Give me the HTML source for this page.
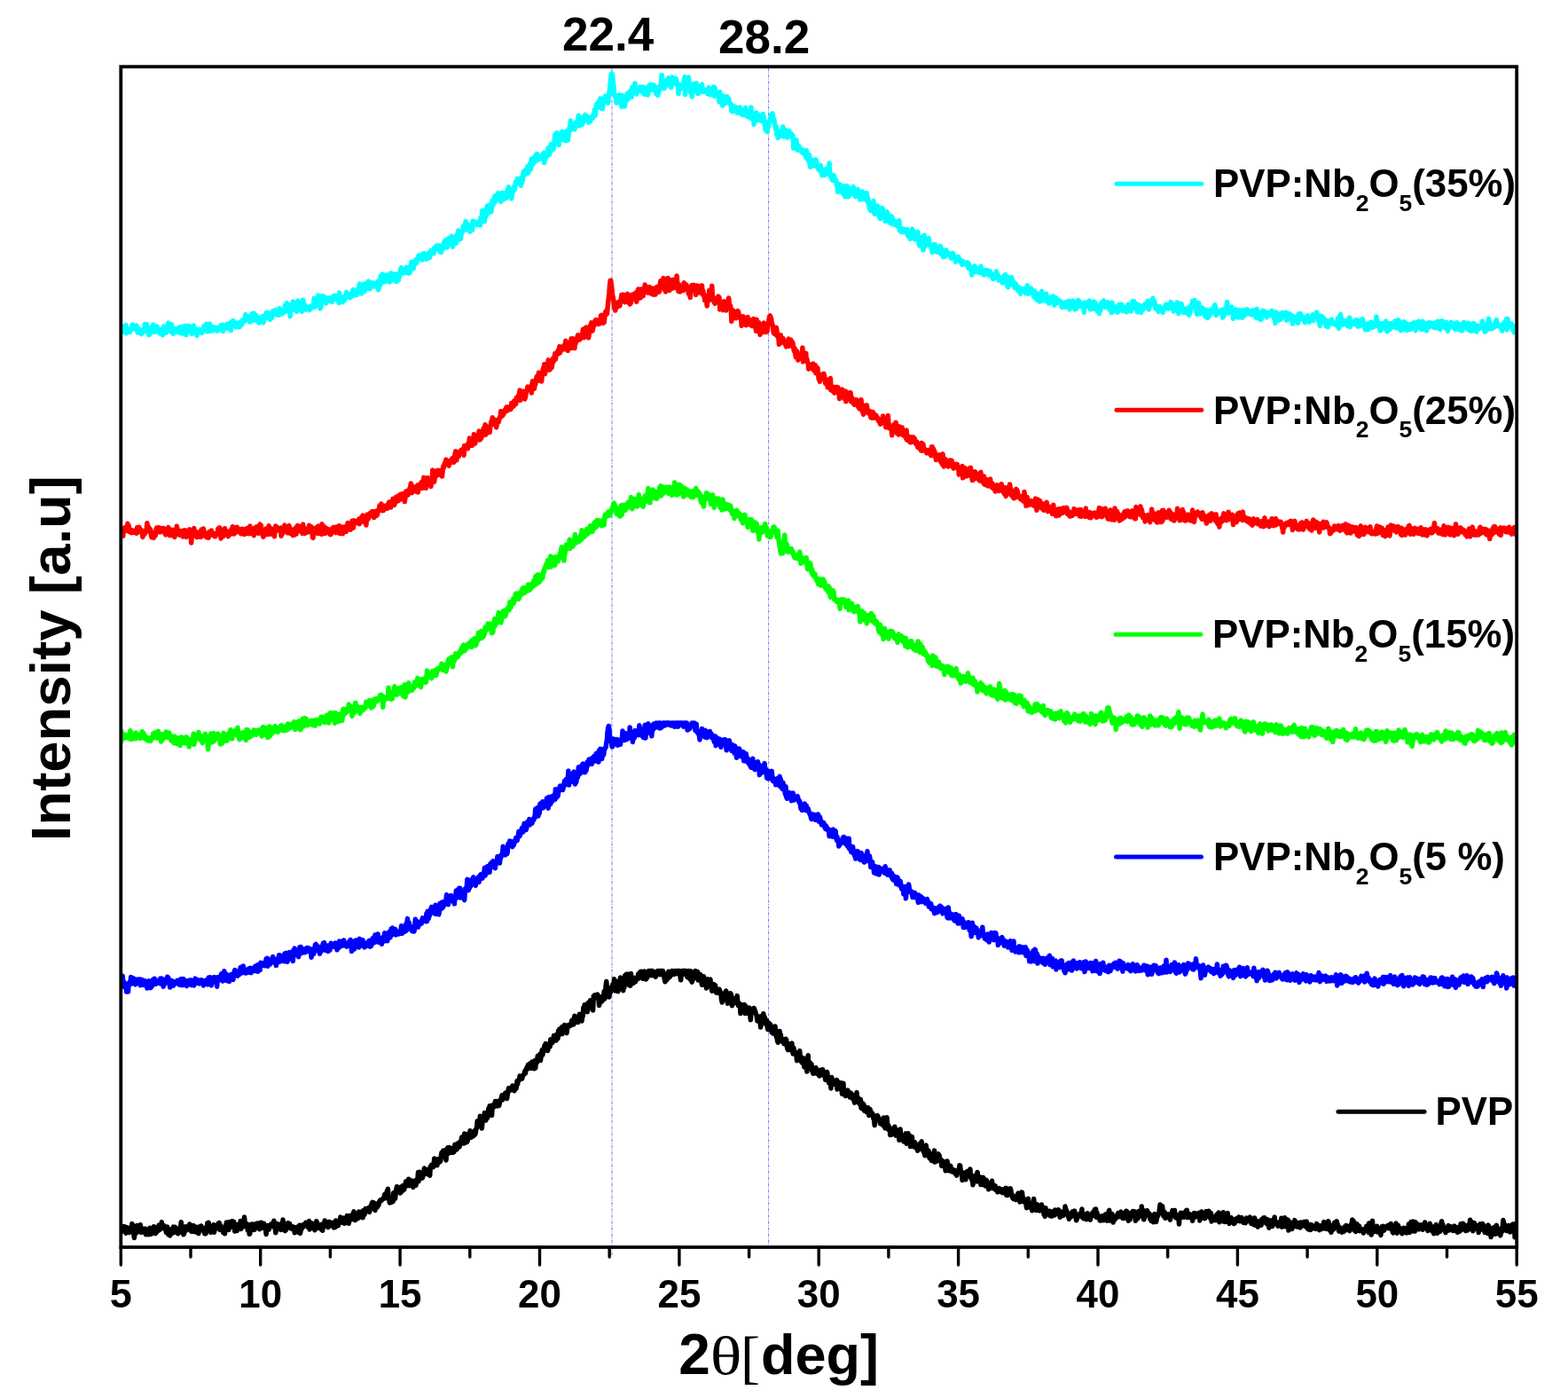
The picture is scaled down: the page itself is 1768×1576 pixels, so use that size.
<!DOCTYPE html>
<html><head><meta charset="utf-8"><style>
html,body{margin:0;padding:0;background:#fff;}
body{width:1768px;height:1576px;overflow:hidden;}
svg{display:block;}
text{font-family:"Liberation Sans",Arial,sans-serif;font-weight:bold;fill:#000;}
.tl{font-size:45px;text-anchor:middle;}
.lg{font-size:43.8px;}
.sub{font-size:26.5px;}
.pk{font-size:53px;}
.ax{font-size:64px;}
.serif{font-family:"Liberation Serif","Times New Roman",serif;font-weight:normal;}
</style></head><body>
<svg width="1768" height="1576" viewBox="0 0 1768 1576">
<rect width="1768" height="1576" fill="#fff"/>
<g stroke="#0000ff" stroke-width="1" stroke-dasharray="3.5 1.3 1 1.3" opacity="0.55">
<line x1="690" y1="77" x2="690" y2="1415"/>
<line x1="866.6" y1="77" x2="866.6" y2="1406"/>
</g>
<defs><clipPath id="pc"><rect x="136.3" y="0" width="1573.9" height="1576"/></clipPath></defs>
<g fill="none" stroke-width="5.5" stroke-linejoin="round" stroke-linecap="round" clip-path="url(#pc)">
<path d="M136.3 370.9L136.9 374.2 137.6 374.4 138.2 368.5 138.8 369.2 139.4 368.9 140.1 373.1 140.7 372.1 141.3 373.4 142.0 366.4 142.6 375.8 143.2 370.1 143.9 371.8 144.5 371.3 145.1 371.4 145.7 372.9 146.4 374.5 147.0 371.7 147.6 370.4 148.3 371.3 148.9 366.6 149.5 366.1 150.2 370.9 150.8 369.8 151.4 367.5 152.0 370.8 152.7 369.7 153.3 368.4 153.9 367.0 154.6 372.2 155.2 375.0 155.8 372.9 156.5 370.7 157.1 373.9 157.7 373.5 158.3 372.0 159.0 376.1 159.6 376.6 160.2 373.7 160.9 372.8 161.5 373.7 162.1 371.0 162.8 373.8 163.4 365.5 164.0 367.1 164.6 367.4 165.3 365.6 165.9 370.8 166.5 374.0 167.2 372.2 167.8 377.8 168.4 377.2 169.1 376.2 169.7 375.7 170.3 374.9 170.9 368.8 171.6 372.3 172.2 372.0 172.8 366.1 173.5 372.4 174.1 371.4 174.7 374.2 175.4 372.0 176.0 370.6 176.6 371.7 177.2 368.1 177.9 372.7 178.5 371.6 179.1 374.9 179.8 372.3 180.4 376.1 181.0 375.1 181.7 371.8 182.3 374.4 182.9 376.5 183.5 377.6 184.2 368.1 184.8 374.4 185.4 373.3 186.1 373.0 186.7 370.7 187.3 375.3 188.0 368.6 188.6 371.7 189.2 370.8 189.8 363.9 190.5 368.1 191.1 365.5 191.7 369.2 192.4 373.1 193.0 373.7 193.6 365.7 194.3 375.0 194.9 374.3 195.5 376.1 196.1 373.8 196.8 370.6 197.4 370.9 198.0 370.8 198.7 372.2 199.3 370.7 199.9 373.1 200.6 374.3 201.2 372.3 201.8 371.2 202.4 368.8 203.1 370.8 203.7 375.7 204.3 373.8 205.0 368.2 205.6 375.5 206.2 372.8 206.9 376.3 207.5 369.8 208.1 369.3 208.7 367.2 209.4 374.7 210.0 377.5 210.6 369.2 211.3 370.5 211.9 372.8 212.5 367.2 213.2 368.1 213.8 367.9 214.4 369.9 215.0 373.3 215.7 371.8 216.3 376.4 216.9 373.3 217.6 375.0 218.2 367.1 218.8 369.1 219.5 374.4 220.1 370.6 220.7 373.1 221.3 374.4 222.0 378.3 222.6 374.5 223.2 375.1 223.9 372.3 224.5 371.3 225.1 371.8 225.8 373.6 226.4 372.5 227.0 374.7 227.6 375.3 228.3 373.8 228.9 373.0 229.5 368.1 230.2 369.8 230.8 368.4 231.4 371.1 232.1 369.7 232.7 365.3 233.3 365.7 233.9 373.8 234.6 367.6 235.2 370.1 235.8 373.6 236.5 365.0 237.1 368.7 237.7 371.5 238.4 372.4 239.0 371.6 239.6 373.0 240.2 372.3 240.9 368.9 241.5 371.2 242.1 369.4 242.8 370.5 243.4 369.2 244.0 371.1 244.7 372.9 245.3 371.4 245.9 372.5 246.5 370.8 247.2 369.9 247.8 368.8 248.4 367.2 249.1 370.8 249.7 371.7 250.3 372.0 251.0 366.3 251.6 373.4 252.2 366.9 252.8 367.7 253.5 369.2 254.1 369.8 254.7 369.8 255.4 368.1 256.0 365.2 256.6 366.1 257.3 370.2 257.9 369.9 258.5 367.3 259.1 369.0 259.8 363.9 260.4 372.6 261.0 363.0 261.7 366.6 262.3 366.8 262.9 361.4 263.6 367.0 264.2 367.3 264.8 367.1 265.4 366.9 266.1 368.7 266.7 366.0 267.3 367.2 268.0 364.1 268.6 366.0 269.2 365.3 269.9 368.7 270.5 364.9 271.1 363.1 271.7 366.5 272.4 366.2 273.0 365.0 273.6 360.5 274.3 363.6 274.9 361.0 275.5 361.9 276.2 360.8 276.8 354.5 277.4 361.0 278.0 357.1 278.7 357.9 279.3 356.3 279.9 356.6 280.6 357.6 281.2 362.5 281.8 362.9 282.5 360.1 283.1 362.4 283.7 359.6 284.3 353.7 285.0 361.1 285.6 360.2 286.2 353.1 286.9 360.3 287.5 361.1 288.1 356.6 288.8 355.4 289.4 359.5 290.0 358.4 290.6 358.4 291.3 361.9 291.9 364.0 292.5 358.6 293.2 360.7 293.8 360.9 294.4 360.1 295.1 360.7 295.7 356.8 296.3 360.4 296.9 363.8 297.6 361.5 298.2 356.1 298.8 357.2 299.5 358.3 300.1 355.7 300.7 352.3 301.4 358.3 302.0 353.0 302.6 357.2 303.2 355.5 303.9 353.1 304.5 360.3 305.1 356.3 305.8 353.2 306.4 358.5 307.0 354.7 307.7 350.6 308.3 352.8 308.9 354.9 309.5 353.6 310.2 351.4 310.8 349.4 311.4 352.2 312.1 349.8 312.7 354.9 313.3 352.1 314.0 353.1 314.6 355.1 315.2 347.6 315.8 348.8 316.5 353.8 317.1 351.3 317.7 352.1 318.4 353.6 319.0 350.5 319.6 352.4 320.3 349.2 320.9 350.4 321.5 344.0 322.1 350.9 322.8 345.7 323.4 341.6 324.0 345.1 324.7 343.8 325.3 346.1 325.9 343.8 326.6 347.8 327.2 356.7 327.8 344.1 328.4 345.3 329.1 344.3 329.7 346.8 330.3 340.0 331.0 342.4 331.6 347.2 332.2 345.0 332.9 349.9 333.5 344.3 334.1 343.8 334.7 351.3 335.4 340.7 336.0 339.0 336.6 342.1 337.3 343.1 337.9 345.8 338.5 344.6 339.2 341.5 339.8 344.6 340.4 351.2 341.0 347.0 341.7 338.0 342.3 344.4 342.9 342.7 343.6 345.8 344.2 344.8 344.8 349.0 345.5 348.1 346.1 348.5 346.7 346.4 347.3 347.9 348.0 348.6 348.6 349.5 349.2 348.7 349.9 345.2 350.5 348.3 351.1 345.0 351.8 345.5 352.4 345.8 353.0 344.3 353.6 342.1 354.3 336.3 354.9 346.3 355.5 343.8 356.2 343.3 356.8 344.6 357.4 341.4 358.1 339.6 358.7 333.1 359.3 340.1 359.9 338.0 360.6 345.8 361.2 347.9 361.8 345.5 362.5 336.6 363.1 333.7 363.7 338.0 364.4 333.7 365.0 337.5 365.6 337.1 366.2 337.2 366.9 335.1 367.5 342.0 368.1 339.0 368.8 339.3 369.4 339.1 370.0 336.9 370.7 337.9 371.3 336.2 371.9 338.4 372.5 339.1 373.2 335.8 373.8 335.3 374.4 340.5 375.1 334.9 375.7 338.0 376.3 336.9 377.0 333.3 377.6 333.3 378.2 335.5 378.8 335.1 379.5 336.9 380.1 333.6 380.7 334.2 381.4 336.1 382.0 341.5 382.6 329.9 383.3 337.4 383.9 336.9 384.5 338.2 385.1 335.0 385.8 338.0 386.4 340.6 387.0 337.4 387.7 339.1 388.3 337.7 388.9 334.4 389.6 336.6 390.2 333.4 390.8 329.4 391.4 332.7 392.1 331.0 392.7 334.2 393.3 331.7 394.0 332.1 394.6 335.7 395.2 334.8 395.9 333.4 396.5 330.7 397.1 329.5 397.7 327.5 398.4 326.6 399.0 333.0 399.6 332.2 400.3 328.0 400.9 332.5 401.5 329.8 402.2 332.6 402.8 328.1 403.4 326.2 404.0 328.3 404.7 326.6 405.3 320.1 405.9 327.2 406.6 330.4 407.2 321.6 407.8 331.0 408.5 325.4 409.1 324.7 409.7 325.1 410.3 320.2 411.0 328.6 411.6 325.5 412.2 321.0 412.9 321.9 413.5 319.2 414.1 320.5 414.8 325.0 415.4 317.1 416.0 321.2 416.6 322.4 417.3 325.6 417.9 324.4 418.5 320.3 419.2 319.7 419.8 322.1 420.4 318.6 421.1 319.8 421.7 322.5 422.3 323.0 422.9 321.1 423.6 319.7 424.2 321.0 424.8 318.9 425.5 320.0 426.1 317.2 426.7 326.8 427.4 323.1 428.0 322.8 428.6 319.9 429.2 311.0 429.9 316.7 430.5 319.0 431.1 308.9 431.8 313.8 432.4 315.6 433.0 309.9 433.7 315.0 434.3 317.7 434.9 315.1 435.5 311.9 436.2 315.5 436.8 310.1 437.4 314.6 438.1 316.4 438.7 312.4 439.3 318.0 440.0 313.2 440.6 308.0 441.2 313.5 441.8 309.4 442.5 313.0 443.1 308.8 443.7 315.8 444.4 309.3 445.0 312.3 445.6 309.1 446.3 309.8 446.9 317.6 447.5 311.7 448.1 310.4 448.8 309.2 449.4 315.8 450.0 312.3 450.7 307.5 451.3 308.5 451.9 302.6 452.6 301.8 453.2 302.7 453.8 308.0 454.4 308.0 455.1 304.1 455.7 307.8 456.3 307.5 457.0 306.7 457.6 304.6 458.2 301.4 458.9 301.7 459.5 305.4 460.1 306.0 460.7 308.3 461.4 302.1 462.0 307.6 462.6 300.0 463.3 299.9 463.9 295.2 464.5 300.3 465.2 302.9 465.8 303.0 466.4 302.0 467.0 294.7 467.7 297.0 468.3 297.6 468.9 292.7 469.6 296.6 470.2 293.4 470.8 292.1 471.5 292.1 472.1 288.0 472.7 288.4 473.3 288.3 474.0 291.8 474.6 290.2 475.2 290.9 475.9 293.1 476.5 286.2 477.1 286.9 477.8 289.6 478.4 285.5 479.0 287.8 479.6 290.3 480.3 292.1 480.9 291.5 481.5 288.5 482.2 287.3 482.8 291.2 483.4 285.4 484.1 287.3 484.7 290.2 485.3 283.9 485.9 282.4 486.6 283.8 487.2 285.5 487.8 285.2 488.5 284.0 489.1 285.7 489.7 279.8 490.4 281.0 491.0 281.6 491.6 278.2 492.2 277.2 492.9 277.5 493.5 278.1 494.1 279.7 494.8 276.9 495.4 279.2 496.0 283.8 496.7 279.6 497.3 284.5 497.9 283.3 498.5 279.4 499.2 280.2 499.8 275.3 500.4 279.8 501.1 272.1 501.7 279.0 502.3 277.3 503.0 270.6 503.6 276.8 504.2 278.9 504.8 271.8 505.5 275.9 506.1 268.5 506.7 274.7 507.4 268.6 508.0 275.8 508.6 269.9 509.3 266.3 509.9 273.6 510.5 278.3 511.1 268.3 511.8 271.6 512.4 271.3 513.0 270.1 513.7 272.7 514.3 274.3 514.9 264.9 515.6 266.8 516.2 264.8 516.8 260.0 517.4 268.5 518.1 269.9 518.7 261.0 519.3 269.3 520.0 263.5 520.6 260.5 521.2 262.2 521.9 259.2 522.5 254.7 523.1 259.3 523.7 259.2 524.4 257.8 525.0 249.6 525.6 250.0 526.3 258.4 526.9 254.6 527.5 258.0 528.2 253.8 528.8 256.0 529.4 253.8 530.0 261.2 530.7 255.2 531.3 259.0 531.9 258.1 532.6 259.2 533.2 249.2 533.8 251.4 534.5 249.7 535.1 251.0 535.7 251.6 536.3 250.3 537.0 253.3 537.6 251.5 538.2 253.6 538.9 252.5 539.5 250.3 540.1 249.9 540.8 249.6 541.4 254.0 542.0 245.2 542.6 244.7 543.3 247.5 543.9 237.2 544.5 237.7 545.2 238.1 545.8 242.5 546.4 249.7 547.1 242.4 547.7 244.3 548.3 240.7 548.9 233.8 549.6 232.1 550.2 240.8 550.8 237.5 551.5 236.7 552.1 238.8 552.7 230.4 553.4 237.7 554.0 238.6 554.6 232.0 555.2 225.7 555.9 231.3 556.5 224.8 557.1 228.7 557.8 221.0 558.4 227.6 559.0 224.8 559.7 223.5 560.3 221.0 560.9 224.6 561.5 217.7 562.2 222.2 562.8 221.3 563.4 223.8 564.1 218.8 564.7 227.2 565.3 221.0 566.0 217.3 566.6 225.8 567.2 225.4 567.8 220.2 568.5 217.7 569.1 221.3 569.7 218.6 570.4 219.5 571.0 223.3 571.6 218.8 572.3 215.1 572.9 212.9 573.5 210.7 574.1 213.9 574.8 215.0 575.4 213.5 576.0 217.6 576.7 223.9 577.3 218.1 577.9 215.4 578.6 215.8 579.2 213.9 579.8 210.3 580.4 213.6 581.1 206.2 581.7 204.7 582.3 206.5 583.0 203.9 583.6 201.4 584.2 202.4 584.9 202.2 585.5 207.2 586.1 202.8 586.7 203.4 587.4 209.3 588.0 199.7 588.6 205.9 589.3 203.0 589.9 196.1 590.5 193.0 591.2 197.6 591.8 195.0 592.4 194.3 593.0 191.6 593.7 192.0 594.3 195.7 594.9 187.5 595.6 194.9 596.2 190.8 596.8 187.4 597.5 184.5 598.1 191.2 598.7 188.4 599.3 179.0 600.0 186.0 600.6 185.0 601.2 184.7 601.9 179.7 602.5 177.2 603.1 182.8 603.8 176.5 604.4 174.3 605.0 174.5 605.6 173.6 606.3 180.6 606.9 178.8 607.5 177.3 608.2 177.5 608.8 178.1 609.4 179.1 610.1 176.6 610.7 176.7 611.3 174.6 611.9 174.8 612.6 178.1 613.2 172.3 613.8 183.4 614.5 175.0 615.1 175.3 615.7 177.8 616.4 175.0 617.0 173.5 617.6 172.2 618.2 166.8 618.9 173.6 619.5 174.3 620.1 166.7 620.8 171.0 621.4 162.5 622.0 163.9 622.7 167.9 623.3 166.0 623.9 168.4 624.5 163.4 625.2 158.1 625.8 151.8 626.4 152.5 627.1 151.9 627.7 149.7 628.3 157.1 629.0 155.8 629.6 151.8 630.2 163.6 630.8 153.5 631.5 150.8 632.1 156.2 632.7 153.0 633.4 148.9 634.0 148.2 634.6 148.7 635.3 157.8 635.9 156.2 636.5 152.6 637.1 154.1 637.8 158.7 638.4 149.8 639.0 151.4 639.7 147.1 640.3 158.2 640.9 152.8 641.6 148.2 642.2 143.8 642.8 146.0 643.4 136.0 644.1 146.3 644.7 140.7 645.3 140.8 646.0 142.1 646.6 143.4 647.2 145.0 647.9 145.8 648.5 142.1 649.1 138.1 649.7 142.8 650.4 138.9 651.0 141.1 651.6 137.1 652.3 130.3 652.9 135.7 653.5 141.8 654.2 136.7 654.8 132.8 655.4 136.5 656.0 137.8 656.7 140.2 657.3 136.4 657.9 136.9 658.6 136.1 659.2 130.7 659.8 129.4 660.5 133.4 661.1 135.4 661.7 133.4 662.3 133.9 663.0 131.6 663.6 138.0 664.2 132.5 664.9 135.7 665.5 137.0 666.1 132.8 666.8 132.5 667.4 132.8 668.0 133.5 668.6 129.5 669.3 128.5 669.9 128.4 670.5 123.4 671.2 130.3 671.8 123.8 672.4 118.2 673.1 120.5 673.7 116.3 674.3 118.9 674.9 121.2 675.6 114.3 676.2 119.1 676.8 111.0 677.5 115.7 678.1 117.4 678.7 122.6 679.4 122.7 680.0 116.5 680.6 113.4 681.2 110.6 681.9 114.5 682.5 108.5 683.1 114.1 683.8 113.3 684.4 113.8 685.0 112.0 685.7 116.1 686.3 106.6 686.9 105.4 687.5 100.8 688.2 94.1 688.8 87.5 689.4 83.0 690.1 83.3 690.7 85.4 691.3 93.6 692.0 97.9 692.6 106.6 693.2 106.7 693.8 108.8 694.5 110.3 695.1 116.0 695.7 111.1 696.4 111.4 697.0 114.9 697.6 109.0 698.3 107.0 698.9 113.3 699.5 112.4 700.1 116.9 700.8 119.9 701.4 107.5 702.0 120.2 702.7 117.9 703.3 115.4 703.9 114.5 704.6 119.7 705.2 112.8 705.8 111.4 706.4 111.9 707.1 105.4 707.7 112.4 708.3 109.9 709.0 108.3 709.6 109.6 710.2 102.8 710.9 109.7 711.5 102.4 712.1 109.6 712.7 98.6 713.4 104.4 714.0 99.4 714.6 101.6 715.3 98.5 715.9 94.0 716.5 100.0 717.2 105.2 717.8 106.1 718.4 99.0 719.0 99.8 719.7 102.4 720.3 102.0 720.9 98.9 721.6 98.1 722.2 101.6 722.8 102.8 723.5 103.2 724.1 98.1 724.7 104.6 725.3 103.8 726.0 98.2 726.6 106.4 727.2 102.9 727.9 99.1 728.5 106.1 729.1 103.8 729.8 105.0 730.4 107.0 731.0 105.0 731.6 96.5 732.3 99.0 732.9 100.7 733.5 95.3 734.2 97.1 734.8 98.7 735.4 101.6 736.1 101.3 736.7 98.9 737.3 96.0 737.9 100.1 738.6 99.1 739.2 98.2 739.8 105.6 740.5 102.2 741.1 99.8 741.7 107.5 742.4 103.4 743.0 103.6 743.6 97.6 744.2 99.0 744.9 95.5 745.5 93.5 746.1 84.6 746.8 99.1 747.4 93.9 748.0 95.3 748.7 99.8 749.3 98.0 749.9 98.3 750.5 91.1 751.2 95.0 751.8 90.9 752.4 93.1 753.1 94.3 753.7 87.7 754.3 88.1 755.0 91.8 755.6 97.3 756.2 96.6 756.8 98.6 757.5 89.6 758.1 87.1 758.7 93.3 759.4 94.3 760.0 91.1 760.6 91.8 761.3 90.9 761.9 88.5 762.5 89.6 763.1 93.2 763.8 95.9 764.4 96.8 765.0 105.6 765.7 98.7 766.3 99.8 766.9 95.5 767.6 95.7 768.2 99.7 768.8 98.9 769.4 96.9 770.1 98.6 770.7 96.9 771.3 90.5 772.0 86.8 772.6 106.7 773.2 102.2 773.9 100.8 774.5 93.2 775.1 93.2 775.7 99.6 776.4 87.1 777.0 95.0 777.6 100.3 778.3 99.1 778.9 105.0 779.5 99.9 780.2 109.1 780.8 96.4 781.4 94.9 782.0 97.3 782.7 102.4 783.3 96.0 783.9 101.1 784.6 95.9 785.2 93.7 785.8 102.9 786.5 105.3 787.1 105.7 787.7 99.9 788.3 99.7 789.0 97.4 789.6 98.9 790.2 102.2 790.9 102.7 791.5 95.1 792.1 103.5 792.8 103.3 793.4 103.3 794.0 101.1 794.6 101.1 795.3 103.3 795.9 102.5 796.5 102.9 797.2 101.6 797.8 105.8 798.4 104.5 799.1 98.8 799.7 105.3 800.3 102.8 800.9 106.9 801.6 103.3 802.2 103.9 802.8 105.4 803.5 105.8 804.1 103.0 804.7 97.9 805.4 108.4 806.0 98.7 806.6 101.8 807.2 106.6 807.9 106.4 808.5 107.6 809.1 106.8 809.8 107.9 810.4 105.1 811.0 114.9 811.7 103.7 812.3 113.1 812.9 113.1 813.5 112.5 814.2 115.2 814.8 119.0 815.4 109.4 816.1 108.5 816.7 114.3 817.3 113.8 818.0 116.6 818.6 112.5 819.2 112.7 819.8 109.0 820.5 111.4 821.1 111.8 821.7 111.1 822.4 115.3 823.0 116.6 823.6 117.9 824.3 117.4 824.9 125.3 825.5 123.6 826.1 125.6 826.8 120.5 827.4 120.3 828.0 120.1 828.7 121.6 829.3 120.6 829.9 121.6 830.6 126.7 831.2 127.4 831.8 123.6 832.4 125.2 833.1 124.1 833.7 126.5 834.3 120.9 835.0 123.1 835.6 128.4 836.2 127.0 836.9 125.9 837.5 126.6 838.1 129.6 838.7 128.7 839.4 129.3 840.0 124.2 840.6 121.5 841.3 130.3 841.9 129.4 842.5 131.3 843.2 130.9 843.8 126.5 844.4 130.4 845.0 131.3 845.7 132.9 846.3 131.9 846.9 121.1 847.6 129.5 848.2 133.0 848.8 134.3 849.5 131.6 850.1 140.2 850.7 137.5 851.3 135.1 852.0 135.9 852.6 126.9 853.2 132.0 853.9 131.8 854.5 128.8 855.1 133.7 855.8 135.5 856.4 134.7 857.0 134.4 857.6 134.6 858.3 136.2 858.9 134.3 859.5 136.5 860.2 128.5 860.8 135.1 861.4 132.2 862.1 139.1 862.7 144.2 863.3 146.9 863.9 146.6 864.6 146.1 865.2 148.6 865.8 139.7 866.5 143.1 867.1 136.7 867.7 136.8 868.4 135.5 869.0 132.0 869.6 129.9 870.2 128.5 870.9 128.0 871.5 130.7 872.1 133.4 872.8 134.8 873.4 140.3 874.0 140.7 874.7 145.8 875.3 143.5 875.9 151.9 876.5 147.0 877.2 155.6 877.8 152.9 878.4 151.8 879.1 152.2 879.7 150.3 880.3 150.8 881.0 153.1 881.6 148.2 882.2 145.5 882.8 142.9 883.5 150.9 884.1 154.1 884.7 153.1 885.4 153.2 886.0 152.9 886.6 147.1 887.3 153.0 887.9 155.2 888.5 147.9 889.1 153.7 889.8 147.6 890.4 153.3 891.0 151.3 891.7 152.3 892.3 150.7 892.9 151.8 893.6 155.9 894.2 153.2 894.8 167.2 895.4 160.5 896.1 161.0 896.7 160.7 897.3 162.3 898.0 158.0 898.6 166.8 899.2 169.2 899.9 163.9 900.5 167.4 901.1 164.9 901.7 168.7 902.4 168.3 903.0 169.8 903.6 171.3 904.3 168.6 904.9 172.1 905.5 169.1 906.2 173.2 906.8 173.3 907.4 170.5 908.0 170.1 908.7 177.5 909.3 169.6 909.9 173.2 910.6 174.0 911.2 181.1 911.8 179.4 912.5 174.5 913.1 184.5 913.7 188.3 914.3 187.5 915.0 179.7 915.6 183.6 916.2 183.8 916.9 186.8 917.5 184.0 918.1 180.9 918.8 186.1 919.4 186.8 920.0 179.8 920.6 183.1 921.3 186.7 921.9 188.4 922.5 190.1 923.2 191.6 923.8 191.3 924.4 189.5 925.1 186.3 925.7 192.9 926.3 194.8 926.9 197.8 927.6 192.5 928.2 191.3 928.8 196.6 929.5 197.6 930.1 191.8 930.7 192.6 931.4 190.7 932.0 194.3 932.6 190.3 933.2 196.1 933.9 195.8 934.5 193.5 935.1 184.1 935.8 195.3 936.4 199.0 937.0 199.0 937.7 199.2 938.3 202.7 938.9 203.1 939.5 202.7 940.2 197.8 940.8 201.8 941.4 201.1 942.1 203.2 942.7 203.4 943.3 208.5 944.0 206.0 944.6 216.2 945.2 207.6 945.8 207.6 946.5 208.8 947.1 216.0 947.7 208.4 948.4 212.9 949.0 210.8 949.6 212.3 950.3 213.9 950.9 218.3 951.5 210.0 952.1 216.2 952.8 221.8 953.4 215.0 954.0 215.8 954.7 214.0 955.3 209.6 955.9 219.1 956.6 221.7 957.2 217.3 957.8 212.3 958.4 215.3 959.1 214.0 959.7 218.7 960.3 217.7 961.0 213.9 961.6 217.3 962.2 210.6 962.9 218.3 963.5 216.1 964.1 220.5 964.7 221.6 965.4 218.4 966.0 220.6 966.6 217.8 967.3 213.5 967.9 219.8 968.5 221.7 969.2 218.6 969.8 224.9 970.4 224.6 971.0 224.2 971.7 219.0 972.3 216.0 972.9 224.3 973.6 223.7 974.2 223.5 974.8 222.8 975.5 223.5 976.1 224.6 976.7 222.5 977.3 217.6 978.0 227.1 978.6 222.8 979.2 227.1 979.9 231.0 980.5 235.6 981.1 230.5 981.8 237.7 982.4 234.9 983.0 235.3 983.6 236.7 984.3 232.2 984.9 226.6 985.5 238.8 986.2 241.3 986.8 240.9 987.4 237.1 988.1 237.6 988.7 237.8 989.3 232.0 989.9 236.7 990.6 236.4 991.2 243.9 991.8 239.8 992.5 246.8 993.1 239.9 993.7 234.4 994.4 244.4 995.0 234.7 995.6 239.3 996.2 245.1 996.9 242.1 997.5 242.0 998.1 249.2 998.8 247.0 999.4 240.6 1000.0 238.8 1000.7 241.1 1001.3 245.7 1001.9 242.1 1002.5 246.7 1003.2 251.2 1003.8 251.2 1004.4 251.0 1005.1 250.8 1005.7 244.0 1006.3 252.8 1007.0 252.0 1007.6 250.7 1008.2 250.1 1008.8 249.4 1009.5 250.7 1010.1 253.8 1010.7 251.2 1011.4 252.3 1012.0 251.9 1012.6 255.2 1013.3 251.1 1013.9 248.7 1014.5 259.7 1015.1 257.3 1015.8 261.2 1016.4 257.1 1017.0 261.5 1017.7 261.0 1018.3 261.7 1018.9 259.6 1019.6 258.5 1020.2 259.3 1020.8 259.1 1021.4 262.0 1022.1 262.2 1022.7 258.4 1023.3 264.9 1024.0 262.5 1024.6 266.8 1025.2 264.8 1025.9 262.1 1026.5 269.4 1027.1 266.9 1027.7 261.6 1028.4 258.3 1029.0 262.7 1029.6 260.2 1030.3 262.0 1030.9 266.4 1031.5 269.8 1032.2 262.3 1032.8 267.5 1033.4 267.9 1034.0 263.2 1034.7 261.4 1035.3 271.1 1035.9 271.2 1036.6 277.0 1037.2 274.4 1037.8 271.9 1038.5 274.3 1039.1 267.4 1039.7 272.7 1040.3 272.4 1041.0 282.1 1041.6 275.6 1042.2 265.2 1042.9 277.9 1043.5 269.7 1044.1 274.9 1044.8 270.6 1045.4 273.4 1046.0 273.3 1046.6 272.5 1047.3 268.6 1047.9 276.3 1048.5 275.1 1049.2 275.8 1049.8 279.3 1050.4 278.3 1051.1 284.5 1051.7 277.5 1052.3 278.1 1052.9 279.4 1053.6 275.5 1054.2 275.6 1054.8 282.0 1055.5 281.9 1056.1 284.1 1056.7 282.5 1057.4 278.9 1058.0 282.5 1058.6 282.8 1059.2 284.8 1059.9 282.6 1060.5 277.5 1061.1 286.5 1061.8 283.3 1062.4 287.0 1063.0 281.7 1063.7 289.8 1064.3 282.9 1064.9 287.3 1065.5 289.3 1066.2 287.8 1066.8 281.9 1067.4 283.5 1068.1 284.2 1068.7 287.1 1069.3 286.7 1070.0 285.6 1070.6 285.9 1071.2 286.4 1071.8 288.4 1072.5 291.1 1073.1 288.0 1073.7 289.6 1074.4 285.4 1075.0 287.8 1075.6 289.9 1076.3 289.3 1076.9 293.0 1077.5 295.2 1078.1 290.9 1078.8 292.3 1079.4 289.9 1080.0 292.2 1080.7 289.5 1081.3 292.5 1081.9 291.9 1082.6 293.8 1083.2 296.1 1083.8 294.6 1084.4 294.0 1085.1 298.4 1085.7 294.2 1086.3 298.1 1087.0 296.5 1087.6 297.7 1088.2 297.2 1088.9 296.8 1089.5 297.6 1090.1 296.9 1090.7 296.0 1091.4 301.2 1092.0 296.7 1092.6 302.8 1093.3 299.9 1093.9 303.3 1094.5 300.6 1095.2 303.8 1095.8 310.0 1096.4 306.5 1097.0 305.7 1097.7 303.8 1098.3 305.9 1098.9 299.9 1099.6 300.8 1100.2 304.8 1100.8 306.8 1101.5 302.8 1102.1 303.9 1102.7 304.1 1103.3 306.7 1104.0 303.1 1104.6 302.7 1105.2 307.8 1105.9 300.3 1106.5 302.8 1107.1 305.6 1107.8 304.3 1108.4 308.3 1109.0 309.5 1109.6 309.9 1110.3 304.4 1110.9 305.9 1111.5 308.3 1112.2 307.4 1112.8 304.6 1113.4 308.9 1114.1 306.5 1114.7 306.6 1115.3 310.5 1115.9 305.5 1116.6 307.8 1117.2 310.5 1117.8 309.3 1118.5 309.1 1119.1 313.7 1119.7 314.7 1120.4 314.1 1121.0 313.2 1121.6 310.6 1122.2 309.8 1122.9 310.4 1123.5 305.9 1124.1 312.0 1124.8 309.0 1125.4 311.0 1126.0 315.9 1126.7 312.8 1127.3 312.8 1127.9 316.2 1128.5 314.5 1129.2 314.4 1129.8 313.5 1130.4 319.0 1131.1 317.0 1131.7 316.3 1132.3 310.7 1133.0 316.6 1133.6 309.4 1134.2 315.6 1134.8 313.4 1135.5 321.9 1136.1 312.6 1136.7 323.7 1137.4 322.0 1138.0 313.7 1138.6 317.2 1139.3 320.7 1139.9 319.7 1140.5 312.4 1141.1 315.5 1141.8 316.5 1142.4 318.3 1143.0 318.1 1143.7 324.3 1144.3 320.7 1144.9 320.9 1145.6 320.4 1146.2 323.6 1146.8 325.6 1147.4 323.3 1148.1 327.7 1148.7 323.7 1149.3 327.5 1150.0 327.3 1150.6 331.2 1151.2 325.5 1151.9 326.3 1152.5 327.3 1153.1 325.5 1153.7 326.3 1154.4 328.0 1155.0 325.5 1155.6 328.0 1156.3 330.4 1156.9 327.2 1157.5 330.5 1158.2 321.8 1158.8 324.8 1159.4 331.2 1160.0 328.5 1160.7 326.6 1161.3 327.8 1161.9 329.7 1162.6 324.9 1163.2 330.3 1163.8 327.6 1164.5 328.8 1165.1 329.5 1165.7 334.4 1166.3 328.0 1167.0 331.1 1167.6 336.4 1168.2 331.6 1168.9 330.5 1169.5 338.4 1170.1 336.4 1170.8 335.2 1171.4 336.6 1172.0 332.5 1172.6 340.1 1173.3 331.5 1173.9 331.1 1174.5 328.2 1175.2 333.0 1175.8 338.7 1176.4 334.4 1177.1 336.8 1177.7 333.8 1178.3 338.7 1178.9 334.5 1179.6 331.2 1180.2 337.4 1180.8 336.8 1181.5 340.6 1182.1 340.1 1182.7 342.0 1183.4 341.7 1184.0 336.8 1184.6 335.0 1185.2 340.6 1185.9 336.3 1186.5 338.9 1187.1 338.4 1187.8 333.9 1188.4 336.9 1189.0 344.1 1189.7 338.4 1190.3 338.7 1190.9 336.0 1191.5 339.7 1192.2 340.1 1192.8 339.9 1193.4 341.2 1194.1 339.6 1194.7 338.9 1195.3 341.2 1196.0 341.8 1196.6 340.2 1197.2 346.2 1197.8 342.7 1198.5 344.0 1199.1 341.4 1199.7 346.3 1200.4 342.5 1201.0 340.7 1201.6 340.7 1202.3 344.5 1202.9 340.6 1203.5 346.2 1204.1 343.5 1204.8 339.2 1205.4 344.2 1206.0 348.7 1206.7 341.8 1207.3 340.0 1207.9 345.7 1208.6 346.4 1209.2 345.5 1209.8 338.9 1210.4 340.2 1211.1 340.6 1211.7 343.9 1212.3 348.8 1213.0 344.5 1213.6 348.1 1214.2 347.0 1214.9 344.7 1215.5 338.4 1216.1 338.5 1216.7 341.1 1217.4 340.3 1218.0 345.2 1218.6 342.7 1219.3 344.6 1219.9 344.9 1220.5 343.1 1221.2 344.4 1221.8 345.7 1222.4 352.0 1223.0 340.9 1223.7 345.2 1224.3 345.1 1224.9 342.6 1225.6 344.2 1226.2 341.0 1226.8 342.4 1227.5 345.5 1228.1 339.0 1228.7 346.2 1229.3 348.7 1230.0 345.3 1230.6 347.1 1231.2 346.5 1231.9 345.6 1232.5 348.2 1233.1 340.0 1233.8 346.4 1234.4 343.5 1235.0 341.0 1235.6 343.7 1236.3 345.7 1236.9 350.3 1237.5 345.2 1238.2 348.7 1238.8 348.9 1239.4 353.4 1240.1 345.8 1240.7 350.3 1241.3 341.8 1241.9 344.0 1242.6 342.7 1243.2 342.7 1243.8 340.1 1244.5 338.8 1245.1 340.5 1245.7 346.4 1246.4 344.3 1247.0 341.9 1247.6 345.5 1248.2 342.1 1248.9 342.3 1249.5 340.7 1250.1 346.1 1250.8 348.8 1251.4 342.4 1252.0 346.6 1252.7 348.8 1253.3 352.6 1253.9 341.1 1254.5 348.3 1255.2 350.6 1255.8 345.4 1256.4 350.9 1257.1 349.4 1257.7 349.5 1258.3 345.8 1259.0 348.9 1259.6 346.7 1260.2 352.2 1260.8 350.2 1261.5 348.5 1262.1 343.3 1262.7 349.8 1263.4 345.1 1264.0 346.4 1264.6 343.1 1265.3 344.5 1265.9 350.6 1266.5 350.3 1267.1 346.6 1267.8 349.1 1268.4 350.4 1269.0 349.2 1269.7 347.2 1270.3 351.8 1270.9 348.9 1271.6 345.8 1272.2 343.2 1272.8 344.7 1273.4 345.7 1274.1 349.1 1274.7 346.9 1275.3 350.9 1276.0 348.0 1276.6 346.6 1277.2 339.4 1277.9 342.4 1278.5 339.8 1279.1 344.3 1279.7 344.4 1280.4 347.1 1281.0 345.7 1281.6 342.8 1282.3 351.8 1282.9 347.2 1283.5 346.5 1284.2 345.7 1284.8 344.2 1285.4 349.4 1286.0 349.3 1286.7 352.3 1287.3 349.8 1287.9 348.8 1288.6 349.0 1289.2 344.4 1289.8 344.3 1290.5 345.8 1291.1 342.9 1291.7 347.1 1292.3 343.7 1293.0 346.0 1293.6 344.7 1294.2 339.6 1294.9 343.7 1295.5 348.9 1296.1 340.7 1296.8 343.9 1297.4 343.7 1298.0 339.3 1298.6 341.8 1299.3 341.0 1299.9 336.3 1300.5 342.9 1301.2 343.6 1301.8 339.8 1302.4 344.6 1303.1 348.2 1303.7 344.8 1304.3 348.4 1304.9 348.9 1305.6 348.3 1306.2 351.4 1306.8 348.9 1307.5 345.5 1308.1 348.9 1308.7 349.0 1309.4 350.7 1310.0 348.0 1310.6 349.0 1311.2 352.2 1311.9 348.6 1312.5 348.9 1313.1 347.2 1313.8 344.6 1314.4 344.9 1315.0 343.2 1315.7 347.3 1316.3 346.3 1316.9 346.9 1317.5 348.2 1318.2 346.8 1318.8 346.8 1319.4 345.9 1320.1 340.5 1320.7 343.0 1321.3 346.2 1322.0 346.5 1322.6 345.4 1323.2 351.0 1323.8 347.3 1324.5 343.5 1325.1 346.5 1325.7 349.2 1326.4 347.4 1327.0 340.9 1327.6 347.7 1328.3 348.4 1328.9 353.7 1329.5 342.0 1330.1 350.7 1330.8 345.6 1331.4 346.9 1332.0 342.4 1332.7 345.4 1333.3 350.0 1333.9 347.8 1334.6 352.4 1335.2 351.4 1335.8 348.8 1336.4 349.6 1337.1 348.4 1337.7 348.7 1338.3 353.2 1339.0 348.0 1339.6 347.2 1340.2 351.5 1340.9 355.2 1341.5 351.7 1342.1 352.0 1342.7 349.0 1343.4 343.8 1344.0 346.3 1344.6 339.2 1345.3 342.8 1345.9 345.7 1346.5 340.7 1347.2 338.7 1347.8 342.4 1348.4 347.7 1349.0 352.4 1349.7 354.3 1350.3 351.6 1350.9 342.6 1351.6 341.7 1352.2 349.3 1352.8 353.8 1353.5 346.2 1354.1 349.3 1354.7 348.9 1355.3 348.2 1356.0 347.4 1356.6 351.8 1357.2 352.9 1357.9 351.5 1358.5 355.1 1359.1 357.0 1359.8 349.3 1360.4 351.1 1361.0 354.5 1361.6 358.4 1362.3 355.1 1362.9 357.1 1363.5 352.6 1364.2 354.9 1364.8 349.6 1365.4 352.7 1366.1 350.7 1366.7 349.2 1367.3 351.8 1367.9 349.8 1368.6 346.6 1369.2 349.3 1369.8 343.7 1370.5 350.9 1371.1 355.5 1371.7 349.4 1372.4 350.4 1373.0 350.3 1373.6 352.7 1374.2 350.8 1374.9 353.0 1375.5 351.9 1376.1 351.3 1376.8 352.6 1377.4 351.8 1378.0 349.1 1378.7 358.1 1379.3 353.8 1379.9 349.1 1380.5 356.0 1381.2 350.2 1381.8 350.6 1382.4 348.9 1383.1 344.6 1383.7 340.4 1384.3 349.3 1385.0 350.4 1385.6 353.0 1386.2 348.4 1386.8 347.9 1387.5 348.6 1388.1 349.0 1388.7 346.0 1389.4 351.5 1390.0 350.1 1390.6 359.2 1391.3 350.5 1391.9 352.8 1392.5 351.6 1393.1 348.7 1393.8 351.9 1394.4 356.6 1395.0 357.3 1395.7 354.7 1396.3 354.7 1396.9 357.9 1397.6 349.4 1398.2 355.2 1398.8 357.6 1399.4 356.8 1400.1 352.1 1400.7 350.6 1401.3 358.0 1402.0 352.5 1402.6 349.7 1403.2 350.3 1403.9 352.1 1404.5 354.9 1405.1 350.8 1405.7 352.9 1406.4 348.8 1407.0 351.9 1407.6 352.9 1408.3 350.3 1408.9 353.9 1409.5 354.2 1410.2 352.7 1410.8 354.6 1411.4 351.7 1412.0 352.8 1412.7 349.7 1413.3 352.4 1413.9 352.5 1414.6 356.1 1415.2 354.5 1415.8 355.4 1416.5 358.3 1417.1 348.3 1417.7 354.0 1418.3 350.7 1419.0 357.3 1419.6 359.2 1420.2 359.5 1420.9 357.9 1421.5 353.5 1422.1 360.4 1422.8 356.2 1423.4 353.3 1424.0 350.2 1424.6 354.5 1425.3 352.0 1425.9 351.2 1426.5 353.6 1427.2 355.6 1427.8 353.8 1428.4 357.8 1429.1 352.4 1429.7 352.8 1430.3 355.2 1430.9 353.7 1431.6 355.2 1432.2 354.8 1432.8 354.5 1433.5 353.9 1434.1 350.2 1434.7 356.4 1435.4 353.2 1436.0 357.1 1436.6 358.6 1437.2 357.7 1437.9 364.5 1438.5 352.0 1439.1 352.7 1439.8 356.0 1440.4 359.0 1441.0 355.9 1441.7 353.7 1442.3 361.0 1442.9 354.3 1443.5 357.2 1444.2 359.8 1444.8 355.5 1445.4 352.7 1446.1 356.3 1446.7 354.6 1447.3 356.4 1448.0 352.8 1448.6 355.3 1449.2 354.9 1449.8 352.3 1450.5 360.9 1451.1 358.6 1451.7 360.7 1452.4 356.5 1453.0 358.2 1453.6 357.6 1454.3 353.6 1454.9 359.0 1455.5 355.8 1456.1 359.6 1456.8 355.7 1457.4 365.0 1458.0 363.5 1458.7 360.8 1459.3 357.6 1459.9 357.5 1460.6 361.4 1461.2 358.5 1461.8 362.0 1462.4 361.8 1463.1 360.2 1463.7 364.3 1464.3 354.0 1465.0 359.1 1465.6 357.3 1466.2 353.4 1466.9 359.0 1467.5 359.4 1468.1 358.1 1468.7 356.7 1469.4 359.7 1470.0 361.3 1470.6 358.3 1471.3 363.7 1471.9 359.9 1472.5 359.0 1473.2 360.9 1473.8 357.8 1474.4 355.9 1475.0 360.0 1475.7 361.1 1476.3 363.3 1476.9 361.8 1477.6 359.0 1478.2 358.6 1478.8 357.7 1479.5 358.3 1480.1 354.7 1480.7 361.5 1481.3 358.0 1482.0 358.0 1482.6 357.7 1483.2 355.2 1483.9 356.8 1484.5 351.9 1485.1 358.2 1485.8 358.7 1486.4 361.4 1487.0 361.2 1487.6 355.7 1488.3 367.3 1488.9 361.7 1489.5 362.0 1490.2 356.5 1490.8 362.9 1491.4 360.9 1492.1 358.2 1492.7 359.9 1493.3 363.7 1493.9 360.3 1494.6 360.6 1495.2 367.5 1495.8 364.4 1496.5 363.2 1497.1 368.6 1497.7 363.8 1498.4 363.0 1499.0 364.0 1499.6 361.6 1500.2 364.5 1500.9 362.2 1501.5 360.2 1502.1 361.9 1502.8 365.1 1503.4 363.6 1504.0 365.3 1504.7 365.7 1505.3 364.9 1505.9 365.9 1506.5 364.5 1507.2 364.3 1507.8 368.2 1508.4 358.7 1509.1 363.8 1509.7 370.2 1510.3 356.5 1511.0 363.1 1511.6 354.6 1512.2 360.6 1512.8 365.5 1513.5 366.3 1514.1 362.4 1514.7 362.8 1515.4 361.4 1516.0 365.4 1516.6 363.1 1517.3 364.0 1517.9 365.7 1518.5 365.9 1519.1 367.0 1519.8 364.2 1520.4 360.1 1521.0 367.5 1521.7 357.9 1522.3 368.4 1522.9 364.7 1523.6 364.5 1524.2 364.1 1524.8 363.6 1525.4 365.3 1526.1 365.0 1526.7 362.4 1527.3 365.4 1528.0 361.6 1528.6 365.8 1529.2 360.7 1529.9 360.7 1530.5 365.8 1531.1 368.1 1531.7 362.1 1532.4 362.9 1533.0 367.6 1533.6 361.7 1534.3 361.3 1534.9 365.8 1535.5 364.1 1536.2 359.6 1536.8 361.3 1537.4 366.5 1538.0 367.5 1538.7 369.1 1539.3 371.6 1539.9 365.6 1540.6 369.9 1541.2 371.3 1541.8 365.1 1542.5 371.6 1543.1 366.8 1543.7 368.7 1544.3 369.8 1545.0 363.8 1545.6 369.6 1546.2 363.0 1546.9 366.8 1547.5 364.4 1548.1 368.9 1548.8 368.5 1549.4 367.2 1550.0 367.8 1550.6 366.5 1551.3 364.3 1551.9 357.1 1552.5 364.4 1553.2 367.1 1553.8 362.9 1554.4 364.6 1555.1 369.1 1555.7 370.3 1556.3 372.8 1556.9 372.3 1557.6 364.8 1558.2 368.3 1558.8 364.9 1559.5 370.1 1560.1 368.3 1560.7 365.7 1561.4 366.8 1562.0 365.7 1562.6 362.0 1563.2 367.3 1563.9 373.4 1564.5 366.4 1565.1 368.5 1565.8 367.6 1566.4 366.7 1567.0 371.4 1567.7 364.7 1568.3 365.5 1568.9 365.1 1569.5 367.2 1570.2 367.8 1570.8 368.3 1571.4 363.7 1572.1 366.1 1572.7 368.9 1573.3 361.8 1574.0 363.9 1574.6 369.5 1575.2 366.9 1575.8 369.9 1576.5 360.7 1577.1 368.5 1577.7 362.1 1578.4 366.3 1579.0 370.4 1579.6 372.7 1580.3 364.9 1580.9 365.1 1581.5 364.1 1582.1 365.4 1582.8 362.7 1583.4 371.2 1584.0 367.0 1584.7 364.6 1585.3 364.3 1585.9 370.6 1586.6 372.3 1587.2 365.7 1587.8 369.4 1588.4 370.6 1589.1 369.9 1589.7 365.8 1590.3 371.5 1591.0 366.2 1591.6 366.5 1592.2 364.8 1592.9 365.2 1593.5 369.2 1594.1 364.6 1594.7 363.7 1595.4 365.1 1596.0 372.5 1596.6 366.5 1597.3 364.0 1597.9 367.2 1598.5 366.2 1599.2 364.6 1599.8 362.1 1600.4 367.4 1601.0 366.0 1601.7 370.3 1602.3 366.2 1602.9 371.5 1603.6 366.1 1604.2 362.2 1604.8 370.7 1605.5 364.4 1606.1 367.5 1606.7 368.5 1607.3 371.1 1608.0 370.6 1608.6 372.9 1609.2 369.8 1609.9 364.0 1610.5 364.2 1611.1 368.0 1611.8 363.5 1612.4 368.2 1613.0 367.2 1613.6 364.1 1614.3 367.6 1614.9 366.3 1615.5 364.9 1616.2 366.9 1616.8 369.2 1617.4 367.6 1618.1 364.0 1618.7 366.0 1619.3 369.8 1619.9 368.3 1620.6 368.4 1621.2 362.3 1621.8 365.0 1622.5 368.1 1623.1 365.6 1623.7 371.4 1624.4 364.4 1625.0 365.6 1625.6 361.8 1626.2 361.8 1626.9 363.7 1627.5 364.6 1628.1 365.6 1628.8 369.0 1629.4 369.4 1630.0 370.3 1630.7 363.3 1631.3 367.9 1631.9 369.9 1632.5 373.2 1633.2 368.2 1633.8 369.8 1634.4 366.3 1635.1 368.1 1635.7 366.1 1636.3 363.3 1637.0 364.6 1637.6 366.5 1638.2 367.2 1638.8 365.2 1639.5 370.2 1640.1 366.7 1640.7 371.2 1641.4 368.9 1642.0 364.0 1642.6 363.8 1643.3 371.2 1643.9 368.0 1644.5 368.1 1645.1 365.6 1645.8 369.0 1646.4 371.6 1647.0 371.4 1647.7 369.2 1648.3 373.0 1648.9 367.6 1649.6 364.5 1650.2 366.9 1650.8 363.3 1651.4 367.1 1652.1 365.2 1652.7 368.0 1653.3 365.8 1654.0 370.7 1654.6 366.8 1655.2 371.2 1655.9 364.3 1656.5 369.5 1657.1 372.6 1657.7 370.2 1658.4 372.3 1659.0 366.9 1659.6 373.3 1660.3 371.8 1660.9 364.6 1661.5 365.0 1662.2 365.0 1662.8 367.7 1663.4 370.7 1664.0 365.9 1664.7 374.1 1665.3 371.3 1665.9 367.5 1666.6 371.7 1667.2 367.5 1667.8 370.8 1668.5 369.5 1669.1 368.2 1669.7 369.2 1670.3 367.8 1671.0 364.9 1671.6 362.1 1672.2 364.1 1672.9 369.3 1673.5 367.6 1674.1 374.0 1674.8 371.1 1675.4 372.4 1676.0 372.8 1676.6 368.0 1677.3 368.0 1677.9 364.5 1678.5 359.6 1679.2 362.0 1679.8 370.5 1680.4 368.6 1681.1 370.7 1681.7 368.1 1682.3 369.2 1682.9 370.2 1683.6 367.8 1684.2 366.2 1684.8 369.1 1685.5 364.8 1686.1 363.6 1686.7 366.9 1687.4 360.5 1688.0 367.3 1688.6 364.6 1689.2 367.7 1689.9 367.7 1690.5 367.2 1691.1 368.3 1691.8 368.3 1692.4 366.5 1693.0 369.9 1693.7 373.0 1694.3 369.2 1694.9 369.1 1695.5 365.7 1696.2 363.4 1696.8 367.4 1697.4 365.6 1698.1 366.1 1698.7 359.6 1699.3 371.7 1700.0 359.5 1700.6 363.7 1701.2 367.9 1701.8 364.2 1702.5 366.3 1703.1 365.2 1703.7 367.3 1704.4 365.2 1705.0 369.6 1705.6 371.7 1706.3 370.0 1706.9 374.2 1707.5 374.6 1708.1 371.2 1708.8 369.5 1709.4 368.1 1710.0 366.9" stroke="#00ffff"/>
<path d="M136.3 598.8L136.9 601.3 137.6 600.9 138.2 601.6 138.8 604.3 139.4 595.7 140.1 597.8 140.7 594.8 141.3 596.4 142.0 598.1 142.6 596.0 143.2 596.2 143.9 590.2 144.5 596.2 145.1 592.4 145.7 599.6 146.4 597.2 147.0 599.4 147.6 597.1 148.3 600.6 148.9 600.4 149.5 599.8 150.2 598.7 150.8 600.2 151.4 598.4 152.0 599.3 152.7 599.2 153.3 598.2 153.9 601.2 154.6 594.8 155.2 600.6 155.8 597.2 156.5 596.8 157.1 594.4 157.7 597.6 158.3 598.0 159.0 599.2 159.6 597.8 160.2 599.6 160.9 605.5 161.5 600.9 162.1 598.8 162.8 602.5 163.4 601.2 164.0 600.6 164.6 599.1 165.3 595.8 165.9 589.8 166.5 592.2 167.2 595.2 167.8 594.4 168.4 597.3 169.1 599.7 169.7 596.9 170.3 603.1 170.9 605.7 171.6 602.9 172.2 604.0 172.8 605.1 173.5 606.2 174.1 600.5 174.7 601.4 175.4 603.7 176.0 596.9 176.6 595.0 177.2 595.0 177.9 598.4 178.5 598.9 179.1 594.6 179.8 595.2 180.4 600.0 181.0 599.1 181.7 597.8 182.3 598.7 182.9 598.9 183.5 595.6 184.2 598.4 184.8 595.6 185.4 596.9 186.1 601.7 186.7 602.8 187.3 599.9 188.0 599.1 188.6 600.2 189.2 599.3 189.8 594.5 190.5 600.0 191.1 603.5 191.7 601.8 192.4 597.2 193.0 603.6 193.6 597.8 194.3 597.3 194.9 600.9 195.5 603.8 196.1 598.4 196.8 605.6 197.4 603.3 198.0 599.5 198.7 598.4 199.3 593.2 199.9 596.5 200.6 600.2 201.2 597.8 201.8 598.5 202.4 603.2 203.1 599.8 203.7 601.2 204.3 598.8 205.0 598.6 205.6 601.5 206.2 605.0 206.9 598.3 207.5 602.0 208.1 597.7 208.7 604.4 209.4 604.4 210.0 605.4 210.6 601.7 211.3 598.3 211.9 604.1 212.5 601.5 213.2 599.1 213.8 596.9 214.4 604.5 215.0 602.2 215.7 612.0 216.3 602.7 216.9 602.7 217.6 602.0 218.2 596.4 218.8 595.7 219.5 604.0 220.1 600.9 220.7 599.2 221.3 599.9 222.0 605.8 222.6 605.2 223.2 602.4 223.9 601.8 224.5 602.1 225.1 603.2 225.8 599.2 226.4 605.5 227.0 597.1 227.6 598.6 228.3 598.9 228.9 600.6 229.5 596.0 230.2 599.8 230.8 603.4 231.4 604.5 232.1 603.7 232.7 605.6 233.3 605.9 233.9 602.0 234.6 601.3 235.2 606.3 235.8 599.4 236.5 601.8 237.1 601.0 237.7 598.9 238.4 598.1 239.0 601.2 239.6 603.0 240.2 602.3 240.9 601.2 241.5 604.4 242.1 604.7 242.8 604.8 243.4 603.1 244.0 602.3 244.7 601.3 245.3 600.3 245.9 596.0 246.5 598.6 247.2 597.0 247.8 594.8 248.4 597.5 249.1 607.0 249.7 600.1 250.3 597.6 251.0 599.1 251.6 604.7 252.2 599.5 252.8 598.9 253.5 595.8 254.1 597.4 254.7 600.6 255.4 600.7 256.0 599.4 256.6 603.5 257.3 604.7 257.9 600.7 258.5 602.9 259.1 602.8 259.8 598.1 260.4 601.2 261.0 598.7 261.7 596.5 262.3 593.7 262.9 594.4 263.6 602.1 264.2 596.9 264.8 599.3 265.4 595.8 266.1 599.3 266.7 600.0 267.3 594.2 268.0 596.9 268.6 598.9 269.2 598.2 269.9 597.5 270.5 596.9 271.1 599.4 271.7 601.8 272.4 599.7 273.0 596.3 273.6 598.6 274.3 597.1 274.9 597.6 275.5 602.4 276.2 596.5 276.8 598.4 277.4 596.3 278.0 597.5 278.7 595.9 279.3 601.6 279.9 598.0 280.6 594.7 281.2 601.7 281.8 593.1 282.5 600.3 283.1 600.0 283.7 600.1 284.3 598.2 285.0 599.5 285.6 599.0 286.2 603.7 286.9 595.3 287.5 599.0 288.1 601.2 288.8 598.4 289.4 593.8 290.0 597.9 290.6 597.7 291.3 601.2 291.9 600.6 292.5 596.6 293.2 591.0 293.8 593.8 294.4 592.2 295.1 599.1 295.7 602.2 296.3 600.3 296.9 605.3 297.6 604.2 298.2 601.8 298.8 598.1 299.5 600.2 300.1 596.1 300.7 602.3 301.4 599.0 302.0 602.6 302.6 598.7 303.2 592.8 303.9 598.7 304.5 599.8 305.1 602.3 305.8 596.1 306.4 597.2 307.0 599.9 307.7 598.6 308.3 596.8 308.9 596.8 309.5 604.7 310.2 595.7 310.8 593.1 311.4 593.3 312.1 594.3 312.7 598.0 313.3 597.3 314.0 597.3 314.6 595.7 315.2 596.2 315.8 596.0 316.5 595.2 317.1 604.3 317.7 598.0 318.4 602.0 319.0 598.1 319.6 595.8 320.3 593.8 320.9 592.0 321.5 594.6 322.1 594.5 322.8 598.9 323.4 598.9 324.0 600.6 324.7 599.8 325.3 598.8 325.9 592.5 326.6 596.5 327.2 601.5 327.8 596.9 328.4 600.0 329.1 597.3 329.7 597.0 330.3 603.5 331.0 599.7 331.6 603.3 332.2 601.5 332.9 599.6 333.5 594.9 334.1 602.1 334.7 596.3 335.4 592.5 336.0 599.3 336.6 597.4 337.3 595.0 337.9 593.5 338.5 595.5 339.2 597.2 339.8 598.2 340.4 598.5 341.0 601.3 341.7 590.9 342.3 600.5 342.9 596.4 343.6 601.4 344.2 600.6 344.8 596.2 345.5 600.6 346.1 600.0 346.7 596.8 347.3 597.8 348.0 599.5 348.6 592.3 349.2 595.3 349.9 595.2 350.5 594.9 351.1 593.9 351.8 598.8 352.4 606.0 353.0 606.3 353.6 600.2 354.3 597.6 354.9 598.3 355.5 596.0 356.2 595.1 356.8 597.1 357.4 600.0 358.1 601.3 358.7 592.9 359.3 601.3 359.9 599.0 360.6 601.3 361.2 597.9 361.8 598.9 362.5 602.3 363.1 590.8 363.7 602.0 364.4 598.5 365.0 596.0 365.6 593.7 366.2 601.3 366.9 597.5 367.5 601.1 368.1 597.2 368.8 595.9 369.4 598.5 370.0 597.5 370.7 600.6 371.3 601.3 371.9 599.7 372.5 602.6 373.2 602.4 373.8 596.0 374.4 598.2 375.1 599.5 375.7 597.0 376.3 594.4 377.0 597.2 377.6 597.9 378.2 597.2 378.8 600.6 379.5 594.0 380.1 594.6 380.7 596.6 381.4 596.5 382.0 596.8 382.6 592.7 383.3 601.6 383.9 598.6 384.5 598.8 385.1 594.1 385.8 596.3 386.4 601.7 387.0 596.7 387.7 598.0 388.3 594.0 388.9 596.9 389.6 594.8 390.2 599.4 390.8 594.1 391.4 594.7 392.1 589.5 392.7 593.9 393.3 592.8 394.0 593.1 394.6 590.3 395.2 597.3 395.9 590.7 396.5 591.1 397.1 587.2 397.7 591.0 398.4 595.0 399.0 586.7 399.6 590.6 400.3 588.1 400.9 589.2 401.5 588.9 402.2 587.5 402.8 589.7 403.4 589.8 404.0 587.1 404.7 585.2 405.3 590.8 405.9 585.7 406.6 587.7 407.2 587.3 407.8 582.8 408.5 586.5 409.1 581.1 409.7 585.4 410.3 588.4 411.0 583.7 411.6 583.5 412.2 582.2 412.9 592.0 413.5 584.2 414.1 580.1 414.8 585.5 415.4 584.6 416.0 583.3 416.6 581.8 417.3 578.6 417.9 581.1 418.5 577.9 419.2 581.2 419.8 576.6 420.4 578.1 421.1 582.2 421.7 583.5 422.3 581.9 422.9 580.0 423.6 576.4 424.2 581.6 424.8 579.9 425.5 580.5 426.1 575.6 426.7 575.9 427.4 573.7 428.0 570.0 428.6 570.5 429.2 574.3 429.9 568.0 430.5 572.9 431.1 575.6 431.8 574.1 432.4 575.4 433.0 570.3 433.7 573.2 434.3 572.0 434.9 572.3 435.5 570.3 436.2 569.7 436.8 573.4 437.4 569.2 438.1 567.7 438.7 566.0 439.3 568.2 440.0 566.2 440.6 572.1 441.2 568.1 441.8 565.9 442.5 565.3 443.1 562.2 443.7 563.9 444.4 569.5 445.0 568.7 445.6 564.1 446.3 565.5 446.9 559.9 447.5 564.7 448.1 560.5 448.8 564.9 449.4 560.7 450.0 558.5 450.7 560.5 451.3 557.5 451.9 562.9 452.6 558.1 453.2 558.2 453.8 556.7 454.4 558.0 455.1 560.2 455.7 560.0 456.3 565.6 457.0 560.4 457.6 554.1 458.2 555.5 458.9 555.4 459.5 553.2 460.1 558.0 460.7 554.1 461.4 554.0 462.0 550.3 462.6 550.4 463.3 545.0 463.9 552.5 464.5 555.6 465.2 547.8 465.8 552.8 466.4 552.1 467.0 549.1 467.7 553.1 468.3 549.1 468.9 549.1 469.6 554.5 470.2 550.8 470.8 547.0 471.5 554.9 472.1 547.4 472.7 549.0 473.3 547.0 474.0 546.6 474.6 544.5 475.2 543.7 475.9 550.4 476.5 543.2 477.1 542.8 477.8 538.4 478.4 544.5 479.0 549.2 479.6 547.7 480.3 550.4 480.9 544.6 481.5 541.4 482.2 538.6 482.8 542.6 483.4 540.9 484.1 543.0 484.7 541.3 485.3 544.1 485.9 548.4 486.6 540.2 487.2 540.9 487.8 530.0 488.5 542.3 489.1 539.2 489.7 543.2 490.4 538.0 491.0 534.6 491.6 531.2 492.2 536.5 492.9 533.1 493.5 530.4 494.1 533.3 494.8 530.4 495.4 535.3 496.0 532.6 496.7 530.7 497.3 532.2 497.9 533.4 498.5 537.0 499.2 529.9 499.8 525.7 500.4 527.2 501.1 522.9 501.7 521.7 502.3 520.2 503.0 518.1 503.6 522.2 504.2 521.2 504.8 521.0 505.5 522.9 506.1 525.1 506.7 519.6 507.4 521.6 508.0 520.9 508.6 521.4 509.3 520.9 509.9 516.7 510.5 520.4 511.1 520.2 511.8 521.1 512.4 516.0 513.0 512.2 513.7 508.8 514.3 515.3 514.9 518.8 515.6 512.1 516.2 514.7 516.8 514.5 517.4 514.3 518.1 509.4 518.7 511.1 519.3 508.2 520.0 507.3 520.6 509.6 521.2 509.6 521.9 506.4 522.5 510.3 523.1 513.2 523.7 502.5 524.4 506.2 525.0 504.7 525.6 502.8 526.3 503.9 526.9 501.4 527.5 505.7 528.2 499.4 528.8 500.1 529.4 493.9 530.0 501.6 530.7 502.1 531.3 496.3 531.9 498.3 532.6 502.2 533.2 496.9 533.8 494.5 534.5 489.6 535.1 496.7 535.7 500.0 536.3 493.0 537.0 496.8 537.6 493.9 538.2 492.9 538.9 492.9 539.5 491.7 540.1 486.1 540.8 495.9 541.4 495.8 542.0 489.1 542.6 494.2 543.3 488.4 543.9 489.5 544.5 491.1 545.2 482.9 545.8 482.2 546.4 485.3 547.1 478.7 547.7 490.0 548.3 487.8 548.9 483.8 549.6 484.5 550.2 481.3 550.8 481.7 551.5 486.5 552.1 487.4 552.7 482.0 553.4 478.7 554.0 474.9 554.6 478.6 555.2 470.7 555.9 474.0 556.5 475.9 557.1 474.7 557.8 473.5 558.4 473.3 559.0 479.2 559.7 481.9 560.3 477.9 560.9 474.1 561.5 475.2 562.2 475.9 562.8 472.9 563.4 470.3 564.1 470.7 564.7 463.4 565.3 466.5 566.0 468.3 566.6 468.8 567.2 467.5 567.8 467.0 568.5 465.1 569.1 462.3 569.7 462.1 570.4 461.0 571.0 459.0 571.6 463.4 572.3 461.9 572.9 459.0 573.5 460.8 574.1 461.9 574.8 459.6 575.4 461.5 576.0 461.5 576.7 454.4 577.3 454.6 577.9 458.5 578.6 455.8 579.2 458.1 579.8 451.7 580.4 455.0 581.1 454.9 581.7 455.4 582.3 448.3 583.0 449.3 583.6 449.9 584.2 448.2 584.9 445.5 585.5 444.0 586.1 439.9 586.7 451.3 587.4 446.0 588.0 443.7 588.6 442.2 589.3 444.2 589.9 445.4 590.5 441.1 591.2 444.2 591.8 449.9 592.4 447.7 593.0 444.0 593.7 440.6 594.3 439.9 594.9 436.1 595.6 439.2 596.2 436.3 596.8 437.1 597.5 437.9 598.1 435.7 598.7 437.6 599.3 443.1 600.0 432.5 600.6 429.7 601.2 437.1 601.9 432.4 602.5 438.3 603.1 432.8 603.8 433.5 604.4 428.6 605.0 424.9 605.6 428.9 606.3 429.2 606.9 423.4 607.5 420.1 608.2 422.9 608.8 422.5 609.4 423.4 610.1 423.5 610.7 429.9 611.3 421.2 611.9 418.1 612.6 414.7 613.2 418.6 613.8 410.5 614.5 421.6 615.1 417.4 615.7 411.0 616.4 415.5 617.0 412.6 617.6 414.5 618.2 405.7 618.9 413.5 619.5 417.1 620.1 416.0 620.8 409.7 621.4 408.9 622.0 414.8 622.7 410.8 623.3 404.3 623.9 408.2 624.5 404.1 625.2 402.2 625.8 398.4 626.4 405.1 627.1 398.8 627.7 400.1 628.3 399.0 629.0 395.6 629.6 394.7 630.2 398.6 630.8 390.6 631.5 397.8 632.1 392.5 632.7 394.3 633.4 394.6 634.0 393.9 634.6 390.8 635.3 393.7 635.9 391.7 636.5 388.9 637.1 393.8 637.8 384.2 638.4 392.5 639.0 393.3 639.7 390.8 640.3 395.3 640.9 390.5 641.6 392.2 642.2 386.0 642.8 387.5 643.4 385.9 644.1 381.9 644.7 392.4 645.3 387.8 646.0 381.7 646.6 388.6 647.2 386.6 647.9 392.6 648.5 386.8 649.1 387.1 649.7 383.8 650.4 384.0 651.0 379.8 651.6 377.7 652.3 378.5 652.9 378.8 653.5 383.1 654.2 381.0 654.8 379.4 655.4 378.8 656.0 376.9 656.7 380.6 657.3 371.3 657.9 377.0 658.6 380.6 659.2 374.8 659.8 369.9 660.5 373.4 661.1 369.0 661.7 369.4 662.3 374.7 663.0 372.9 663.6 380.8 664.2 376.5 664.9 372.8 665.5 367.1 666.1 370.2 666.8 363.7 667.4 371.7 668.0 373.0 668.6 370.5 669.3 366.1 669.9 367.1 670.5 365.1 671.2 361.4 671.8 360.6 672.4 363.0 673.1 362.6 673.7 361.0 674.3 364.0 674.9 365.3 675.6 361.3 676.2 365.1 676.8 363.0 677.5 355.8 678.1 355.3 678.7 364.1 679.4 358.8 680.0 364.3 680.6 356.2 681.2 363.5 681.9 357.0 682.5 352.1 683.1 350.8 683.8 353.0 684.4 354.0 685.0 348.2 685.7 341.3 686.3 335.7 686.9 330.0 687.5 322.0 688.2 316.2 688.8 316.3 689.4 321.0 690.1 327.4 690.7 333.6 691.3 335.1 692.0 339.7 692.6 347.0 693.2 343.1 693.8 350.1 694.5 344.7 695.1 343.7 695.7 346.3 696.4 344.2 697.0 340.9 697.6 342.9 698.3 340.1 698.9 344.8 699.5 339.8 700.1 339.4 700.8 332.4 701.4 332.4 702.0 335.5 702.7 332.3 703.3 336.2 703.9 340.3 704.6 340.6 705.2 332.8 705.8 337.4 706.4 339.9 707.1 333.9 707.7 331.4 708.3 334.1 709.0 341.2 709.6 337.7 710.2 343.0 710.9 336.8 711.5 341.6 712.1 333.1 712.7 332.3 713.4 332.0 714.0 337.3 714.6 333.5 715.3 335.3 715.9 331.5 716.5 330.5 717.2 333.8 717.8 340.2 718.4 330.2 719.0 328.4 719.7 326.0 720.3 335.9 720.9 330.5 721.6 336.0 722.2 335.9 722.8 325.9 723.5 327.1 724.1 326.1 724.7 330.3 725.3 333.5 726.0 326.4 726.6 326.9 727.2 321.1 727.9 323.2 728.5 323.4 729.1 329.1 729.8 325.7 730.4 327.4 731.0 330.2 731.6 326.3 732.3 323.5 732.9 327.0 733.5 324.8 734.2 326.8 734.8 331.4 735.4 331.2 736.1 324.9 736.7 330.0 737.3 332.2 737.9 331.6 738.6 331.5 739.2 331.8 739.8 325.3 740.5 323.5 741.1 323.3 741.7 326.3 742.4 324.7 743.0 329.2 743.6 328.5 744.2 321.3 744.9 316.7 745.5 317.3 746.1 317.1 746.8 321.8 747.4 315.3 748.0 313.6 748.7 320.2 749.3 326.6 749.9 325.4 750.5 328.9 751.2 322.7 751.8 319.6 752.4 318.2 753.1 313.5 753.7 315.5 754.3 324.3 755.0 327.4 755.6 322.4 756.2 322.1 756.8 322.0 757.5 321.2 758.1 315.4 758.7 325.0 759.4 324.5 760.0 320.5 760.6 321.4 761.3 314.8 761.9 324.5 762.5 324.2 763.1 310.9 763.8 320.1 764.4 322.6 765.0 328.4 765.7 320.8 766.3 325.8 766.9 328.9 767.6 328.1 768.2 324.9 768.8 323.3 769.4 323.7 770.1 322.2 770.7 327.4 771.3 318.8 772.0 324.2 772.6 324.9 773.2 325.0 773.9 320.9 774.5 323.5 775.1 324.0 775.7 325.1 776.4 331.2 777.0 327.1 777.6 332.3 778.3 335.3 778.9 323.3 779.5 326.9 780.2 321.4 780.8 327.2 781.4 325.2 782.0 325.0 782.7 321.4 783.3 324.3 783.9 327.3 784.6 332.4 785.2 325.9 785.8 322.0 786.5 326.2 787.1 326.0 787.7 322.6 788.3 326.0 789.0 329.9 789.6 328.6 790.2 327.0 790.9 322.0 791.5 322.0 792.1 331.8 792.8 327.7 793.4 333.2 794.0 332.2 794.6 338.5 795.3 336.5 795.9 336.3 796.5 338.1 797.2 344.9 797.8 338.2 798.4 335.2 799.1 333.6 799.7 327.2 800.3 336.1 800.9 337.9 801.6 329.9 802.2 333.8 802.8 322.2 803.5 336.3 804.1 335.0 804.7 337.5 805.4 341.2 806.0 342.2 806.6 336.6 807.2 337.6 807.9 337.0 808.5 339.3 809.1 335.6 809.8 334.1 810.4 338.1 811.0 335.3 811.7 348.8 812.3 344.9 812.9 341.5 813.5 345.0 814.2 347.9 814.8 346.1 815.4 349.6 816.1 339.7 816.7 349.1 817.3 344.8 818.0 345.6 818.6 350.0 819.2 340.3 819.8 340.7 820.5 342.9 821.1 337.7 821.7 336.0 822.4 344.1 823.0 347.6 823.6 344.6 824.3 350.2 824.9 362.2 825.5 349.7 826.1 350.5 826.8 350.2 827.4 353.3 828.0 352.6 828.7 357.5 829.3 355.2 829.9 358.7 830.6 357.4 831.2 354.3 831.8 350.5 832.4 351.0 833.1 355.1 833.7 354.9 834.3 358.5 835.0 359.0 835.6 358.0 836.2 367.2 836.9 360.9 837.5 363.6 838.1 356.8 838.7 363.6 839.4 363.8 840.0 361.5 840.6 359.4 841.3 366.7 841.9 360.7 842.5 357.8 843.2 357.6 843.8 361.1 844.4 359.8 845.0 361.6 845.7 363.1 846.3 366.4 846.9 365.0 847.6 365.1 848.2 367.6 848.8 362.4 849.5 359.5 850.1 364.6 850.7 366.7 851.3 363.3 852.0 369.1 852.6 373.3 853.2 360.2 853.9 367.1 854.5 365.0 855.1 368.3 855.8 363.8 856.4 368.5 857.0 377.3 857.6 368.9 858.3 373.5 858.9 374.6 859.5 373.9 860.2 369.4 860.8 374.6 861.4 363.9 862.1 365.4 862.7 367.7 863.3 368.2 863.9 374.4 864.6 371.4 865.2 373.2 865.8 366.6 866.5 365.3 867.1 359.8 867.7 356.8 868.4 355.9 869.0 357.7 869.6 359.2 870.2 363.7 870.9 365.8 871.5 368.0 872.1 374.5 872.8 375.9 873.4 372.6 874.0 376.9 874.7 375.0 875.3 369.2 875.9 372.8 876.5 378.3 877.2 380.4 877.8 378.9 878.4 388.2 879.1 381.8 879.7 378.7 880.3 377.9 881.0 386.4 881.6 382.8 882.2 383.3 882.8 381.3 883.5 383.1 884.1 385.9 884.7 386.6 885.4 387.2 886.0 389.5 886.6 390.8 887.3 385.8 887.9 385.0 888.5 388.5 889.1 382.1 889.8 390.3 890.4 388.7 891.0 387.7 891.7 383.3 892.3 384.0 892.9 388.0 893.6 385.8 894.2 387.9 894.8 392.6 895.4 395.6 896.1 392.7 896.7 398.9 897.3 402.6 898.0 397.5 898.6 395.8 899.2 398.0 899.9 405.9 900.5 403.6 901.1 404.4 901.7 404.0 902.4 399.6 903.0 403.9 903.6 399.1 904.3 402.2 904.9 391.9 905.5 407.8 906.2 404.1 906.8 400.3 907.4 398.2 908.0 402.2 908.7 398.2 909.3 406.0 909.9 404.7 910.6 408.6 911.2 409.2 911.8 416.0 912.5 412.5 913.1 412.7 913.7 414.9 914.3 412.3 915.0 411.1 915.6 414.1 916.2 416.0 916.9 410.1 917.5 414.6 918.1 418.0 918.8 415.2 919.4 411.7 920.0 420.8 920.6 416.0 921.3 418.2 921.9 414.8 922.5 420.5 923.2 427.6 923.8 422.4 924.4 430.2 925.1 423.7 925.7 426.2 926.3 423.2 926.9 422.3 927.6 423.9 928.2 424.4 928.8 421.3 929.5 423.2 930.1 428.6 930.7 432.3 931.4 430.5 932.0 431.0 932.6 427.9 933.2 436.8 933.9 435.2 934.5 428.6 935.1 432.3 935.8 431.5 936.4 426.6 937.0 439.5 937.7 437.0 938.3 437.0 938.9 440.7 939.5 436.2 940.2 436.7 940.8 443.0 941.4 437.5 942.1 439.4 942.7 436.4 943.3 439.6 944.0 442.5 944.6 436.5 945.2 437.9 945.8 441.0 946.5 449.5 947.1 438.9 947.7 443.5 948.4 444.8 949.0 447.8 949.6 438.9 950.3 442.6 950.9 446.4 951.5 444.2 952.1 449.5 952.8 447.7 953.4 440.9 954.0 452.6 954.7 447.3 955.3 444.0 955.9 446.0 956.6 447.0 957.2 445.1 957.8 442.9 958.4 446.8 959.1 442.6 959.7 452.8 960.3 447.5 961.0 451.0 961.6 450.3 962.2 455.0 962.9 452.2 963.5 456.4 964.1 450.5 964.7 453.7 965.4 452.3 966.0 450.7 966.6 455.8 967.3 457.3 967.9 459.0 968.5 453.5 969.2 460.9 969.8 455.5 970.4 453.3 971.0 450.6 971.7 455.8 972.3 461.4 972.9 465.0 973.6 467.2 974.2 459.5 974.8 457.5 975.5 460.7 976.1 460.2 976.7 462.0 977.3 456.7 978.0 462.7 978.6 465.2 979.2 465.8 979.9 464.8 980.5 463.4 981.1 464.7 981.8 470.7 982.4 467.3 983.0 469.2 983.6 471.1 984.3 464.6 984.9 467.8 985.5 468.4 986.2 471.2 986.8 467.5 987.4 468.0 988.1 468.7 988.7 470.3 989.3 470.7 989.9 472.4 990.6 474.7 991.2 473.4 991.8 472.8 992.5 478.2 993.1 473.7 993.7 477.2 994.4 476.7 995.0 474.6 995.6 469.0 996.2 476.4 996.9 473.8 997.5 472.9 998.1 475.6 998.8 481.8 999.4 473.6 1000.0 474.8 1000.7 478.5 1001.3 468.4 1001.9 477.4 1002.5 482.7 1003.2 481.3 1003.8 482.9 1004.4 481.0 1005.1 481.2 1005.7 490.8 1006.3 485.0 1007.0 485.1 1007.6 478.7 1008.2 481.9 1008.8 480.5 1009.5 479.8 1010.1 476.2 1010.7 481.4 1011.4 488.5 1012.0 488.2 1012.6 485.4 1013.3 490.1 1013.9 480.8 1014.5 489.1 1015.1 486.9 1015.8 483.4 1016.4 482.4 1017.0 481.8 1017.7 483.7 1018.3 490.7 1018.9 488.5 1019.6 487.4 1020.2 490.5 1020.8 490.3 1021.4 494.2 1022.1 485.0 1022.7 495.9 1023.3 493.2 1024.0 493.2 1024.6 492.0 1025.2 497.4 1025.9 495.7 1026.5 498.8 1027.1 495.3 1027.7 498.5 1028.4 492.8 1029.0 494.7 1029.6 493.8 1030.3 493.1 1030.9 496.6 1031.5 494.7 1032.2 499.6 1032.8 500.5 1033.4 498.3 1034.0 498.2 1034.7 504.2 1035.3 503.3 1035.9 504.8 1036.6 501.5 1037.2 503.5 1037.8 505.8 1038.5 507.7 1039.1 499.3 1039.7 508.3 1040.3 506.0 1041.0 500.7 1041.6 506.9 1042.2 506.7 1042.9 507.5 1043.5 506.8 1044.1 508.5 1044.8 510.7 1045.4 510.6 1046.0 508.6 1046.6 510.6 1047.3 507.6 1047.9 509.7 1048.5 509.5 1049.2 508.4 1049.8 513.8 1050.4 503.7 1051.1 503.6 1051.7 505.3 1052.3 505.9 1052.9 506.8 1053.6 512.1 1054.2 509.6 1054.8 514.9 1055.5 518.4 1056.1 516.9 1056.7 515.7 1057.4 515.4 1058.0 516.5 1058.6 517.8 1059.2 512.7 1059.9 519.1 1060.5 517.7 1061.1 521.0 1061.8 518.3 1062.4 523.4 1063.0 511.8 1063.7 519.1 1064.3 525.9 1064.9 522.0 1065.5 517.3 1066.2 521.0 1066.8 521.1 1067.4 521.3 1068.1 519.1 1068.7 523.1 1069.3 526.0 1070.0 522.7 1070.6 524.5 1071.2 518.9 1071.8 523.2 1072.5 521.6 1073.1 519.1 1073.7 521.5 1074.4 526.2 1075.0 527.9 1075.6 527.9 1076.3 526.1 1076.9 524.4 1077.5 526.5 1078.1 523.2 1078.8 525.5 1079.4 523.7 1080.0 527.9 1080.7 527.5 1081.3 535.0 1081.9 533.9 1082.6 531.9 1083.2 527.4 1083.8 528.0 1084.4 531.1 1085.1 525.5 1085.7 538.8 1086.3 530.9 1087.0 532.4 1087.6 537.4 1088.2 527.8 1088.9 530.8 1089.5 532.8 1090.1 536.8 1090.7 531.0 1091.4 534.9 1092.0 536.1 1092.6 532.0 1093.3 527.8 1093.9 528.7 1094.5 527.3 1095.2 531.9 1095.8 537.4 1096.4 541.6 1097.0 539.9 1097.7 540.7 1098.3 536.6 1098.9 536.2 1099.6 531.9 1100.2 535.5 1100.8 533.4 1101.5 537.3 1102.1 539.8 1102.7 539.6 1103.3 538.4 1104.0 540.6 1104.6 542.0 1105.2 540.4 1105.9 532.3 1106.5 542.0 1107.1 539.6 1107.8 536.8 1108.4 540.9 1109.0 544.7 1109.6 536.9 1110.3 546.3 1110.9 543.8 1111.5 546.6 1112.2 543.0 1112.8 543.8 1113.4 540.9 1114.1 548.0 1114.7 541.4 1115.3 542.9 1115.9 540.9 1116.6 540.1 1117.2 545.6 1117.8 547.4 1118.5 549.6 1119.1 545.0 1119.7 546.6 1120.4 550.9 1121.0 549.5 1121.6 549.0 1122.2 553.9 1122.9 547.5 1123.5 549.2 1124.1 546.8 1124.8 552.8 1125.4 549.2 1126.0 547.2 1126.7 553.5 1127.3 550.9 1127.9 548.6 1128.5 547.1 1129.2 545.7 1129.8 550.4 1130.4 549.0 1131.1 554.5 1131.7 550.8 1132.3 556.8 1133.0 553.5 1133.6 549.6 1134.2 559.4 1134.8 550.9 1135.5 556.5 1136.1 549.8 1136.7 551.8 1137.4 550.8 1138.0 549.7 1138.6 545.9 1139.3 550.8 1139.9 557.9 1140.5 557.4 1141.1 557.6 1141.8 559.9 1142.4 557.8 1143.0 561.8 1143.7 558.7 1144.3 561.4 1144.9 551.9 1145.6 551.4 1146.2 560.2 1146.8 552.4 1147.4 554.9 1148.1 558.1 1148.7 559.7 1149.3 559.6 1150.0 561.7 1150.6 562.7 1151.2 559.8 1151.9 562.8 1152.5 561.3 1153.1 560.1 1153.7 564.9 1154.4 560.6 1155.0 554.5 1155.6 562.2 1156.3 563.5 1156.9 570.2 1157.5 564.1 1158.2 560.4 1158.8 563.8 1159.4 569.5 1160.0 564.5 1160.7 566.5 1161.3 566.6 1161.9 568.7 1162.6 564.5 1163.2 567.3 1163.8 567.1 1164.5 569.1 1165.1 565.9 1165.7 570.2 1166.3 565.4 1167.0 566.5 1167.6 562.1 1168.2 566.4 1168.9 575.2 1169.5 568.1 1170.1 563.1 1170.8 566.4 1171.4 565.0 1172.0 564.4 1172.6 564.6 1173.3 567.5 1173.9 572.5 1174.5 567.9 1175.2 571.8 1175.8 573.9 1176.4 567.9 1177.1 575.3 1177.7 569.7 1178.3 569.9 1178.9 567.8 1179.6 572.4 1180.2 566.2 1180.8 572.6 1181.5 576.6 1182.1 573.2 1182.7 575.0 1183.4 571.2 1184.0 574.4 1184.6 572.3 1185.2 572.2 1185.9 573.9 1186.5 579.5 1187.1 573.1 1187.8 569.3 1188.4 576.2 1189.0 577.8 1189.7 577.3 1190.3 577.3 1190.9 581.8 1191.5 580.5 1192.2 580.7 1192.8 577.6 1193.4 573.7 1194.1 581.0 1194.7 574.1 1195.3 579.3 1196.0 578.9 1196.6 573.4 1197.2 573.8 1197.8 576.3 1198.5 578.2 1199.1 572.8 1199.7 575.0 1200.4 572.7 1201.0 573.8 1201.6 576.7 1202.3 575.7 1202.9 572.4 1203.5 579.2 1204.1 576.3 1204.8 577.2 1205.4 576.7 1206.0 581.9 1206.7 581.5 1207.3 581.8 1207.9 580.1 1208.6 578.2 1209.2 581.2 1209.8 577.5 1210.4 577.6 1211.1 573.6 1211.7 578.0 1212.3 575.8 1213.0 575.1 1213.6 579.5 1214.2 578.6 1214.9 575.4 1215.5 575.4 1216.1 574.9 1216.7 574.8 1217.4 581.9 1218.0 580.6 1218.6 574.6 1219.3 582.2 1219.9 577.7 1220.5 578.0 1221.2 576.9 1221.8 580.4 1222.4 580.7 1223.0 581.5 1223.7 582.2 1224.3 573.1 1224.9 580.0 1225.6 581.5 1226.2 582.1 1226.8 579.5 1227.5 582.8 1228.1 583.4 1228.7 577.5 1229.3 579.6 1230.0 583.8 1230.6 578.5 1231.2 580.5 1231.9 579.9 1232.5 579.8 1233.1 579.4 1233.8 581.5 1234.4 578.0 1235.0 581.2 1235.6 582.1 1236.3 583.2 1236.9 582.6 1237.5 582.8 1238.2 582.5 1238.8 576.4 1239.4 572.6 1240.1 579.2 1240.7 578.4 1241.3 573.3 1241.9 579.4 1242.6 582.6 1243.2 575.7 1243.8 574.7 1244.5 577.0 1245.1 576.8 1245.7 576.9 1246.4 573.3 1247.0 578.4 1247.6 578.3 1248.2 582.9 1248.9 582.0 1249.5 585.1 1250.1 584.3 1250.8 579.0 1251.4 580.0 1252.0 574.9 1252.7 576.9 1253.3 585.7 1253.9 585.1 1254.5 579.2 1255.2 579.9 1255.8 581.0 1256.4 586.3 1257.1 572.9 1257.7 580.9 1258.3 576.2 1259.0 582.8 1259.6 576.6 1260.2 583.1 1260.8 579.3 1261.5 581.7 1262.1 586.9 1262.7 583.4 1263.4 586.3 1264.0 586.0 1264.6 580.9 1265.3 582.2 1265.9 584.6 1266.5 581.2 1267.1 579.1 1267.8 577.1 1268.4 583.1 1269.0 576.6 1269.7 581.8 1270.3 578.2 1270.9 580.5 1271.6 575.7 1272.2 578.8 1272.8 576.9 1273.4 580.7 1274.1 582.7 1274.7 580.6 1275.3 579.9 1276.0 582.4 1276.6 575.8 1277.2 578.9 1277.9 578.4 1278.5 583.8 1279.1 578.4 1279.7 584.7 1280.4 584.8 1281.0 571.6 1281.6 576.0 1282.3 572.7 1282.9 579.8 1283.5 573.8 1284.2 577.9 1284.8 577.3 1285.4 572.2 1286.0 570.9 1286.7 580.8 1287.3 574.2 1287.9 577.4 1288.6 583.7 1289.2 581.2 1289.8 580.6 1290.5 583.2 1291.1 587.9 1291.7 584.8 1292.3 583.0 1293.0 584.4 1293.6 581.4 1294.2 580.6 1294.9 584.0 1295.5 585.7 1296.1 584.8 1296.8 588.6 1297.4 584.5 1298.0 580.8 1298.6 574.1 1299.3 580.4 1299.9 584.8 1300.5 580.7 1301.2 585.7 1301.8 579.1 1302.4 584.0 1303.1 585.6 1303.7 587.9 1304.3 583.3 1304.9 589.1 1305.6 581.9 1306.2 577.7 1306.8 582.1 1307.5 587.1 1308.1 583.9 1308.7 588.4 1309.4 582.3 1310.0 588.3 1310.6 575.4 1311.2 586.5 1311.9 575.2 1312.5 580.1 1313.1 577.2 1313.8 581.5 1314.4 579.5 1315.0 579.6 1315.7 583.2 1316.3 582.9 1316.9 577.4 1317.5 582.3 1318.2 575.3 1318.8 577.4 1319.4 577.3 1320.1 584.6 1320.7 585.3 1321.3 579.5 1322.0 581.2 1322.6 579.7 1323.2 584.8 1323.8 586.9 1324.5 585.5 1325.1 582.5 1325.7 582.3 1326.4 582.2 1327.0 582.5 1327.6 573.3 1328.3 579.0 1328.9 582.2 1329.5 578.0 1330.1 586.7 1330.8 586.5 1331.4 579.0 1332.0 579.5 1332.7 586.0 1333.3 574.5 1333.9 577.7 1334.6 577.5 1335.2 582.7 1335.8 584.0 1336.4 587.0 1337.1 585.8 1337.7 580.8 1338.3 586.5 1339.0 582.7 1339.6 580.1 1340.2 585.3 1340.9 582.2 1341.5 583.4 1342.1 584.5 1342.7 587.0 1343.4 580.8 1344.0 582.5 1344.6 575.1 1345.3 579.6 1345.9 587.5 1346.5 588.3 1347.2 582.5 1347.8 580.3 1348.4 578.7 1349.0 579.9 1349.7 580.8 1350.3 577.0 1350.9 580.4 1351.6 579.4 1352.2 578.4 1352.8 580.9 1353.5 581.5 1354.1 583.3 1354.7 583.1 1355.3 585.1 1356.0 577.8 1356.6 582.6 1357.2 583.6 1357.9 585.6 1358.5 585.6 1359.1 581.6 1359.8 585.9 1360.4 590.0 1361.0 585.0 1361.6 587.4 1362.3 587.0 1362.9 583.0 1363.5 580.6 1364.2 581.5 1364.8 587.2 1365.4 579.7 1366.1 578.8 1366.7 579.4 1367.3 583.1 1367.9 580.0 1368.6 584.0 1369.2 584.0 1369.8 582.7 1370.5 587.4 1371.1 579.8 1371.7 584.2 1372.4 588.1 1373.0 590.6 1373.6 585.3 1374.2 588.1 1374.9 594.1 1375.5 586.7 1376.1 589.8 1376.8 587.7 1377.4 584.1 1378.0 586.0 1378.7 587.4 1379.3 581.9 1379.9 578.9 1380.5 581.9 1381.2 584.1 1381.8 584.8 1382.4 584.1 1383.1 586.7 1383.7 581.0 1384.3 583.6 1385.0 577.2 1385.6 579.1 1386.2 585.6 1386.8 583.9 1387.5 582.2 1388.1 584.1 1388.7 583.3 1389.4 580.3 1390.0 586.1 1390.6 591.6 1391.3 583.9 1391.9 585.8 1392.5 585.5 1393.1 581.7 1393.8 588.1 1394.4 588.5 1395.0 583.4 1395.7 579.0 1396.3 581.0 1396.9 585.5 1397.6 578.0 1398.2 579.6 1398.8 582.7 1399.4 585.1 1400.1 585.3 1400.7 586.3 1401.3 577.1 1402.0 582.3 1402.6 582.2 1403.2 582.9 1403.9 586.5 1404.5 586.6 1405.1 583.7 1405.7 586.5 1406.4 585.4 1407.0 588.1 1407.6 584.7 1408.3 588.9 1408.9 585.0 1409.5 589.0 1410.2 590.5 1410.8 589.0 1411.4 588.0 1412.0 592.2 1412.7 585.7 1413.3 585.0 1413.9 586.4 1414.6 589.1 1415.2 589.6 1415.8 589.3 1416.5 587.1 1417.1 587.1 1417.7 585.5 1418.3 590.8 1419.0 589.2 1419.6 588.2 1420.2 590.1 1420.9 591.3 1421.5 592.9 1422.1 587.8 1422.8 591.7 1423.4 590.8 1424.0 587.9 1424.6 593.8 1425.3 591.0 1425.9 583.8 1426.5 592.5 1427.2 591.9 1427.8 591.4 1428.4 589.2 1429.1 590.9 1429.7 591.7 1430.3 587.9 1430.9 593.7 1431.6 593.2 1432.2 592.8 1432.8 589.4 1433.5 590.6 1434.1 584.7 1434.7 587.2 1435.4 592.4 1436.0 592.6 1436.6 590.3 1437.2 585.1 1437.9 585.0 1438.5 584.7 1439.1 591.7 1439.8 588.8 1440.4 590.7 1441.0 590.4 1441.7 590.3 1442.3 588.0 1442.9 588.5 1443.5 588.9 1444.2 588.3 1444.8 589.4 1445.4 593.7 1446.1 596.1 1446.7 600.0 1447.3 592.0 1448.0 594.9 1448.6 592.8 1449.2 591.2 1449.8 591.4 1450.5 589.5 1451.1 589.7 1451.7 590.9 1452.4 591.6 1453.0 588.9 1453.6 591.0 1454.3 589.9 1454.9 587.5 1455.5 588.3 1456.1 587.6 1456.8 590.7 1457.4 597.5 1458.0 589.4 1458.7 593.4 1459.3 587.9 1459.9 587.4 1460.6 591.4 1461.2 591.9 1461.8 595.3 1462.4 594.1 1463.1 596.5 1463.7 593.3 1464.3 595.2 1465.0 596.9 1465.6 593.8 1466.2 590.1 1466.9 596.2 1467.5 591.3 1468.1 589.0 1468.7 593.6 1469.4 597.0 1470.0 595.7 1470.6 590.7 1471.3 591.8 1471.9 592.9 1472.5 593.2 1473.2 587.5 1473.8 588.9 1474.4 592.6 1475.0 591.9 1475.7 592.6 1476.3 596.0 1476.9 589.9 1477.6 591.8 1478.2 592.6 1478.8 598.0 1479.5 592.7 1480.1 595.3 1480.7 585.9 1481.3 591.8 1482.0 594.0 1482.6 595.2 1483.2 588.1 1483.9 595.2 1484.5 588.7 1485.1 594.3 1485.8 594.9 1486.4 592.3 1487.0 590.1 1487.6 599.9 1488.3 594.8 1488.9 591.6 1489.5 595.7 1490.2 590.6 1490.8 594.6 1491.4 591.5 1492.1 588.2 1492.7 595.0 1493.3 592.4 1493.9 591.0 1494.6 590.7 1495.2 589.2 1495.8 588.9 1496.5 591.1 1497.1 594.1 1497.7 595.1 1498.4 594.7 1499.0 596.3 1499.6 601.7 1500.2 601.5 1500.9 597.0 1501.5 599.4 1502.1 598.9 1502.8 597.9 1503.4 595.5 1504.0 597.5 1504.7 593.0 1505.3 595.7 1505.9 595.7 1506.5 596.1 1507.2 594.5 1507.8 596.6 1508.4 593.7 1509.1 592.6 1509.7 594.7 1510.3 596.0 1511.0 598.2 1511.6 593.6 1512.2 593.4 1512.8 593.2 1513.5 593.6 1514.1 592.3 1514.7 597.1 1515.4 594.9 1516.0 596.5 1516.6 591.8 1517.3 590.9 1517.9 599.6 1518.5 599.4 1519.1 600.8 1519.8 595.9 1520.4 592.2 1521.0 598.8 1521.7 594.6 1522.3 594.2 1522.9 600.9 1523.6 596.2 1524.2 593.8 1524.8 596.8 1525.4 595.2 1526.1 594.4 1526.7 598.9 1527.3 598.5 1528.0 597.6 1528.6 597.5 1529.2 594.7 1529.9 600.1 1530.5 603.3 1531.1 601.0 1531.7 603.0 1532.4 604.5 1533.0 597.0 1533.6 594.5 1534.3 592.9 1534.9 595.5 1535.5 599.5 1536.2 598.9 1536.8 602.5 1537.4 596.9 1538.0 602.2 1538.7 595.4 1539.3 594.4 1539.9 595.8 1540.6 596.1 1541.2 596.6 1541.8 599.5 1542.5 597.4 1543.1 595.5 1543.7 594.7 1544.3 594.9 1545.0 593.8 1545.6 601.0 1546.2 599.0 1546.9 601.8 1547.5 601.1 1548.1 601.2 1548.8 600.0 1549.4 601.1 1550.0 600.0 1550.6 602.0 1551.3 596.9 1551.9 595.7 1552.5 593.0 1553.2 601.5 1553.8 594.1 1554.4 597.8 1555.1 598.5 1555.7 593.9 1556.3 596.7 1556.9 600.5 1557.6 598.2 1558.2 595.3 1558.8 599.5 1559.5 603.5 1560.1 600.3 1560.7 600.5 1561.4 602.7 1562.0 604.6 1562.6 598.4 1563.2 597.1 1563.9 597.9 1564.5 596.8 1565.1 594.1 1565.8 597.9 1566.4 597.5 1567.0 604.0 1567.7 598.3 1568.3 592.1 1568.9 595.4 1569.5 596.8 1570.2 594.0 1570.8 592.9 1571.4 594.0 1572.1 593.8 1572.7 598.3 1573.3 597.0 1574.0 596.9 1574.6 599.9 1575.2 594.0 1575.8 596.9 1576.5 593.6 1577.1 596.3 1577.7 596.5 1578.4 595.3 1579.0 598.0 1579.6 602.6 1580.3 595.3 1580.9 603.6 1581.5 600.4 1582.1 601.6 1582.8 597.0 1583.4 600.7 1584.0 598.8 1584.7 603.0 1585.3 597.6 1585.9 601.0 1586.6 595.7 1587.2 600.3 1587.8 595.5 1588.4 592.9 1589.1 592.5 1589.7 597.6 1590.3 602.3 1591.0 595.3 1591.6 596.6 1592.2 597.2 1592.9 596.4 1593.5 599.4 1594.1 602.2 1594.7 596.6 1595.4 595.3 1596.0 600.4 1596.6 596.0 1597.3 596.9 1597.9 598.0 1598.5 601.1 1599.2 599.6 1599.8 601.3 1600.4 596.1 1601.0 599.8 1601.7 597.3 1602.3 594.9 1602.9 598.0 1603.6 602.9 1604.2 597.8 1604.8 597.5 1605.5 602.7 1606.1 602.2 1606.7 602.4 1607.3 596.8 1608.0 601.4 1608.6 603.8 1609.2 603.7 1609.9 599.7 1610.5 599.8 1611.1 597.4 1611.8 598.1 1612.4 599.7 1613.0 599.3 1613.6 596.3 1614.3 601.1 1614.9 598.9 1615.5 600.1 1616.2 594.6 1616.8 596.4 1617.4 589.4 1618.1 597.5 1618.7 598.0 1619.3 598.1 1619.9 597.2 1620.6 596.6 1621.2 595.9 1621.8 601.0 1622.5 597.1 1623.1 598.8 1623.7 601.1 1624.4 599.5 1625.0 597.4 1625.6 597.8 1626.2 596.5 1626.9 602.6 1627.5 596.4 1628.1 592.9 1628.8 602.8 1629.4 599.3 1630.0 602.8 1630.7 600.5 1631.3 598.5 1631.9 594.5 1632.5 600.2 1633.2 594.4 1633.8 600.8 1634.4 596.1 1635.1 602.9 1635.7 601.0 1636.3 595.3 1637.0 600.3 1637.6 600.0 1638.2 600.3 1638.8 596.3 1639.5 603.7 1640.1 596.7 1640.7 599.3 1641.4 590.7 1642.0 598.6 1642.6 599.7 1643.3 598.5 1643.9 602.3 1644.5 595.2 1645.1 597.6 1645.8 596.5 1646.4 598.2 1647.0 595.0 1647.7 599.5 1648.3 599.8 1648.9 598.3 1649.6 598.2 1650.2 597.3 1650.8 598.6 1651.4 599.0 1652.1 602.4 1652.7 599.9 1653.3 601.3 1654.0 604.9 1654.6 603.0 1655.2 598.5 1655.9 602.5 1656.5 595.9 1657.1 601.2 1657.7 604.9 1658.4 603.7 1659.0 602.0 1659.6 598.1 1660.3 594.1 1660.9 597.7 1661.5 597.9 1662.2 602.9 1662.8 598.7 1663.4 599.8 1664.0 603.2 1664.7 599.2 1665.3 601.8 1665.9 602.2 1666.6 599.7 1667.2 603.0 1667.8 601.3 1668.5 595.3 1669.1 594.4 1669.7 600.0 1670.3 601.0 1671.0 597.3 1671.6 599.3 1672.2 598.4 1672.9 596.8 1673.5 599.5 1674.1 596.4 1674.8 601.1 1675.4 602.2 1676.0 597.0 1676.6 597.6 1677.3 598.1 1677.9 603.8 1678.5 598.2 1679.2 602.1 1679.8 607.6 1680.4 598.8 1681.1 603.3 1681.7 602.0 1682.3 602.8 1682.9 596.3 1683.6 597.9 1684.2 593.9 1684.8 599.7 1685.5 593.4 1686.1 600.0 1686.7 596.0 1687.4 597.0 1688.0 596.5 1688.6 599.3 1689.2 597.6 1689.9 600.6 1690.5 602.2 1691.1 598.2 1691.8 594.9 1692.4 603.4 1693.0 595.3 1693.7 597.8 1694.3 597.1 1694.9 596.9 1695.5 598.1 1696.2 595.1 1696.8 598.1 1697.4 597.0 1698.1 599.7 1698.7 599.3 1699.3 597.4 1700.0 595.5 1700.6 600.0 1701.2 597.7 1701.8 594.2 1702.5 598.4 1703.1 599.0 1703.7 596.6 1704.4 602.2 1705.0 599.3 1705.6 598.9 1706.3 599.9 1706.9 597.3 1707.5 594.6 1708.1 599.1 1708.8 594.5 1709.4 602.9 1710.0 599.1" stroke="#ff0000"/>
<path d="M136.3 836.5L136.9 823.9 137.6 833.4 138.2 830.2 138.8 832.6 139.4 829.6 140.1 832.4 140.7 828.9 141.3 828.1 142.0 829.3 142.6 829.3 143.2 829.7 143.9 830.6 144.5 831.9 145.1 832.4 145.7 828.6 146.4 827.4 147.0 823.7 147.6 833.5 148.3 828.9 148.9 833.2 149.5 830.8 150.2 832.9 150.8 831.9 151.4 828.6 152.0 831.9 152.7 826.2 153.3 832.8 153.9 826.6 154.6 831.6 155.2 831.9 155.8 830.9 156.5 830.6 157.1 828.5 157.7 828.5 158.3 832.3 159.0 831.4 159.6 827.5 160.2 824.7 160.9 831.4 161.5 826.3 162.1 827.5 162.8 828.1 163.4 832.6 164.0 831.7 164.6 833.3 165.3 834.1 165.9 831.4 166.5 833.5 167.2 835.0 167.8 832.2 168.4 833.2 169.1 832.1 169.7 835.5 170.3 833.6 170.9 832.9 171.6 831.1 172.2 832.4 172.8 827.0 173.5 826.6 174.1 826.3 174.7 829.7 175.4 826.4 176.0 825.7 176.6 831.5 177.2 832.2 177.9 831.4 178.5 824.2 179.1 830.7 179.8 829.8 180.4 828.3 181.0 830.0 181.7 836.1 182.3 829.0 182.9 827.6 183.5 833.7 184.2 831.0 184.8 831.6 185.4 830.0 186.1 830.8 186.7 830.4 187.3 825.0 188.0 825.5 188.6 831.4 189.2 831.5 189.8 827.7 190.5 826.1 191.1 827.6 191.7 830.0 192.4 829.3 193.0 835.0 193.6 833.0 194.3 835.0 194.9 832.0 195.5 834.3 196.1 837.6 196.8 829.9 197.4 833.7 198.0 834.6 198.7 835.5 199.3 838.5 199.9 837.2 200.6 831.9 201.2 834.3 201.8 832.9 202.4 833.2 203.1 840.5 203.7 831.3 204.3 834.1 205.0 831.1 205.6 835.7 206.2 833.0 206.9 833.9 207.5 834.4 208.1 837.8 208.7 831.8 209.4 832.9 210.0 830.9 210.6 837.6 211.3 834.6 211.9 832.7 212.5 834.9 213.2 841.9 213.8 834.6 214.4 836.6 215.0 836.4 215.7 834.6 216.3 833.5 216.9 834.1 217.6 832.5 218.2 827.2 218.8 839.3 219.5 836.4 220.1 828.4 220.7 831.2 221.3 828.2 222.0 832.9 222.6 828.6 223.2 831.3 223.9 825.4 224.5 831.0 225.1 833.7 225.8 829.2 226.4 832.7 227.0 832.7 227.6 835.1 228.3 837.6 228.9 833.6 229.5 830.9 230.2 834.9 230.8 831.0 231.4 827.3 232.1 831.2 232.7 832.2 233.3 831.8 233.9 833.6 234.6 844.7 235.2 835.6 235.8 833.5 236.5 838.1 237.1 830.8 237.7 827.1 238.4 827.2 239.0 829.9 239.6 835.4 240.2 836.3 240.9 826.5 241.5 835.3 242.1 827.4 242.8 830.4 243.4 831.7 244.0 832.7 244.7 831.4 245.3 831.6 245.9 826.9 246.5 831.9 247.2 833.6 247.8 834.0 248.4 838.9 249.1 834.2 249.7 835.2 250.3 838.4 251.0 833.8 251.6 829.5 252.2 826.4 252.8 835.8 253.5 833.8 254.1 834.5 254.7 832.0 255.4 832.7 256.0 834.9 256.6 830.7 257.3 827.4 257.9 827.8 258.5 832.2 259.1 827.4 259.8 822.7 260.4 823.3 261.0 827.0 261.7 833.0 262.3 829.2 262.9 827.6 263.6 825.9 264.2 827.9 264.8 825.7 265.4 823.4 266.1 823.5 266.7 822.0 267.3 828.8 268.0 820.3 268.6 830.0 269.2 828.0 269.9 833.7 270.5 830.4 271.1 831.0 271.7 830.7 272.4 829.8 273.0 831.7 273.6 825.8 274.3 831.4 274.9 828.5 275.5 828.6 276.2 831.1 276.8 831.0 277.4 834.4 278.0 822.5 278.7 824.8 279.3 828.9 279.9 823.2 280.6 825.2 281.2 831.2 281.8 829.7 282.5 826.0 283.1 829.5 283.7 829.6 284.3 826.9 285.0 826.6 285.6 826.3 286.2 823.0 286.9 827.4 287.5 825.7 288.1 827.5 288.8 828.2 289.4 823.4 290.0 826.3 290.6 823.1 291.3 823.0 291.9 825.4 292.5 823.4 293.2 824.8 293.8 827.1 294.4 827.9 295.1 830.0 295.7 820.5 296.3 824.2 296.9 819.6 297.6 822.6 298.2 826.5 298.8 823.8 299.5 828.3 300.1 828.2 300.7 820.6 301.4 822.8 302.0 831.6 302.6 830.6 303.2 825.1 303.9 818.9 304.5 829.9 305.1 820.0 305.8 824.4 306.4 824.8 307.0 826.8 307.7 821.2 308.3 820.7 308.9 824.7 309.5 821.2 310.2 818.7 310.8 821.7 311.4 823.3 312.1 824.8 312.7 821.0 313.3 825.3 314.0 824.2 314.6 820.3 315.2 822.1 315.8 822.2 316.5 822.0 317.1 817.8 317.7 819.1 318.4 823.1 319.0 823.6 319.6 821.0 320.3 819.0 320.9 820.7 321.5 820.5 322.1 823.5 322.8 820.7 323.4 818.5 324.0 822.6 324.7 816.1 325.3 820.0 325.9 819.4 326.6 820.2 327.2 820.7 327.8 819.8 328.4 816.7 329.1 818.4 329.7 815.8 330.3 818.4 331.0 819.8 331.6 813.7 332.2 818.9 332.9 822.4 333.5 818.6 334.1 820.4 334.7 816.8 335.4 817.6 336.0 820.7 336.6 813.1 337.3 817.2 337.9 815.6 338.5 822.7 339.2 821.6 339.8 817.5 340.4 818.9 341.0 810.3 341.7 817.1 342.3 816.4 342.9 818.7 343.6 809.6 344.2 817.6 344.8 817.1 345.5 810.4 346.1 813.8 346.7 813.9 347.3 817.5 348.0 815.1 348.6 814.9 349.2 816.6 349.9 814.9 350.5 812.7 351.1 812.4 351.8 813.8 352.4 813.4 353.0 817.6 353.6 812.2 354.3 817.5 354.9 814.4 355.5 818.1 356.2 812.7 356.8 811.3 357.4 811.6 358.1 815.3 358.7 813.2 359.3 815.0 359.9 813.8 360.6 815.8 361.2 811.1 361.8 808.6 362.5 810.2 363.1 808.4 363.7 812.9 364.4 810.1 365.0 809.8 365.6 809.1 366.2 814.6 366.9 812.5 367.5 811.1 368.1 806.5 368.8 806.2 369.4 810.7 370.0 812.8 370.7 815.0 371.3 806.9 371.9 812.0 372.5 803.6 373.2 804.6 373.8 805.5 374.4 808.3 375.1 804.0 375.7 807.2 376.3 808.6 377.0 811.4 377.6 815.2 378.2 803.4 378.8 805.4 379.5 805.9 380.1 812.7 380.7 809.9 381.4 813.6 382.0 805.4 382.6 807.9 383.3 807.0 383.9 805.9 384.5 806.4 385.1 804.1 385.8 812.4 386.4 804.8 387.0 799.4 387.7 799.2 388.3 805.3 388.9 799.4 389.6 802.4 390.2 801.6 390.8 803.0 391.4 802.3 392.1 799.7 392.7 799.2 393.3 794.1 394.0 799.6 394.6 799.2 395.2 797.2 395.9 796.5 396.5 796.9 397.1 807.3 397.7 801.6 398.4 801.6 399.0 803.7 399.6 803.4 400.3 802.1 400.9 792.2 401.5 797.9 402.2 795.8 402.8 796.1 403.4 800.9 404.0 801.1 404.7 797.5 405.3 797.5 405.9 804.2 406.6 801.8 407.2 799.7 407.8 797.4 408.5 801.1 409.1 799.6 409.7 798.1 410.3 797.4 411.0 799.2 411.6 797.4 412.2 797.7 412.9 791.2 413.5 795.8 414.1 792.3 414.8 795.5 415.4 792.3 416.0 790.5 416.6 789.7 417.3 792.1 417.9 792.7 418.5 798.0 419.2 793.3 419.8 789.5 420.4 792.4 421.1 796.4 421.7 794.1 422.3 787.9 422.9 788.4 423.6 791.2 424.2 787.8 424.8 790.6 425.5 789.8 426.1 787.4 426.7 788.0 427.4 788.2 428.0 786.8 428.6 783.9 429.2 788.7 429.9 783.3 430.5 784.6 431.1 784.6 431.8 797.2 432.4 789.7 433.0 790.1 433.7 787.6 434.3 786.1 434.9 787.0 435.5 786.4 436.2 787.2 436.8 787.1 437.4 787.6 438.1 775.3 438.7 780.7 439.3 784.7 440.0 784.7 440.6 784.2 441.2 788.4 441.8 784.9 442.5 787.7 443.1 780.4 443.7 781.7 444.4 776.5 445.0 773.9 445.6 780.2 446.3 780.9 446.9 780.7 447.5 783.1 448.1 782.9 448.8 778.4 449.4 778.1 450.0 775.8 450.7 781.2 451.3 779.4 451.9 777.7 452.6 775.7 453.2 774.6 453.8 780.4 454.4 784.6 455.1 775.9 455.7 775.1 456.3 771.9 457.0 785.9 457.6 773.4 458.2 778.4 458.9 777.6 459.5 780.5 460.1 770.7 460.7 770.0 461.4 774.8 462.0 775.9 462.6 778.7 463.3 773.2 463.9 776.7 464.5 778.2 465.2 774.3 465.8 775.6 466.4 776.1 467.0 774.0 467.7 768.9 468.3 772.5 468.9 772.9 469.6 771.1 470.2 772.0 470.8 764.5 471.5 770.5 472.1 772.6 472.7 771.8 473.3 771.8 474.0 770.1 474.6 774.7 475.2 768.9 475.9 765.5 476.5 768.1 477.1 766.5 477.8 768.8 478.4 765.1 479.0 765.2 479.6 765.9 480.3 769.4 480.9 764.0 481.5 756.1 482.2 759.8 482.8 760.5 483.4 758.7 484.1 759.7 484.7 761.9 485.3 763.6 485.9 763.0 486.6 764.7 487.2 760.0 487.8 756.6 488.5 757.9 489.1 756.4 489.7 761.4 490.4 756.0 491.0 755.5 491.6 761.5 492.2 760.0 492.9 755.6 493.5 756.3 494.1 753.2 494.8 753.6 495.4 753.5 496.0 752.6 496.7 752.5 497.3 753.7 497.9 748.2 498.5 751.6 499.2 755.5 499.8 751.6 500.4 750.6 501.1 750.3 501.7 749.7 502.3 753.9 503.0 757.0 503.6 753.6 504.2 752.9 504.8 749.3 505.5 744.3 506.1 742.8 506.7 745.9 507.4 743.5 508.0 746.5 508.6 744.6 509.3 740.8 509.9 743.6 510.5 751.8 511.1 741.4 511.8 745.9 512.4 744.2 513.0 741.2 513.7 736.9 514.3 739.2 514.9 740.0 515.6 741.0 516.2 740.1 516.8 739.5 517.4 736.0 518.1 737.4 518.7 735.2 519.3 733.1 520.0 736.1 520.6 730.3 521.2 730.3 521.9 733.9 522.5 727.1 523.1 733.6 523.7 733.7 524.4 730.0 525.0 727.9 525.6 731.8 526.3 729.4 526.9 729.1 527.5 726.6 528.2 725.4 528.8 729.0 529.4 727.5 530.0 728.0 530.7 727.6 531.3 722.8 531.9 729.4 532.6 721.6 533.2 724.0 533.8 724.6 534.5 722.9 535.1 719.8 535.7 722.5 536.3 727.8 537.0 726.1 537.6 722.5 538.2 722.9 538.9 718.9 539.5 713.3 540.1 717.2 540.8 718.4 541.4 719.9 542.0 716.1 542.6 711.6 543.3 719.3 543.9 715.4 544.5 716.6 545.2 717.4 545.8 714.6 546.4 714.5 547.1 706.9 547.7 711.1 548.3 710.5 548.9 708.9 549.6 709.0 550.2 703.0 550.8 704.4 551.5 708.2 552.1 704.6 552.7 706.2 553.4 703.2 554.0 710.4 554.6 713.8 555.2 706.1 555.9 712.5 556.5 704.9 557.1 705.7 557.8 697.6 558.4 705.4 559.0 703.1 559.7 700.9 560.3 702.4 560.9 699.6 561.5 696.3 562.2 690.6 562.8 694.1 563.4 695.8 564.1 695.9 564.7 702.0 565.3 699.7 566.0 695.9 566.6 693.9 567.2 688.9 567.8 693.0 568.5 688.4 569.1 691.6 569.7 694.6 570.4 692.6 571.0 689.9 571.6 686.5 572.3 687.5 572.9 684.9 573.5 687.8 574.1 687.7 574.8 678.7 575.4 681.7 576.0 684.9 576.7 680.1 577.3 681.1 577.9 679.4 578.6 675.0 579.2 680.2 579.8 677.1 580.4 676.6 581.1 670.3 581.7 669.3 582.3 671.4 583.0 669.0 583.6 673.0 584.2 670.6 584.9 675.5 585.5 673.7 586.1 671.7 586.7 671.6 587.4 666.9 588.0 666.2 588.6 666.8 589.3 663.0 589.9 667.5 590.5 669.0 591.2 662.6 591.8 667.8 592.4 666.3 593.0 664.4 593.7 662.7 594.3 663.3 594.9 666.1 595.6 659.0 596.2 665.7 596.8 664.0 597.5 664.0 598.1 664.3 598.7 659.9 599.3 658.2 600.0 658.4 600.6 661.2 601.2 659.5 601.9 654.4 602.5 659.9 603.1 654.5 603.8 649.8 604.4 657.5 605.0 658.3 605.6 648.5 606.3 653.8 606.9 647.8 607.5 651.1 608.2 656.2 608.8 655.0 609.4 653.1 610.1 652.8 610.7 648.9 611.3 652.0 611.9 651.4 612.6 644.2 613.2 645.5 613.8 641.9 614.5 639.5 615.1 638.7 615.7 636.8 616.4 635.2 617.0 637.9 617.6 631.5 618.2 634.7 618.9 639.5 619.5 639.4 620.1 635.6 620.8 626.9 621.4 638.9 622.0 635.1 622.7 633.2 623.3 635.3 623.9 634.2 624.5 628.6 625.2 630.1 625.8 637.2 626.4 627.7 627.1 633.2 627.7 631.0 628.3 631.8 629.0 632.9 629.6 629.6 630.2 630.2 630.8 626.0 631.5 623.5 632.1 628.3 632.7 618.8 633.4 616.9 634.0 621.4 634.6 618.4 635.3 624.3 635.9 632.0 636.5 626.4 637.1 623.0 637.8 620.5 638.4 614.1 639.0 618.1 639.7 616.2 640.3 617.1 640.9 615.4 641.6 616.3 642.2 608.1 642.8 618.5 643.4 613.3 644.1 612.7 644.7 611.6 645.3 614.1 646.0 615.9 646.6 614.2 647.2 612.3 647.9 606.6 648.5 602.5 649.1 609.7 649.7 611.9 650.4 611.4 651.0 607.2 651.6 609.7 652.3 606.5 652.9 610.6 653.5 608.1 654.2 606.9 654.8 603.0 655.4 608.5 656.0 597.8 656.7 606.5 657.3 601.7 657.9 606.1 658.6 602.1 659.2 604.8 659.8 604.0 660.5 599.2 661.1 599.2 661.7 596.3 662.3 602.0 663.0 601.6 663.6 600.2 664.2 597.1 664.9 599.7 665.5 592.7 666.1 599.4 666.8 595.7 667.4 595.8 668.0 599.3 668.6 591.7 669.3 593.6 669.9 596.0 670.5 588.8 671.2 591.3 671.8 593.6 672.4 593.9 673.1 586.5 673.7 591.6 674.3 586.4 674.9 588.2 675.6 587.2 676.2 591.6 676.8 588.5 677.5 591.0 678.1 591.2 678.7 592.8 679.4 586.6 680.0 589.4 680.6 587.3 681.2 591.8 681.9 582.0 682.5 580.0 683.1 582.3 683.8 581.1 684.4 582.0 685.0 580.6 685.7 577.0 686.3 578.8 686.9 581.2 687.5 581.0 688.2 576.4 688.8 578.5 689.4 575.5 690.1 573.4 690.7 572.1 691.3 570.3 692.0 568.1 692.6 567.2 693.2 569.2 693.8 570.4 694.5 573.6 695.1 579.2 695.7 576.9 696.4 573.6 697.0 580.2 697.6 573.9 698.3 579.6 698.9 582.0 699.5 581.8 700.1 570.1 700.8 575.1 701.4 580.2 702.0 569.2 702.7 570.5 703.3 574.6 703.9 574.7 704.6 572.1 705.2 575.3 705.8 573.7 706.4 568.5 707.1 570.1 707.7 572.3 708.3 566.2 709.0 568.1 709.6 567.9 710.2 569.4 710.9 569.7 711.5 560.4 712.1 569.5 712.7 573.8 713.4 571.1 714.0 569.8 714.6 568.2 715.3 562.5 715.9 569.0 716.5 567.6 717.2 570.0 717.8 571.0 718.4 571.1 719.0 569.9 719.7 563.2 720.3 557.8 720.9 564.8 721.6 561.4 722.2 561.9 722.8 569.4 723.5 562.4 724.1 567.1 724.7 567.5 725.3 571.1 726.0 563.1 726.6 566.2 727.2 559.1 727.9 560.7 728.5 564.1 729.1 557.7 729.8 565.0 730.4 556.5 731.0 550.6 731.6 562.4 732.3 552.8 732.9 566.8 733.5 556.8 734.2 556.1 734.8 561.1 735.4 559.5 736.1 552.0 736.7 556.6 737.3 558.7 737.9 561.6 738.6 554.1 739.2 557.7 739.8 559.6 740.5 562.2 741.1 556.0 741.7 554.9 742.4 554.3 743.0 559.0 743.6 549.7 744.2 556.0 744.9 547.7 745.5 559.1 746.1 555.3 746.8 548.7 747.4 554.9 748.0 556.5 748.7 554.2 749.3 551.1 749.9 552.9 750.5 549.2 751.2 551.3 751.8 552.8 752.4 553.2 753.1 549.4 753.7 556.2 754.3 552.0 755.0 549.0 755.6 552.8 756.2 555.4 756.8 554.9 757.5 558.4 758.1 553.7 758.7 550.4 759.4 555.3 760.0 557.2 760.6 544.0 761.3 545.1 761.9 550.9 762.5 553.2 763.1 558.1 763.8 554.7 764.4 550.6 765.0 557.1 765.7 548.5 766.3 546.4 766.9 551.5 767.6 552.9 768.2 553.5 768.8 548.3 769.4 554.6 770.1 555.4 770.7 560.1 771.3 551.7 772.0 550.3 772.6 553.5 773.2 551.6 773.9 557.7 774.5 552.1 775.1 553.7 775.7 552.8 776.4 554.6 777.0 558.4 777.6 557.8 778.3 554.4 778.9 560.3 779.5 558.1 780.2 557.8 780.8 553.6 781.4 560.8 782.0 554.6 782.7 554.7 783.3 558.6 783.9 557.8 784.6 550.2 785.2 558.4 785.8 553.7 786.5 557.0 787.1 553.8 787.7 556.5 788.3 555.5 789.0 556.5 789.6 562.5 790.2 564.6 790.9 566.7 791.5 565.4 792.1 560.0 792.8 567.3 793.4 571.1 794.0 565.5 794.6 563.6 795.3 560.8 795.9 562.4 796.5 555.4 797.2 562.3 797.8 556.9 798.4 557.4 799.1 561.7 799.7 558.1 800.3 558.2 800.9 563.5 801.6 568.3 802.2 560.9 802.8 565.6 803.5 557.7 804.1 564.9 804.7 568.1 805.4 572.2 806.0 561.6 806.6 568.0 807.2 564.5 807.9 567.8 808.5 564.2 809.1 566.4 809.8 562.0 810.4 562.8 811.0 567.5 811.7 572.0 812.3 568.1 812.9 568.9 813.5 566.9 814.2 575.1 814.8 563.1 815.4 564.0 816.1 566.8 816.7 572.3 817.3 573.8 818.0 573.8 818.6 573.2 819.2 572.9 819.8 570.9 820.5 568.6 821.1 573.5 821.7 570.4 822.4 574.0 823.0 574.8 823.6 570.0 824.3 573.3 824.9 574.5 825.5 579.3 826.1 577.0 826.8 576.4 827.4 579.0 828.0 584.4 828.7 578.3 829.3 582.3 829.9 578.4 830.6 575.3 831.2 576.4 831.8 579.4 832.4 577.5 833.1 581.3 833.7 578.9 834.3 581.7 835.0 585.0 835.6 585.8 836.2 582.3 836.9 588.3 837.5 589.8 838.1 580.8 838.7 583.5 839.4 581.2 840.0 580.5 840.6 586.1 841.3 587.8 841.9 585.4 842.5 590.2 843.2 594.4 843.8 588.3 844.4 587.7 845.0 586.2 845.7 585.6 846.3 590.6 846.9 587.1 847.6 585.9 848.2 594.2 848.8 598.3 849.5 597.5 850.1 597.8 850.7 593.2 851.3 589.0 852.0 589.3 852.6 592.6 853.2 590.4 853.9 595.5 854.5 600.1 855.1 598.7 855.8 607.9 856.4 602.0 857.0 595.3 857.6 595.1 858.3 597.0 858.9 599.6 859.5 600.1 860.2 594.7 860.8 597.0 861.4 596.6 862.1 596.1 862.7 590.4 863.3 594.1 863.9 596.7 864.6 595.4 865.2 604.1 865.8 597.9 866.5 600.5 867.1 599.0 867.7 603.3 868.4 605.5 869.0 605.3 869.6 604.0 870.2 599.4 870.9 599.5 871.5 596.9 872.1 594.0 872.8 594.0 873.4 595.1 874.0 597.4 874.7 598.9 875.3 598.9 875.9 605.6 876.5 601.5 877.2 598.2 877.8 606.7 878.4 611.4 879.1 616.0 879.7 618.8 880.3 624.1 881.0 614.2 881.6 612.3 882.2 611.5 882.8 623.7 883.5 617.0 884.1 611.0 884.7 602.9 885.4 613.7 886.0 611.7 886.6 614.5 887.3 614.0 887.9 617.2 888.5 622.4 889.1 619.3 889.8 621.7 890.4 619.3 891.0 619.3 891.7 620.9 892.3 618.5 892.9 622.2 893.6 623.9 894.2 622.1 894.8 624.5 895.4 627.3 896.1 628.8 896.7 627.5 897.3 626.8 898.0 629.2 898.6 628.0 899.2 628.8 899.9 625.3 900.5 624.6 901.1 630.5 901.7 622.1 902.4 628.4 903.0 635.2 903.6 631.7 904.3 628.5 904.9 634.1 905.5 633.2 906.2 630.1 906.8 632.9 907.4 630.2 908.0 632.1 908.7 634.4 909.3 628.8 909.9 635.5 910.6 641.7 911.2 635.8 911.8 634.4 912.5 634.3 913.1 640.5 913.7 635.2 914.3 640.1 915.0 645.5 915.6 641.7 916.2 648.0 916.9 645.7 917.5 647.4 918.1 650.0 918.8 646.8 919.4 649.4 920.0 651.2 920.6 654.3 921.3 654.4 921.9 654.0 922.5 658.5 923.2 652.8 923.8 656.4 924.4 652.9 925.1 660.0 925.7 654.5 926.3 660.2 926.9 655.4 927.6 656.9 928.2 653.0 928.8 655.6 929.5 655.3 930.1 658.6 930.7 662.9 931.4 664.3 932.0 661.1 932.6 660.4 933.2 665.6 933.9 667.6 934.5 661.0 935.1 662.4 935.8 665.5 936.4 673.3 937.0 667.8 937.7 668.3 938.3 667.4 938.9 665.5 939.5 666.0 940.2 667.7 940.8 676.1 941.4 675.9 942.1 676.1 942.7 675.6 943.3 678.2 944.0 676.4 944.6 676.8 945.2 678.0 945.8 676.6 946.5 681.6 947.1 686.2 947.7 676.8 948.4 679.3 949.0 675.7 949.6 676.2 950.3 679.3 950.9 679.4 951.5 676.9 952.1 676.1 952.8 680.7 953.4 679.5 954.0 684.8 954.7 683.6 955.3 681.9 955.9 683.2 956.6 677.1 957.2 687.6 957.8 682.1 958.4 687.0 959.1 686.9 959.7 682.5 960.3 680.2 961.0 685.0 961.6 683.1 962.2 687.6 962.9 689.6 963.5 687.6 964.1 684.6 964.7 684.8 965.4 688.3 966.0 684.8 966.6 689.1 967.3 683.6 967.9 688.2 968.5 688.5 969.2 693.0 969.8 700.9 970.4 697.1 971.0 692.4 971.7 688.7 972.3 693.6 972.9 692.2 973.6 690.5 974.2 698.8 974.8 691.6 975.5 696.5 976.1 697.1 976.7 698.8 977.3 702.9 978.0 698.3 978.6 693.8 979.2 698.6 979.9 696.6 980.5 694.7 981.1 696.7 981.8 697.5 982.4 691.6 983.0 700.0 983.6 698.1 984.3 698.1 984.9 694.4 985.5 699.7 986.2 702.6 986.8 701.6 987.4 700.0 988.1 700.3 988.7 701.4 989.3 705.4 989.9 703.7 990.6 710.3 991.2 712.4 991.8 708.7 992.5 704.1 993.1 709.1 993.7 714.9 994.4 708.3 995.0 710.1 995.6 711.8 996.2 720.5 996.9 712.9 997.5 708.5 998.1 715.1 998.8 715.4 999.4 716.1 1000.0 712.3 1000.7 715.3 1001.3 714.2 1001.9 720.2 1002.5 716.0 1003.2 717.3 1003.8 711.6 1004.4 716.0 1005.1 712.9 1005.7 711.5 1006.3 714.6 1007.0 712.9 1007.6 716.0 1008.2 718.7 1008.8 718.3 1009.5 720.2 1010.1 720.4 1010.7 717.4 1011.4 720.4 1012.0 724.3 1012.6 719.2 1013.3 714.9 1013.9 717.9 1014.5 716.2 1015.1 719.0 1015.8 718.9 1016.4 716.9 1017.0 722.0 1017.7 720.7 1018.3 723.3 1018.9 720.3 1019.6 719.2 1020.2 721.1 1020.8 728.3 1021.4 719.4 1022.1 728.3 1022.7 726.2 1023.3 729.8 1024.0 725.9 1024.6 726.4 1025.2 726.1 1025.9 729.1 1026.5 723.1 1027.1 723.5 1027.7 722.7 1028.4 728.3 1029.0 727.5 1029.6 730.7 1030.3 732.1 1030.9 732.0 1031.5 727.2 1032.2 728.8 1032.8 733.5 1033.4 727.4 1034.0 729.2 1034.7 727.3 1035.3 723.0 1035.9 729.3 1036.6 729.4 1037.2 735.4 1037.8 725.9 1038.5 730.4 1039.1 733.1 1039.7 731.9 1040.3 729.7 1041.0 737.2 1041.6 734.4 1042.2 733.6 1042.9 735.1 1043.5 735.7 1044.1 739.1 1044.8 739.3 1045.4 738.7 1046.0 741.6 1046.6 745.2 1047.3 741.0 1047.9 747.2 1048.5 744.0 1049.2 746.0 1049.8 745.9 1050.4 748.1 1051.1 750.5 1051.7 739.1 1052.3 744.7 1052.9 749.8 1053.6 743.1 1054.2 744.7 1054.8 741.0 1055.5 745.6 1056.1 751.2 1056.7 748.4 1057.4 746.4 1058.0 747.7 1058.6 746.2 1059.2 751.5 1059.9 750.5 1060.5 753.4 1061.1 753.4 1061.8 750.2 1062.4 750.7 1063.0 750.8 1063.7 753.3 1064.3 755.2 1064.9 760.5 1065.5 753.5 1066.2 755.8 1066.8 751.6 1067.4 752.1 1068.1 754.2 1068.7 753.4 1069.3 751.3 1070.0 752.3 1070.6 758.4 1071.2 754.7 1071.8 755.3 1072.5 752.9 1073.1 761.7 1073.7 759.5 1074.4 756.6 1075.0 761.7 1075.6 757.4 1076.3 755.9 1076.9 757.0 1077.5 760.1 1078.1 753.6 1078.8 760.8 1079.4 761.0 1080.0 763.9 1080.7 761.9 1081.3 765.9 1081.9 760.8 1082.6 765.5 1083.2 770.3 1083.8 769.2 1084.4 769.2 1085.1 764.3 1085.7 767.5 1086.3 762.4 1087.0 766.7 1087.6 767.7 1088.2 765.1 1088.9 768.2 1089.5 764.6 1090.1 767.1 1090.7 762.1 1091.4 758.7 1092.0 761.3 1092.6 765.8 1093.3 768.4 1093.9 769.5 1094.5 767.3 1095.2 768.0 1095.8 766.0 1096.4 770.1 1097.0 764.2 1097.7 771.9 1098.3 770.5 1098.9 768.4 1099.6 768.0 1100.2 773.0 1100.8 771.5 1101.5 776.4 1102.1 780.0 1102.7 775.1 1103.3 776.7 1104.0 776.4 1104.6 771.3 1105.2 777.0 1105.9 769.8 1106.5 771.8 1107.1 771.3 1107.8 771.9 1108.4 778.7 1109.0 778.8 1109.6 777.7 1110.3 779.1 1110.9 774.8 1111.5 777.4 1112.2 781.9 1112.8 780.9 1113.4 775.5 1114.1 778.6 1114.7 780.3 1115.3 779.7 1115.9 781.2 1116.6 774.1 1117.2 783.0 1117.8 780.0 1118.5 783.7 1119.1 781.0 1119.7 782.5 1120.4 784.2 1121.0 777.1 1121.6 780.8 1122.2 781.1 1122.9 783.3 1123.5 779.0 1124.1 785.9 1124.8 788.3 1125.4 781.0 1126.0 780.9 1126.7 770.4 1127.3 773.8 1127.9 779.0 1128.5 780.2 1129.2 783.8 1129.8 787.0 1130.4 784.2 1131.1 783.3 1131.7 781.1 1132.3 784.1 1133.0 778.4 1133.6 789.0 1134.2 779.8 1134.8 781.2 1135.5 784.0 1136.1 785.8 1136.7 784.4 1137.4 788.2 1138.0 783.4 1138.6 784.1 1139.3 788.3 1139.9 783.8 1140.5 783.0 1141.1 789.7 1141.8 787.7 1142.4 782.7 1143.0 787.3 1143.7 783.5 1144.3 792.4 1144.9 788.4 1145.6 791.8 1146.2 793.2 1146.8 785.2 1147.4 788.0 1148.1 788.4 1148.7 791.1 1149.3 784.1 1150.0 785.1 1150.6 787.8 1151.2 784.7 1151.9 792.5 1152.5 791.2 1153.1 793.3 1153.7 794.2 1154.4 796.4 1155.0 789.2 1155.6 795.2 1156.3 794.9 1156.9 791.9 1157.5 793.2 1158.2 792.4 1158.8 799.0 1159.4 801.9 1160.0 795.8 1160.7 798.0 1161.3 800.2 1161.9 801.6 1162.6 799.1 1163.2 803.3 1163.8 799.1 1164.5 802.7 1165.1 800.5 1165.7 800.9 1166.3 799.6 1167.0 794.1 1167.6 798.4 1168.2 801.4 1168.9 797.4 1169.5 793.6 1170.1 799.8 1170.8 798.4 1171.4 795.7 1172.0 798.2 1172.6 800.5 1173.3 799.1 1173.9 801.7 1174.5 802.7 1175.2 798.3 1175.8 797.6 1176.4 795.5 1177.1 804.3 1177.7 803.8 1178.3 806.4 1178.9 801.6 1179.6 805.2 1180.2 800.8 1180.8 801.3 1181.5 800.7 1182.1 802.9 1182.7 802.5 1183.4 804.0 1184.0 801.9 1184.6 801.8 1185.2 808.9 1185.9 809.5 1186.5 808.7 1187.1 807.0 1187.8 810.3 1188.4 805.5 1189.0 804.3 1189.7 811.1 1190.3 809.6 1190.9 809.6 1191.5 804.7 1192.2 807.6 1192.8 803.7 1193.4 804.7 1194.1 809.7 1194.7 808.2 1195.3 804.8 1196.0 801.8 1196.6 806.5 1197.2 806.3 1197.8 805.3 1198.5 809.6 1199.1 808.5 1199.7 812.7 1200.4 812.8 1201.0 810.1 1201.6 815.0 1202.3 805.3 1202.9 803.5 1203.5 808.1 1204.1 804.6 1204.8 810.0 1205.4 811.9 1206.0 812.8 1206.7 814.0 1207.3 809.1 1207.9 809.5 1208.6 809.4 1209.2 809.6 1209.8 811.1 1210.4 808.8 1211.1 807.0 1211.7 805.2 1212.3 809.6 1213.0 809.0 1213.6 809.5 1214.2 810.8 1214.9 809.5 1215.5 812.5 1216.1 806.9 1216.7 812.3 1217.4 809.2 1218.0 813.3 1218.6 806.9 1219.3 807.7 1219.9 806.7 1220.5 805.7 1221.2 806.0 1221.8 804.5 1222.4 809.9 1223.0 806.8 1223.7 813.9 1224.3 806.9 1224.9 810.4 1225.6 812.5 1226.2 811.0 1226.8 814.5 1227.5 812.7 1228.1 810.4 1228.7 811.5 1229.3 816.4 1230.0 813.3 1230.6 804.4 1231.2 809.2 1231.9 807.2 1232.5 809.7 1233.1 812.3 1233.8 810.7 1234.4 812.4 1235.0 816.7 1235.6 806.7 1236.3 811.9 1236.9 812.1 1237.5 811.4 1238.2 809.0 1238.8 811.8 1239.4 807.2 1240.1 808.7 1240.7 804.2 1241.3 807.5 1241.9 803.3 1242.6 811.5 1243.2 813.0 1243.8 807.9 1244.5 811.1 1245.1 812.4 1245.7 812.3 1246.4 811.4 1247.0 810.5 1247.6 804.7 1248.2 802.1 1248.9 798.0 1249.5 799.0 1250.1 797.9 1250.8 801.4 1251.4 803.3 1252.0 807.1 1252.7 806.7 1253.3 810.7 1253.9 814.2 1254.5 815.4 1255.2 811.9 1255.8 813.5 1256.4 809.3 1257.1 815.2 1257.7 810.8 1258.3 822.4 1259.0 811.1 1259.6 812.1 1260.2 813.9 1260.8 812.1 1261.5 815.4 1262.1 816.3 1262.7 810.0 1263.4 809.3 1264.0 809.9 1264.6 812.5 1265.3 814.4 1265.9 813.6 1266.5 810.8 1267.1 811.2 1267.8 812.5 1268.4 812.8 1269.0 810.4 1269.7 811.7 1270.3 807.7 1270.9 810.2 1271.6 813.3 1272.2 808.0 1272.8 806.2 1273.4 807.7 1274.1 809.8 1274.7 808.1 1275.3 810.6 1276.0 816.6 1276.6 812.5 1277.2 817.2 1277.9 816.1 1278.5 811.0 1279.1 816.5 1279.7 814.8 1280.4 813.7 1281.0 812.0 1281.6 810.8 1282.3 806.9 1282.9 807.0 1283.5 810.6 1284.2 811.0 1284.8 808.4 1285.4 816.7 1286.0 811.7 1286.7 813.6 1287.3 810.8 1287.9 819.3 1288.6 814.9 1289.2 815.8 1289.8 808.8 1290.5 815.4 1291.1 813.0 1291.7 811.3 1292.3 813.5 1293.0 813.0 1293.6 813.7 1294.2 820.0 1294.9 815.1 1295.5 817.8 1296.1 811.8 1296.8 806.9 1297.4 813.4 1298.0 817.0 1298.6 815.2 1299.3 809.8 1299.9 815.2 1300.5 815.4 1301.2 814.4 1301.8 813.3 1302.4 818.0 1303.1 814.6 1303.7 813.1 1304.3 817.5 1304.9 811.5 1305.6 813.7 1306.2 817.7 1306.8 811.8 1307.5 812.6 1308.1 814.1 1308.7 808.7 1309.4 809.2 1310.0 808.7 1310.6 808.9 1311.2 810.0 1311.9 815.5 1312.5 811.2 1313.1 813.0 1313.8 817.6 1314.4 818.0 1315.0 810.1 1315.7 810.4 1316.3 811.6 1316.9 811.8 1317.5 816.7 1318.2 814.3 1318.8 816.5 1319.4 819.8 1320.1 814.3 1320.7 814.8 1321.3 819.4 1322.0 815.1 1322.6 811.9 1323.2 811.6 1323.8 815.9 1324.5 809.7 1325.1 809.3 1325.7 813.2 1326.4 814.0 1327.0 813.4 1327.6 807.3 1328.3 811.2 1328.9 802.5 1329.5 809.2 1330.1 821.2 1330.8 816.2 1331.4 815.8 1332.0 810.1 1332.7 808.8 1333.3 814.2 1333.9 811.1 1334.6 810.8 1335.2 814.5 1335.8 816.3 1336.4 811.1 1337.1 813.3 1337.7 816.7 1338.3 809.1 1339.0 812.7 1339.6 810.8 1340.2 809.1 1340.9 809.9 1341.5 813.1 1342.1 814.8 1342.7 816.2 1343.4 814.2 1344.0 818.3 1344.6 814.8 1345.3 814.2 1345.9 818.9 1346.5 819.1 1347.2 812.3 1347.8 817.9 1348.4 812.7 1349.0 813.1 1349.7 818.4 1350.3 817.0 1350.9 812.1 1351.6 815.9 1352.2 819.1 1352.8 821.3 1353.5 822.9 1354.1 816.5 1354.7 815.7 1355.3 813.8 1356.0 805.0 1356.6 810.7 1357.2 813.4 1357.9 812.9 1358.5 814.5 1359.1 813.1 1359.8 813.2 1360.4 814.2 1361.0 813.2 1361.6 815.0 1362.3 816.7 1362.9 811.2 1363.5 819.3 1364.2 816.2 1364.8 819.6 1365.4 813.6 1366.1 819.7 1366.7 814.0 1367.3 819.7 1367.9 817.4 1368.6 817.2 1369.2 812.8 1369.8 812.3 1370.5 818.6 1371.1 812.1 1371.7 813.1 1372.4 817.8 1373.0 815.7 1373.6 817.2 1374.2 812.7 1374.9 810.1 1375.5 812.8 1376.1 818.9 1376.8 816.1 1377.4 817.7 1378.0 817.7 1378.7 816.6 1379.3 815.9 1379.9 814.9 1380.5 816.3 1381.2 817.7 1381.8 816.2 1382.4 820.7 1383.1 819.3 1383.7 817.8 1384.3 815.9 1385.0 817.3 1385.6 814.4 1386.2 818.3 1386.8 811.5 1387.5 815.9 1388.1 810.3 1388.7 814.4 1389.4 812.2 1390.0 813.7 1390.6 812.4 1391.3 814.4 1391.9 815.6 1392.5 809.8 1393.1 815.7 1393.8 816.8 1394.4 817.5 1395.0 818.6 1395.7 814.2 1396.3 819.1 1396.9 814.7 1397.6 819.2 1398.2 816.1 1398.8 814.3 1399.4 812.1 1400.1 814.9 1400.7 818.5 1401.3 819.0 1402.0 817.1 1402.6 822.4 1403.2 823.7 1403.9 824.9 1404.5 813.2 1405.1 818.8 1405.7 820.3 1406.4 816.5 1407.0 813.8 1407.6 822.0 1408.3 819.2 1408.9 814.7 1409.5 816.2 1410.2 821.6 1410.8 824.5 1411.4 821.4 1412.0 817.6 1412.7 821.6 1413.3 813.7 1413.9 822.0 1414.6 821.6 1415.2 822.8 1415.8 820.9 1416.5 823.0 1417.1 820.8 1417.7 818.9 1418.3 820.3 1419.0 826.6 1419.6 817.6 1420.2 817.1 1420.9 816.0 1421.5 819.3 1422.1 818.6 1422.8 825.2 1423.4 827.2 1424.0 823.0 1424.6 822.9 1425.3 820.9 1425.9 816.1 1426.5 818.7 1427.2 821.2 1427.8 816.6 1428.4 820.1 1429.1 821.5 1429.7 820.3 1430.3 823.9 1430.9 822.5 1431.6 817.6 1432.2 820.7 1432.8 819.6 1433.5 816.9 1434.1 818.9 1434.7 823.2 1435.4 821.2 1436.0 822.8 1436.6 819.6 1437.2 821.9 1437.9 825.6 1438.5 818.2 1439.1 816.9 1439.8 819.4 1440.4 821.3 1441.0 819.1 1441.7 818.6 1442.3 826.8 1442.9 822.2 1443.5 823.3 1444.2 817.9 1444.8 825.4 1445.4 820.2 1446.1 827.2 1446.7 824.1 1447.3 822.9 1448.0 823.6 1448.6 826.5 1449.2 822.9 1449.8 824.0 1450.5 822.8 1451.1 822.4 1451.7 827.1 1452.4 826.2 1453.0 821.5 1453.6 820.6 1454.3 822.6 1454.9 820.9 1455.5 824.7 1456.1 820.8 1456.8 820.0 1457.4 825.3 1458.0 822.8 1458.7 820.7 1459.3 817.4 1459.9 822.7 1460.6 820.8 1461.2 822.2 1461.8 825.5 1462.4 821.5 1463.1 826.9 1463.7 824.3 1464.3 822.0 1465.0 823.7 1465.6 829.0 1466.2 824.3 1466.9 830.4 1467.5 820.6 1468.1 827.7 1468.7 824.4 1469.4 825.5 1470.0 830.7 1470.6 826.6 1471.3 821.3 1471.9 829.5 1472.5 824.5 1473.2 824.8 1473.8 825.3 1474.4 828.7 1475.0 826.4 1475.7 830.9 1476.3 826.3 1476.9 826.3 1477.6 823.5 1478.2 826.9 1478.8 819.6 1479.5 819.6 1480.1 825.3 1480.7 825.1 1481.3 823.4 1482.0 829.2 1482.6 820.7 1483.2 827.7 1483.9 828.1 1484.5 820.4 1485.1 825.5 1485.8 825.4 1486.4 822.3 1487.0 822.7 1487.6 823.5 1488.3 821.7 1488.9 822.4 1489.5 828.0 1490.2 826.8 1490.8 826.0 1491.4 828.7 1492.1 824.2 1492.7 825.1 1493.3 827.9 1493.9 827.1 1494.6 827.9 1495.2 830.8 1495.8 832.2 1496.5 826.5 1497.1 825.3 1497.7 821.2 1498.4 823.0 1499.0 827.7 1499.6 824.5 1500.2 833.3 1500.9 829.8 1501.5 825.9 1502.1 828.2 1502.8 836.5 1503.4 828.7 1504.0 827.9 1504.7 825.8 1505.3 824.2 1505.9 829.7 1506.5 824.1 1507.2 823.6 1507.8 827.2 1508.4 826.4 1509.1 829.7 1509.7 827.7 1510.3 830.5 1511.0 824.5 1511.6 827.1 1512.2 827.7 1512.8 830.4 1513.5 824.7 1514.1 829.5 1514.7 822.5 1515.4 828.2 1516.0 826.5 1516.6 828.6 1517.3 833.6 1517.9 832.7 1518.5 826.2 1519.1 834.4 1519.8 832.4 1520.4 830.2 1521.0 830.7 1521.7 828.5 1522.3 830.2 1522.9 830.6 1523.6 827.8 1524.2 830.7 1524.8 828.6 1525.4 827.0 1526.1 829.5 1526.7 830.9 1527.3 830.1 1528.0 829.6 1528.6 821.8 1529.2 826.9 1529.9 826.3 1530.5 830.3 1531.1 832.2 1531.7 829.2 1532.4 829.5 1533.0 828.3 1533.6 828.7 1534.3 826.1 1534.9 832.4 1535.5 826.7 1536.2 827.7 1536.8 832.2 1537.4 831.6 1538.0 833.6 1538.7 830.4 1539.3 831.1 1539.9 829.0 1540.6 823.6 1541.2 826.9 1541.8 827.8 1542.5 823.1 1543.1 823.3 1543.7 826.5 1544.3 828.7 1545.0 825.0 1545.6 830.9 1546.2 826.8 1546.9 834.0 1547.5 828.6 1548.1 832.4 1548.8 832.0 1549.4 835.2 1550.0 834.1 1550.6 827.0 1551.3 824.5 1551.9 834.7 1552.5 829.5 1553.2 825.0 1553.8 827.1 1554.4 827.1 1555.1 833.3 1555.7 831.0 1556.3 830.8 1556.9 828.5 1557.6 832.2 1558.2 825.0 1558.8 832.5 1559.5 830.3 1560.1 827.6 1560.7 826.7 1561.4 829.1 1562.0 828.7 1562.6 836.4 1563.2 833.5 1563.9 823.7 1564.5 825.8 1565.1 825.1 1565.8 828.8 1566.4 827.8 1567.0 830.5 1567.7 828.9 1568.3 827.5 1568.9 826.3 1569.5 826.6 1570.2 834.3 1570.8 829.9 1571.4 835.3 1572.1 829.8 1572.7 826.3 1573.3 831.6 1574.0 830.8 1574.6 834.7 1575.2 830.7 1575.8 827.8 1576.5 828.7 1577.1 823.1 1577.7 825.7 1578.4 831.0 1579.0 828.1 1579.6 825.6 1580.3 827.4 1580.9 826.2 1581.5 827.5 1582.1 831.2 1582.8 825.1 1583.4 823.5 1584.0 822.7 1584.7 825.1 1585.3 826.7 1585.9 827.3 1586.6 832.8 1587.2 836.8 1587.8 833.1 1588.4 829.7 1589.1 829.2 1589.7 828.0 1590.3 830.8 1591.0 838.6 1591.6 838.9 1592.2 841.4 1592.9 836.7 1593.5 831.0 1594.1 829.0 1594.7 829.7 1595.4 832.2 1596.0 828.5 1596.6 828.3 1597.3 827.6 1597.9 831.1 1598.5 828.6 1599.2 831.0 1599.8 831.5 1600.4 830.0 1601.0 834.7 1601.7 836.4 1602.3 830.2 1602.9 829.9 1603.6 828.3 1604.2 829.6 1604.8 835.7 1605.5 831.7 1606.1 835.7 1606.7 832.5 1607.3 830.7 1608.0 832.0 1608.6 832.7 1609.2 830.8 1609.9 831.7 1610.5 837.1 1611.1 830.5 1611.8 836.7 1612.4 832.9 1613.0 831.0 1613.6 828.0 1614.3 831.7 1614.9 833.3 1615.5 828.6 1616.2 830.2 1616.8 833.9 1617.4 829.9 1618.1 829.5 1618.7 827.4 1619.3 831.4 1619.9 829.1 1620.6 825.6 1621.2 827.9 1621.8 830.8 1622.5 830.0 1623.1 831.8 1623.7 833.2 1624.4 832.4 1625.0 830.7 1625.6 836.0 1626.2 831.1 1626.9 828.8 1627.5 833.4 1628.1 830.7 1628.8 833.3 1629.4 833.1 1630.0 824.0 1630.7 828.0 1631.3 830.9 1631.9 825.7 1632.5 831.8 1633.2 829.6 1633.8 826.8 1634.4 826.0 1635.1 827.6 1635.7 832.9 1636.3 833.5 1637.0 825.9 1637.6 832.7 1638.2 829.6 1638.8 833.4 1639.5 831.6 1640.1 832.1 1640.7 830.9 1641.4 831.6 1642.0 827.9 1642.6 830.1 1643.3 827.1 1643.9 825.6 1644.5 833.0 1645.1 826.0 1645.8 829.8 1646.4 831.4 1647.0 834.2 1647.7 831.2 1648.3 830.8 1648.9 831.8 1649.6 831.6 1650.2 831.4 1650.8 837.4 1651.4 837.3 1652.1 838.1 1652.7 832.7 1653.3 830.1 1654.0 833.3 1654.6 833.4 1655.2 831.6 1655.9 832.7 1656.5 829.1 1657.1 832.1 1657.7 828.7 1658.4 828.6 1659.0 831.3 1659.6 827.6 1660.3 828.1 1660.9 830.9 1661.5 835.0 1662.2 832.0 1662.8 835.5 1663.4 832.3 1664.0 833.0 1664.7 830.6 1665.3 833.8 1665.9 830.0 1666.6 823.6 1667.2 831.9 1667.8 830.8 1668.5 825.5 1669.1 825.8 1669.7 825.3 1670.3 830.4 1671.0 827.3 1671.6 827.9 1672.2 829.7 1672.9 827.6 1673.5 834.2 1674.1 834.6 1674.8 834.5 1675.4 833.3 1676.0 832.5 1676.6 831.7 1677.3 831.8 1677.9 827.1 1678.5 834.6 1679.2 826.4 1679.8 831.0 1680.4 836.3 1681.1 830.1 1681.7 836.1 1682.3 838.1 1682.9 832.1 1683.6 837.3 1684.2 831.5 1684.8 832.1 1685.5 831.5 1686.1 828.2 1686.7 828.1 1687.4 828.2 1688.0 826.5 1688.6 830.8 1689.2 833.1 1689.9 835.0 1690.5 833.4 1691.1 832.1 1691.8 831.8 1692.4 837.4 1693.0 825.9 1693.7 826.9 1694.3 836.4 1694.9 832.3 1695.5 829.4 1696.2 832.2 1696.8 832.5 1697.4 825.6 1698.1 829.5 1698.7 833.7 1699.3 831.9 1700.0 834.4 1700.6 832.8 1701.2 831.3 1701.8 831.3 1702.5 837.3 1703.1 835.9 1703.7 838.3 1704.4 839.9 1705.0 838.9 1705.6 830.2 1706.3 835.8 1706.9 829.3 1707.5 828.1 1708.1 835.7 1708.8 831.9 1709.4 829.7 1710.0 830.2" stroke="#00ff00"/>
<path d="M136.3 1109.1L136.9 1105.6 137.6 1103.4 138.2 1100.1 138.8 1107.6 139.4 1112.2 140.1 1107.2 140.7 1109.9 141.3 1113.5 142.0 1108.9 142.6 1118.1 143.2 1111.2 143.9 1113.0 144.5 1118.0 145.1 1109.5 145.7 1109.5 146.4 1106.8 147.0 1109.3 147.6 1101.4 148.3 1104.8 148.9 1109.0 149.5 1104.2 150.2 1102.7 150.8 1106.1 151.4 1107.5 152.0 1108.7 152.7 1109.8 153.3 1104.0 153.9 1108.6 154.6 1105.7 155.2 1107.6 155.8 1105.5 156.5 1104.0 157.1 1106.3 157.7 1104.0 158.3 1110.8 159.0 1108.4 159.6 1109.8 160.2 1104.5 160.9 1110.3 161.5 1105.9 162.1 1110.4 162.8 1109.3 163.4 1105.7 164.0 1109.9 164.6 1108.3 165.3 1107.1 165.9 1114.0 166.5 1112.0 167.2 1112.6 167.8 1105.8 168.4 1109.2 169.1 1111.3 169.7 1113.6 170.3 1109.5 170.9 1112.5 171.6 1111.2 172.2 1104.4 172.8 1104.6 173.5 1108.5 174.1 1103.2 174.7 1103.9 175.4 1109.6 176.0 1108.5 176.6 1106.0 177.2 1108.4 177.9 1106.8 178.5 1106.1 179.1 1105.5 179.8 1108.3 180.4 1108.7 181.0 1102.9 181.7 1105.4 182.3 1104.9 182.9 1103.3 183.5 1109.6 184.2 1112.2 184.8 1106.7 185.4 1109.8 186.1 1105.7 186.7 1107.9 187.3 1107.2 188.0 1103.3 188.6 1101.2 189.2 1105.4 189.8 1102.2 190.5 1105.4 191.1 1109.2 191.7 1113.0 192.4 1110.1 193.0 1110.9 193.6 1105.4 194.3 1108.4 194.9 1106.1 195.5 1111.2 196.1 1108.3 196.8 1109.4 197.4 1108.9 198.0 1107.3 198.7 1108.2 199.3 1106.5 199.9 1105.3 200.6 1106.6 201.2 1107.4 201.8 1109.9 202.4 1107.0 203.1 1110.3 203.7 1103.7 204.3 1106.9 205.0 1103.7 205.6 1110.8 206.2 1104.3 206.9 1103.7 207.5 1108.3 208.1 1105.7 208.7 1105.2 209.4 1110.6 210.0 1110.5 210.6 1111.5 211.3 1107.1 211.9 1109.9 212.5 1109.5 213.2 1105.4 213.8 1109.7 214.4 1105.4 215.0 1104.8 215.7 1107.2 216.3 1110.6 216.9 1108.6 217.6 1107.2 218.2 1110.3 218.8 1110.9 219.5 1106.9 220.1 1103.1 220.7 1107.0 221.3 1108.3 222.0 1106.4 222.6 1108.0 223.2 1104.6 223.9 1108.6 224.5 1108.9 225.1 1108.8 225.8 1108.1 226.4 1108.4 227.0 1104.7 227.6 1108.7 228.3 1105.2 228.9 1106.7 229.5 1111.0 230.2 1110.0 230.8 1106.3 231.4 1107.8 232.1 1106.1 232.7 1104.9 233.3 1106.2 233.9 1106.2 234.6 1109.9 235.2 1102.1 235.8 1105.7 236.5 1106.1 237.1 1101.7 237.7 1109.3 238.4 1110.8 239.0 1104.2 239.6 1105.9 240.2 1104.8 240.9 1104.5 241.5 1101.5 242.1 1105.6 242.8 1103.2 243.4 1107.6 244.0 1106.6 244.7 1112.2 245.3 1101.7 245.9 1103.4 246.5 1101.9 247.2 1103.8 247.8 1104.6 248.4 1100.4 249.1 1100.0 249.7 1097.7 250.3 1103.1 251.0 1106.0 251.6 1105.4 252.2 1100.8 252.8 1094.8 253.5 1100.2 254.1 1097.2 254.7 1098.0 255.4 1105.6 256.0 1102.8 256.6 1104.0 257.3 1102.4 257.9 1106.4 258.5 1106.5 259.1 1099.1 259.8 1100.4 260.4 1099.5 261.0 1102.5 261.7 1101.4 262.3 1098.1 262.9 1104.4 263.6 1097.7 264.2 1095.7 264.8 1093.6 265.4 1098.8 266.1 1097.3 266.7 1095.6 267.3 1097.8 268.0 1100.2 268.6 1094.7 269.2 1098.5 269.9 1098.6 270.5 1095.5 271.1 1090.8 271.7 1094.3 272.4 1093.6 273.0 1096.9 273.6 1089.3 274.3 1089.1 274.9 1094.6 275.5 1094.7 276.2 1094.3 276.8 1096.9 277.4 1095.7 278.0 1096.8 278.7 1093.1 279.3 1093.1 279.9 1094.6 280.6 1092.1 281.2 1096.3 281.8 1093.2 282.5 1091.4 283.1 1096.7 283.7 1092.3 284.3 1095.0 285.0 1091.8 285.6 1092.7 286.2 1091.8 286.9 1094.6 287.5 1089.4 288.1 1089.1 288.8 1094.0 289.4 1092.0 290.0 1087.9 290.6 1095.2 291.3 1091.0 291.9 1092.4 292.5 1092.5 293.2 1093.5 293.8 1085.2 294.4 1086.9 295.1 1086.7 295.7 1088.0 296.3 1086.8 296.9 1085.8 297.6 1085.8 298.2 1088.8 298.8 1085.1 299.5 1085.7 300.1 1081.0 300.7 1086.3 301.4 1080.3 302.0 1089.3 302.6 1086.0 303.2 1084.6 303.9 1083.0 304.5 1087.1 305.1 1084.4 305.8 1081.7 306.4 1081.7 307.0 1080.4 307.7 1078.5 308.3 1081.2 308.9 1083.3 309.5 1085.4 310.2 1085.6 310.8 1083.0 311.4 1088.6 312.1 1086.0 312.7 1080.9 313.3 1082.7 314.0 1079.8 314.6 1076.7 315.2 1076.8 315.8 1084.1 316.5 1079.6 317.1 1078.6 317.7 1078.5 318.4 1077.7 319.0 1079.4 319.6 1081.5 320.3 1083.8 320.9 1074.9 321.5 1082.5 322.1 1081.7 322.8 1074.3 323.4 1081.7 324.0 1084.3 324.7 1082.5 325.3 1078.0 325.9 1078.5 326.6 1073.4 327.2 1079.5 327.8 1078.8 328.4 1075.5 329.1 1078.1 329.7 1075.0 330.3 1083.5 331.0 1071.1 331.6 1072.6 332.2 1069.1 332.9 1072.4 333.5 1073.6 334.1 1075.8 334.7 1075.0 335.4 1077.3 336.0 1077.7 336.6 1078.7 337.3 1074.8 337.9 1067.7 338.5 1072.4 339.2 1067.4 339.8 1074.6 340.4 1070.7 341.0 1072.0 341.7 1072.0 342.3 1070.0 342.9 1071.6 343.6 1073.8 344.2 1071.0 344.8 1073.2 345.5 1072.8 346.1 1068.5 346.7 1068.8 347.3 1071.0 348.0 1068.9 348.6 1071.2 349.2 1073.0 349.9 1071.3 350.5 1070.0 351.1 1079.3 351.8 1075.7 352.4 1070.3 353.0 1074.3 353.6 1075.6 354.3 1073.0 354.9 1068.7 355.5 1065.0 356.2 1064.5 356.8 1065.8 357.4 1071.1 358.1 1071.5 358.7 1068.7 359.3 1067.2 359.9 1071.9 360.6 1075.3 361.2 1069.3 361.8 1073.0 362.5 1071.6 363.1 1069.3 363.7 1066.1 364.4 1063.4 365.0 1065.6 365.6 1062.7 366.2 1068.9 366.9 1071.2 367.5 1070.0 368.1 1069.4 368.8 1068.2 369.4 1066.1 370.0 1072.5 370.7 1067.1 371.3 1070.2 371.9 1071.2 372.5 1067.0 373.2 1063.2 373.8 1065.1 374.4 1064.1 375.1 1065.4 375.7 1065.1 376.3 1067.1 377.0 1066.2 377.6 1064.9 378.2 1063.1 378.8 1066.0 379.5 1068.0 380.1 1070.8 380.7 1063.9 381.4 1064.7 382.0 1068.6 382.6 1061.1 383.3 1065.1 383.9 1066.7 384.5 1066.7 385.1 1064.1 385.8 1065.6 386.4 1061.0 387.0 1065.9 387.7 1060.1 388.3 1064.1 388.9 1063.7 389.6 1063.6 390.2 1065.9 390.8 1067.1 391.4 1064.3 392.1 1066.6 392.7 1064.0 393.3 1061.9 394.0 1062.9 394.6 1062.0 395.2 1059.5 395.9 1062.5 396.5 1072.5 397.1 1065.4 397.7 1063.6 398.4 1066.1 399.0 1065.2 399.6 1070.0 400.3 1060.5 400.9 1065.0 401.5 1060.0 402.2 1067.3 402.8 1063.9 403.4 1066.2 404.0 1066.3 404.7 1067.9 405.3 1058.2 405.9 1063.0 406.6 1065.2 407.2 1060.5 407.8 1065.5 408.5 1066.0 409.1 1059.8 409.7 1062.5 410.3 1064.5 411.0 1067.9 411.6 1066.4 412.2 1066.6 412.9 1063.3 413.5 1065.8 414.1 1066.2 414.8 1064.2 415.4 1063.8 416.0 1060.6 416.6 1060.4 417.3 1067.2 417.9 1061.9 418.5 1066.5 419.2 1060.0 419.8 1060.5 420.4 1057.6 421.1 1057.3 421.7 1063.1 422.3 1059.9 422.9 1053.9 423.6 1060.4 424.2 1055.8 424.8 1057.2 425.5 1057.9 426.1 1053.0 426.7 1062.3 427.4 1059.2 428.0 1057.1 428.6 1060.1 429.2 1060.3 429.9 1062.4 430.5 1064.3 431.1 1059.2 431.8 1057.9 432.4 1055.7 433.0 1061.0 433.7 1051.8 434.3 1060.7 434.9 1060.0 435.5 1058.6 436.2 1055.0 436.8 1060.8 437.4 1056.8 438.1 1053.3 438.7 1050.7 439.3 1052.7 440.0 1056.9 440.6 1049.0 441.2 1047.1 441.8 1054.2 442.5 1045.9 443.1 1049.2 443.7 1052.4 444.4 1050.2 445.0 1051.8 445.6 1047.4 446.3 1053.9 446.9 1050.5 447.5 1051.5 448.1 1052.8 448.8 1050.4 449.4 1053.0 450.0 1051.7 450.7 1051.9 451.3 1051.9 451.9 1049.2 452.6 1043.8 453.2 1052.6 453.8 1049.7 454.4 1048.2 455.1 1046.6 455.7 1050.6 456.3 1045.4 457.0 1045.3 457.6 1042.1 458.2 1049.2 458.9 1039.9 459.5 1035.6 460.1 1043.3 460.7 1041.7 461.4 1040.2 462.0 1046.9 462.6 1044.2 463.3 1047.3 463.9 1044.9 464.5 1049.5 465.2 1049.9 465.8 1046.6 466.4 1048.9 467.0 1049.9 467.7 1044.5 468.3 1036.3 468.9 1038.6 469.6 1038.4 470.2 1042.6 470.8 1040.6 471.5 1045.3 472.1 1041.5 472.7 1042.6 473.3 1040.5 474.0 1040.1 474.6 1038.7 475.2 1041.2 475.9 1037.1 476.5 1034.9 477.1 1038.6 477.8 1037.6 478.4 1036.3 479.0 1037.3 479.6 1036.7 480.3 1038.7 480.9 1029.8 481.5 1038.7 482.2 1027.3 482.8 1029.7 483.4 1035.4 484.1 1030.8 484.7 1031.8 485.3 1028.9 485.9 1024.8 486.6 1022.5 487.2 1024.7 487.8 1025.7 488.5 1027.4 489.1 1025.4 489.7 1025.7 490.4 1030.2 491.0 1020.3 491.6 1025.8 492.2 1030.4 492.9 1029.7 493.5 1028.0 494.1 1030.5 494.8 1030.8 495.4 1027.5 496.0 1018.4 496.7 1023.3 497.3 1021.1 497.9 1024.2 498.5 1017.0 499.2 1019.5 499.8 1022.7 500.4 1017.5 501.1 1018.9 501.7 1019.4 502.3 1015.5 503.0 1013.8 503.6 1008.8 504.2 1012.0 504.8 1016.3 505.5 1019.7 506.1 1014.2 506.7 1013.8 507.4 1013.4 508.0 1015.4 508.6 1009.6 509.3 1015.7 509.9 1014.9 510.5 1015.5 511.1 1014.6 511.8 1016.0 512.4 1018.9 513.0 1012.3 513.7 1012.0 514.3 1003.9 514.9 1012.3 515.6 1006.2 516.2 1007.3 516.8 1004.4 517.4 1001.6 518.1 1001.3 518.7 1001.2 519.3 1012.0 520.0 1009.6 520.6 1010.0 521.2 1010.9 521.9 1008.5 522.5 1008.5 523.1 1010.5 523.7 1014.7 524.4 1002.1 525.0 1003.9 525.6 1001.0 526.3 999.8 526.9 991.3 527.5 995.2 528.2 1003.7 528.8 996.6 529.4 1001.3 530.0 997.1 530.7 999.1 531.3 991.8 531.9 996.2 532.6 992.6 533.2 996.7 533.8 988.8 534.5 996.1 535.1 992.0 535.7 993.7 536.3 998.4 537.0 993.7 537.6 990.8 538.2 991.7 538.9 992.9 539.5 988.7 540.1 994.4 540.8 989.4 541.4 986.7 542.0 985.9 542.6 986.8 543.3 988.0 543.9 990.1 544.5 988.3 545.2 984.0 545.8 986.2 546.4 978.3 547.1 987.0 547.7 983.3 548.3 980.4 548.9 980.7 549.6 976.7 550.2 983.8 550.8 977.9 551.5 976.6 552.1 983.3 552.7 974.1 553.4 976.6 554.0 972.7 554.6 973.2 555.2 974.5 555.9 970.8 556.5 977.5 557.1 976.9 557.8 972.1 558.4 978.8 559.0 972.4 559.7 971.2 560.3 971.9 560.9 965.7 561.5 972.3 562.2 966.9 562.8 965.5 563.4 973.1 564.1 967.3 564.7 967.0 565.3 963.8 566.0 964.4 566.6 962.8 567.2 954.2 567.8 961.2 568.5 955.8 569.1 961.4 569.7 963.9 570.4 959.9 571.0 960.5 571.6 962.7 572.3 960.4 572.9 951.4 573.5 951.0 574.1 951.9 574.8 948.1 575.4 951.2 576.0 952.7 576.7 948.5 577.3 951.8 577.9 954.6 578.6 952.2 579.2 952.9 579.8 950.7 580.4 948.4 581.1 947.6 581.7 944.5 582.3 946.4 583.0 947.7 583.6 945.8 584.2 943.4 584.9 937.4 585.5 940.9 586.1 942.4 586.7 940.1 587.4 939.2 588.0 935.3 588.6 933.4 589.3 935.4 589.9 937.9 590.5 933.1 591.2 928.2 591.8 930.1 592.4 931.0 593.0 935.6 593.7 933.9 594.3 928.3 594.9 926.4 595.6 927.3 596.2 926.5 596.8 923.5 597.5 929.9 598.1 927.3 598.7 928.0 599.3 925.7 600.0 928.0 600.6 923.9 601.2 923.7 601.9 924.4 602.5 920.8 603.1 921.8 603.8 912.0 604.4 914.2 605.0 912.0 605.6 911.0 606.3 913.0 606.9 919.9 607.5 914.7 608.2 917.2 608.8 906.6 609.4 912.1 610.1 905.5 610.7 907.8 611.3 908.4 611.9 903.7 612.6 910.8 613.2 904.8 613.8 905.4 614.5 904.4 615.1 906.9 615.7 905.8 616.4 900.0 617.0 906.8 617.6 905.3 618.2 911.2 618.9 898.5 619.5 904.0 620.1 905.0 620.8 906.6 621.4 898.1 622.0 897.9 622.7 903.4 623.3 899.0 623.9 899.5 624.5 898.6 625.2 895.7 625.8 901.3 626.4 889.7 627.1 890.2 627.7 899.0 628.3 897.8 629.0 897.7 629.6 893.4 630.2 892.0 630.8 888.4 631.5 886.1 632.1 886.1 632.7 886.6 633.4 889.9 634.0 886.4 634.6 890.6 635.3 887.0 635.9 884.8 636.5 880.4 637.1 885.2 637.8 879.9 638.4 878.5 639.0 877.9 639.7 877.4 640.3 878.4 640.9 868.9 641.6 885.0 642.2 881.0 642.8 877.6 643.4 877.7 644.1 881.4 644.7 874.9 645.3 879.0 646.0 872.9 646.6 871.0 647.2 870.2 647.9 878.3 648.5 884.1 649.1 876.5 649.7 881.9 650.4 877.7 651.0 873.2 651.6 876.1 652.3 864.8 652.9 865.5 653.5 872.4 654.2 872.1 654.8 870.4 655.4 869.8 656.0 862.8 656.7 867.8 657.3 861.0 657.9 870.6 658.6 867.5 659.2 863.2 659.8 870.7 660.5 867.9 661.1 868.3 661.7 863.2 662.3 859.0 663.0 863.0 663.6 857.9 664.2 856.1 664.9 857.5 665.5 858.7 666.1 856.4 666.8 855.5 667.4 861.2 668.0 854.2 668.6 858.9 669.3 858.2 669.9 852.5 670.5 853.0 671.2 855.9 671.8 851.0 672.4 849.3 673.1 858.2 673.7 854.0 674.3 854.7 674.9 859.1 675.6 846.0 676.2 847.5 676.8 844.4 677.5 851.1 678.1 844.6 678.7 855.4 679.4 850.4 680.0 850.3 680.6 851.1 681.2 846.0 681.9 844.6 682.5 843.0 683.1 842.5 683.8 837.3 684.4 834.1 685.0 825.3 685.7 820.7 686.3 818.5 686.9 822.1 687.5 828.8 688.2 835.6 688.8 835.9 689.4 835.9 690.1 841.8 690.7 841.7 691.3 839.5 692.0 832.9 692.6 835.7 693.2 834.6 693.8 838.8 694.5 838.1 695.1 836.1 695.7 833.5 696.4 840.2 697.0 835.2 697.6 837.9 698.3 838.6 698.9 839.1 699.5 839.2 700.1 834.4 700.8 832.8 701.4 834.2 702.0 823.9 702.7 834.4 703.3 830.4 703.9 833.8 704.6 834.3 705.2 831.1 705.8 826.7 706.4 831.3 707.1 833.3 707.7 830.9 708.3 831.0 709.0 827.9 709.6 831.6 710.2 819.9 710.9 829.5 711.5 831.8 712.1 832.5 712.7 830.3 713.4 836.4 714.0 830.8 714.6 825.2 715.3 832.0 715.9 823.6 716.5 828.8 717.2 828.7 717.8 828.4 718.4 827.9 719.0 826.1 719.7 828.6 720.3 824.1 720.9 817.7 721.6 824.5 722.2 828.2 722.8 828.9 723.5 828.0 724.1 827.0 724.7 822.1 725.3 831.3 726.0 825.4 726.6 822.1 727.2 817.5 727.9 832.0 728.5 824.4 729.1 816.9 729.8 826.5 730.4 825.0 731.0 815.8 731.6 824.2 732.3 821.1 732.9 824.7 733.5 826.7 734.2 822.8 734.8 829.7 735.4 822.4 736.1 817.5 736.7 822.3 737.3 816.1 737.9 818.6 738.6 820.5 739.2 816.2 739.8 815.0 740.5 817.7 741.1 816.6 741.7 816.1 742.4 819.8 743.0 815.0 743.6 821.0 744.2 815.0 744.9 820.8 745.5 816.3 746.1 819.9 746.8 817.7 747.4 815.0 748.0 815.3 748.7 815.0 749.3 818.0 749.9 815.0 750.5 817.5 751.2 815.0 751.8 815.0 752.4 815.6 753.1 815.0 753.7 816.8 754.3 815.8 755.0 815.2 755.6 815.0 756.2 815.0 756.8 818.0 757.5 815.9 758.1 815.0 758.7 815.0 759.4 815.0 760.0 816.1 760.6 819.3 761.3 815.0 761.9 815.0 762.5 815.0 763.1 815.0 763.8 819.1 764.4 815.0 765.0 819.0 765.7 815.0 766.3 815.0 766.9 815.0 767.6 815.0 768.2 816.5 768.8 815.0 769.4 816.5 770.1 815.0 770.7 819.2 771.3 815.0 772.0 815.0 772.6 815.0 773.2 815.0 773.9 815.0 774.5 815.0 775.1 823.1 775.7 817.2 776.4 818.0 777.0 818.9 777.6 821.7 778.3 820.2 778.9 818.3 779.5 818.1 780.2 815.0 780.8 815.0 781.4 817.1 782.0 815.7 782.7 815.0 783.3 815.2 783.9 823.4 784.6 821.8 785.2 816.2 785.8 825.2 786.5 825.6 787.1 827.0 787.7 826.1 788.3 828.7 789.0 834.0 789.6 824.2 790.2 824.1 790.9 826.7 791.5 821.4 792.1 827.8 792.8 826.0 793.4 828.2 794.0 826.6 794.6 830.9 795.3 823.3 795.9 824.6 796.5 827.2 797.2 831.6 797.8 825.9 798.4 826.7 799.1 825.3 799.7 828.2 800.3 824.4 800.9 825.9 801.6 826.7 802.2 827.4 802.8 831.8 803.5 829.8 804.1 829.3 804.7 834.2 805.4 836.4 806.0 836.3 806.6 830.1 807.2 840.5 807.9 833.9 808.5 833.7 809.1 832.1 809.8 836.6 810.4 839.0 811.0 833.8 811.7 833.4 812.3 834.4 812.9 842.3 813.5 837.7 814.2 835.8 814.8 837.5 815.4 835.3 816.1 833.8 816.7 833.8 817.3 835.0 818.0 833.9 818.6 841.4 819.2 845.8 819.8 840.9 820.5 836.2 821.1 836.0 821.7 837.3 822.4 834.9 823.0 838.5 823.6 844.0 824.3 842.8 824.9 846.3 825.5 846.2 826.1 839.8 826.8 845.0 827.4 844.3 828.0 849.1 828.7 840.9 829.3 845.8 829.9 849.2 830.6 854.3 831.2 848.8 831.8 843.9 832.4 847.3 833.1 852.4 833.7 844.0 834.3 848.4 835.0 851.2 835.6 847.6 836.2 849.6 836.9 853.6 837.5 851.3 838.1 847.6 838.7 857.8 839.4 855.7 840.0 850.0 840.6 854.2 841.3 849.6 841.9 858.5 842.5 853.9 843.2 856.9 843.8 856.0 844.4 861.3 845.0 859.2 845.7 859.4 846.3 864.4 846.9 865.2 847.6 858.7 848.2 859.6 848.8 855.2 849.5 863.5 850.1 859.1 850.7 867.3 851.3 867.6 852.0 864.5 852.6 864.4 853.2 859.5 853.9 861.4 854.5 858.7 855.1 861.9 855.8 862.0 856.4 873.5 857.0 867.1 857.6 869.0 858.3 863.4 858.9 871.3 859.5 864.1 860.2 864.5 860.8 864.4 861.4 862.6 862.1 860.5 862.7 867.6 863.3 866.6 863.9 869.1 864.6 876.8 865.2 870.5 865.8 877.8 866.5 871.9 867.1 869.5 867.7 875.0 868.4 877.7 869.0 877.0 869.6 871.5 870.2 869.3 870.9 877.2 871.5 880.4 872.1 880.8 872.8 877.7 873.4 878.4 874.0 880.5 874.7 884.7 875.3 884.6 875.9 883.6 876.5 884.4 877.2 877.3 877.8 880.5 878.4 882.9 879.1 875.3 879.7 886.7 880.3 878.3 881.0 885.0 881.6 886.3 882.2 889.4 882.8 882.3 883.5 885.0 884.1 890.3 884.7 889.7 885.4 895.4 886.0 886.7 886.6 898.3 887.3 900.1 887.9 899.3 888.5 893.2 889.1 895.8 889.8 897.9 890.4 897.5 891.0 893.9 891.7 901.0 892.3 902.6 892.9 897.6 893.6 901.0 894.2 893.9 894.8 898.7 895.4 902.0 896.1 898.6 896.7 898.4 897.3 900.9 898.0 900.5 898.6 898.0 899.2 897.7 899.9 899.9 900.5 902.9 901.1 904.3 901.7 903.1 902.4 907.7 903.0 911.5 903.6 906.4 904.3 913.5 904.9 909.8 905.5 909.2 906.2 909.2 906.8 906.8 907.4 906.1 908.0 910.0 908.7 913.6 909.3 908.3 909.9 913.8 910.6 911.6 911.2 911.6 911.8 914.0 912.5 916.0 913.1 918.1 913.7 918.1 914.3 921.4 915.0 923.4 915.6 917.8 916.2 922.1 916.9 919.7 917.5 921.0 918.1 918.4 918.8 923.1 919.4 924.2 920.0 923.8 920.6 918.5 921.3 924.0 921.9 919.4 922.5 918.1 923.2 925.9 923.8 925.7 924.4 920.8 925.1 923.6 925.7 926.8 926.3 929.6 926.9 927.3 927.6 928.1 928.2 927.3 928.8 927.4 929.5 931.9 930.1 930.7 930.7 934.4 931.4 931.0 932.0 935.0 932.6 933.1 933.2 934.4 933.9 935.5 934.5 936.6 935.1 942.8 935.8 935.4 936.4 937.2 937.0 936.9 937.7 939.3 938.3 935.7 938.9 943.2 939.5 935.1 940.2 937.0 940.8 937.4 941.4 936.6 942.1 936.9 942.7 942.8 943.3 946.9 944.0 943.5 944.6 948.8 945.2 947.5 945.8 953.9 946.5 947.9 947.1 952.3 947.7 948.8 948.4 950.6 949.0 949.6 949.6 947.3 950.3 944.5 950.9 948.2 951.5 943.6 952.1 946.8 952.8 946.0 953.4 951.5 954.0 945.1 954.7 946.8 955.3 953.0 955.9 954.3 956.6 949.6 957.2 945.2 957.8 956.8 958.4 954.9 959.1 953.9 959.7 960.2 960.3 960.8 961.0 954.8 961.6 954.5 962.2 959.1 962.9 959.8 963.5 964.7 964.1 962.2 964.7 968.1 965.4 961.3 966.0 960.2 966.6 959.6 967.3 960.0 967.9 963.2 968.5 962.1 969.2 967.2 969.8 969.2 970.4 969.4 971.0 961.4 971.7 963.6 972.3 963.5 972.9 965.1 973.6 966.1 974.2 972.1 974.8 971.9 975.5 969.6 976.1 965.9 976.7 970.1 977.3 964.5 978.0 959.7 978.6 966.4 979.2 970.7 979.9 967.9 980.5 964.9 981.1 969.3 981.8 977.6 982.4 975.0 983.0 974.1 983.6 971.6 984.3 977.1 984.9 975.8 985.5 983.8 986.2 981.4 986.8 984.5 987.4 976.8 988.1 981.0 988.7 981.9 989.3 985.2 989.9 983.8 990.6 977.5 991.2 986.1 991.8 980.4 992.5 981.2 993.1 980.8 993.7 979.2 994.4 982.4 995.0 980.1 995.6 980.7 996.2 980.2 996.9 981.5 997.5 984.1 998.1 976.7 998.8 979.3 999.4 984.9 1000.0 984.4 1000.7 986.1 1001.3 982.0 1001.9 983.4 1002.5 982.2 1003.2 980.9 1003.8 984.5 1004.4 986.6 1005.1 988.7 1005.7 984.4 1006.3 990.7 1007.0 991.8 1007.6 990.4 1008.2 988.7 1008.8 988.1 1009.5 993.5 1010.1 989.5 1010.7 996.4 1011.4 988.9 1012.0 989.1 1012.6 995.8 1013.3 992.1 1013.9 998.0 1014.5 994.2 1015.1 993.3 1015.8 996.6 1016.4 1001.5 1017.0 1002.4 1017.7 1001.3 1018.3 1002.0 1018.9 1007.9 1019.6 1001.6 1020.2 999.5 1020.8 999.5 1021.4 1012.8 1022.1 1005.8 1022.7 1002.4 1023.3 1000.6 1024.0 1002.7 1024.6 996.9 1025.2 1000.7 1025.9 1005.6 1026.5 1005.3 1027.1 1004.3 1027.7 1006.7 1028.4 1006.1 1029.0 1011.6 1029.6 1009.1 1030.3 1006.5 1030.9 1011.8 1031.5 1006.6 1032.2 1008.5 1032.8 1009.0 1033.4 1008.6 1034.0 1008.8 1034.7 1011.4 1035.3 1017.6 1035.9 1009.1 1036.6 1012.4 1037.2 1015.3 1037.8 1011.5 1038.5 1010.8 1039.1 1016.7 1039.7 1013.3 1040.3 1012.4 1041.0 1013.5 1041.6 1014.3 1042.2 1015.8 1042.9 1014.8 1043.5 1018.4 1044.1 1016.9 1044.8 1017.9 1045.4 1013.4 1046.0 1018.5 1046.6 1016.1 1047.3 1022.3 1047.9 1019.8 1048.5 1022.6 1049.2 1019.4 1049.8 1018.9 1050.4 1024.9 1051.1 1024.9 1051.7 1022.8 1052.3 1026.3 1052.9 1023.8 1053.6 1029.8 1054.2 1023.7 1054.8 1025.2 1055.5 1025.1 1056.1 1028.7 1056.7 1026.9 1057.4 1028.3 1058.0 1027.4 1058.6 1022.4 1059.2 1024.4 1059.9 1021.2 1060.5 1021.8 1061.1 1026.6 1061.8 1022.7 1062.4 1026.8 1063.0 1029.9 1063.7 1025.5 1064.3 1028.7 1064.9 1024.8 1065.5 1029.5 1066.2 1024.4 1066.8 1029.8 1067.4 1029.7 1068.1 1034.3 1068.7 1034.9 1069.3 1023.1 1070.0 1028.9 1070.6 1029.0 1071.2 1035.0 1071.8 1034.6 1072.5 1030.5 1073.1 1032.5 1073.7 1034.0 1074.4 1031.2 1075.0 1034.0 1075.6 1036.9 1076.3 1037.9 1076.9 1030.8 1077.5 1035.7 1078.1 1030.8 1078.8 1037.2 1079.4 1034.8 1080.0 1040.9 1080.7 1040.3 1081.3 1032.3 1081.9 1040.9 1082.6 1034.8 1083.2 1038.4 1083.8 1036.1 1084.4 1035.6 1085.1 1036.0 1085.7 1037.9 1086.3 1045.5 1087.0 1042.7 1087.6 1040.7 1088.2 1045.6 1088.9 1041.7 1089.5 1042.5 1090.1 1040.2 1090.7 1043.6 1091.4 1040.3 1092.0 1039.9 1092.6 1044.6 1093.3 1049.0 1093.9 1045.9 1094.5 1046.4 1095.2 1055.7 1095.8 1048.9 1096.4 1040.2 1097.0 1048.8 1097.7 1046.5 1098.3 1044.4 1098.9 1051.6 1099.6 1050.3 1100.2 1047.6 1100.8 1046.0 1101.5 1049.1 1102.1 1050.9 1102.7 1048.8 1103.3 1056.9 1104.0 1054.0 1104.6 1051.5 1105.2 1055.0 1105.9 1050.3 1106.5 1052.4 1107.1 1051.9 1107.8 1045.3 1108.4 1052.8 1109.0 1052.5 1109.6 1053.6 1110.3 1058.1 1110.9 1055.4 1111.5 1057.7 1112.2 1059.1 1112.8 1059.7 1113.4 1053.1 1114.1 1055.3 1114.7 1057.8 1115.3 1062.0 1115.9 1054.7 1116.6 1057.7 1117.2 1057.0 1117.8 1051.4 1118.5 1052.6 1119.1 1056.9 1119.7 1058.7 1120.4 1059.7 1121.0 1055.2 1121.6 1051.6 1122.2 1054.6 1122.9 1051.9 1123.5 1059.3 1124.1 1056.8 1124.8 1058.4 1125.4 1065.6 1126.0 1062.3 1126.7 1058.3 1127.3 1061.4 1127.9 1059.7 1128.5 1057.7 1129.2 1057.4 1129.8 1056.7 1130.4 1063.2 1131.1 1058.6 1131.7 1060.9 1132.3 1066.3 1133.0 1063.4 1133.6 1061.9 1134.2 1063.7 1134.8 1061.4 1135.5 1062.5 1136.1 1063.5 1136.7 1068.1 1137.4 1066.0 1138.0 1063.8 1138.6 1066.2 1139.3 1060.8 1139.9 1065.0 1140.5 1067.0 1141.1 1071.4 1141.8 1066.2 1142.4 1069.5 1143.0 1061.1 1143.7 1070.6 1144.3 1069.6 1144.9 1073.0 1145.6 1068.6 1146.2 1071.9 1146.8 1070.6 1147.4 1068.4 1148.1 1070.1 1148.7 1073.8 1149.3 1066.8 1150.0 1069.3 1150.6 1071.5 1151.2 1073.4 1151.9 1067.7 1152.5 1067.8 1153.1 1068.8 1153.7 1073.8 1154.4 1073.2 1155.0 1074.0 1155.6 1073.8 1156.3 1067.7 1156.9 1077.4 1157.5 1076.2 1158.2 1071.0 1158.8 1072.7 1159.4 1074.6 1160.0 1074.3 1160.7 1083.8 1161.3 1081.5 1161.9 1077.3 1162.6 1083.9 1163.2 1079.5 1163.8 1076.2 1164.5 1074.1 1165.1 1071.7 1165.7 1071.9 1166.3 1083.5 1167.0 1070.3 1167.6 1071.5 1168.2 1077.2 1168.9 1077.6 1169.5 1075.5 1170.1 1086.0 1170.8 1078.4 1171.4 1079.3 1172.0 1080.4 1172.6 1081.6 1173.3 1083.4 1173.9 1083.9 1174.5 1081.9 1175.2 1080.6 1175.8 1085.5 1176.4 1080.2 1177.1 1081.4 1177.7 1085.3 1178.3 1087.3 1178.9 1084.9 1179.6 1083.6 1180.2 1082.7 1180.8 1080.0 1181.5 1080.8 1182.1 1083.4 1182.7 1084.6 1183.4 1077.2 1184.0 1087.6 1184.6 1087.5 1185.2 1081.2 1185.9 1087.8 1186.5 1080.5 1187.1 1089.8 1187.8 1082.7 1188.4 1086.7 1189.0 1087.6 1189.7 1090.2 1190.3 1083.1 1190.9 1092.9 1191.5 1088.8 1192.2 1087.3 1192.8 1088.8 1193.4 1085.5 1194.1 1089.2 1194.7 1089.3 1195.3 1090.6 1196.0 1083.1 1196.6 1086.4 1197.2 1082.9 1197.8 1089.4 1198.5 1087.1 1199.1 1089.5 1199.7 1094.4 1200.4 1093.2 1201.0 1096.8 1201.6 1090.8 1202.3 1090.0 1202.9 1093.4 1203.5 1086.5 1204.1 1087.3 1204.8 1089.3 1205.4 1085.5 1206.0 1090.9 1206.7 1088.0 1207.3 1093.3 1207.9 1089.5 1208.6 1094.1 1209.2 1084.6 1209.8 1091.7 1210.4 1082.9 1211.1 1090.5 1211.7 1087.5 1212.3 1085.5 1213.0 1091.5 1213.6 1090.0 1214.2 1091.9 1214.9 1091.2 1215.5 1090.2 1216.1 1085.4 1216.7 1088.9 1217.4 1084.8 1218.0 1086.3 1218.6 1089.0 1219.3 1091.8 1219.9 1087.3 1220.5 1086.2 1221.2 1089.0 1221.8 1089.5 1222.4 1084.4 1223.0 1095.6 1223.7 1086.6 1224.3 1084.0 1224.9 1088.4 1225.6 1091.7 1226.2 1090.5 1226.8 1088.9 1227.5 1089.5 1228.1 1091.3 1228.7 1087.7 1229.3 1085.6 1230.0 1088.7 1230.6 1089.9 1231.2 1085.6 1231.9 1094.8 1232.5 1092.8 1233.1 1094.0 1233.8 1092.1 1234.4 1085.9 1235.0 1094.4 1235.6 1083.4 1236.3 1086.3 1236.9 1091.2 1237.5 1090.6 1238.2 1094.7 1238.8 1096.0 1239.4 1093.1 1240.1 1097.5 1240.7 1086.8 1241.3 1091.2 1241.9 1091.0 1242.6 1093.5 1243.2 1090.2 1243.8 1085.2 1244.5 1091.8 1245.1 1090.6 1245.7 1091.9 1246.4 1092.3 1247.0 1094.5 1247.6 1090.2 1248.2 1092.9 1248.9 1094.9 1249.5 1095.7 1250.1 1094.0 1250.8 1088.2 1251.4 1093.6 1252.0 1094.7 1252.7 1089.3 1253.3 1091.9 1253.9 1088.2 1254.5 1090.1 1255.2 1088.0 1255.8 1086.5 1256.4 1089.4 1257.1 1090.1 1257.7 1085.2 1258.3 1088.8 1259.0 1086.1 1259.6 1085.7 1260.2 1092.2 1260.8 1087.2 1261.5 1088.2 1262.1 1083.2 1262.7 1086.5 1263.4 1084.0 1264.0 1088.9 1264.6 1088.0 1265.3 1091.9 1265.9 1095.1 1266.5 1085.7 1267.1 1090.5 1267.8 1090.1 1268.4 1090.5 1269.0 1089.0 1269.7 1089.5 1270.3 1090.9 1270.9 1091.9 1271.6 1090.7 1272.2 1087.6 1272.8 1091.8 1273.4 1091.6 1274.1 1092.4 1274.7 1094.6 1275.3 1094.2 1276.0 1093.5 1276.6 1089.0 1277.2 1086.7 1277.9 1088.2 1278.5 1093.4 1279.1 1093.3 1279.7 1091.6 1280.4 1095.0 1281.0 1091.9 1281.6 1094.3 1282.3 1087.7 1282.9 1090.9 1283.5 1091.9 1284.2 1092.9 1284.8 1094.5 1285.4 1091.3 1286.0 1092.9 1286.7 1093.5 1287.3 1091.1 1287.9 1093.9 1288.6 1091.3 1289.2 1091.5 1289.8 1088.2 1290.5 1089.1 1291.1 1090.5 1291.7 1094.0 1292.3 1091.1 1293.0 1089.1 1293.6 1092.7 1294.2 1098.8 1294.9 1093.1 1295.5 1090.0 1296.1 1090.7 1296.8 1094.8 1297.4 1096.2 1298.0 1094.0 1298.6 1098.3 1299.3 1095.6 1299.9 1089.3 1300.5 1093.3 1301.2 1088.3 1301.8 1092.8 1302.4 1092.4 1303.1 1088.6 1303.7 1090.1 1304.3 1094.1 1304.9 1095.0 1305.6 1096.8 1306.2 1094.5 1306.8 1097.6 1307.5 1096.0 1308.1 1093.1 1308.7 1090.8 1309.4 1096.6 1310.0 1096.7 1310.6 1096.0 1311.2 1091.9 1311.9 1096.4 1312.5 1088.8 1313.1 1091.3 1313.8 1091.3 1314.4 1092.0 1315.0 1082.2 1315.7 1096.0 1316.3 1091.4 1316.9 1090.0 1317.5 1090.6 1318.2 1091.7 1318.8 1089.5 1319.4 1095.5 1320.1 1093.0 1320.7 1092.6 1321.3 1087.5 1322.0 1089.8 1322.6 1087.6 1323.2 1093.7 1323.8 1088.2 1324.5 1085.1 1325.1 1093.5 1325.7 1096.4 1326.4 1097.2 1327.0 1095.8 1327.6 1090.7 1328.3 1091.4 1328.9 1087.7 1329.5 1092.8 1330.1 1095.9 1330.8 1091.1 1331.4 1091.2 1332.0 1089.9 1332.7 1092.6 1333.3 1093.6 1333.9 1091.6 1334.6 1087.5 1335.2 1091.3 1335.8 1094.7 1336.4 1098.1 1337.1 1096.6 1337.7 1088.6 1338.3 1094.0 1339.0 1090.1 1339.6 1086.0 1340.2 1088.0 1340.9 1088.8 1341.5 1088.1 1342.1 1087.1 1342.7 1088.8 1343.4 1090.8 1344.0 1092.3 1344.6 1092.4 1345.3 1087.6 1345.9 1093.1 1346.5 1086.3 1347.2 1091.4 1347.8 1090.8 1348.4 1080.8 1349.0 1086.0 1349.7 1087.4 1350.3 1088.2 1350.9 1088.5 1351.6 1090.9 1352.2 1088.9 1352.8 1091.9 1353.5 1095.6 1354.1 1102.8 1354.7 1091.8 1355.3 1091.5 1356.0 1091.4 1356.6 1088.0 1357.2 1092.8 1357.9 1093.5 1358.5 1099.3 1359.1 1091.8 1359.8 1094.7 1360.4 1091.6 1361.0 1092.5 1361.6 1090.9 1362.3 1090.2 1362.9 1090.7 1363.5 1091.1 1364.2 1093.8 1364.8 1091.7 1365.4 1095.4 1366.1 1092.6 1366.7 1095.8 1367.3 1093.3 1367.9 1093.9 1368.6 1097.6 1369.2 1092.6 1369.8 1096.7 1370.5 1096.1 1371.1 1095.2 1371.7 1092.6 1372.4 1087.1 1373.0 1093.5 1373.6 1094.7 1374.2 1096.8 1374.9 1097.6 1375.5 1093.7 1376.1 1100.3 1376.8 1093.4 1377.4 1095.3 1378.0 1098.5 1378.7 1095.3 1379.3 1089.3 1379.9 1093.4 1380.5 1096.0 1381.2 1094.3 1381.8 1091.9 1382.4 1088.2 1383.1 1089.2 1383.7 1092.4 1384.3 1095.8 1385.0 1099.6 1385.6 1100.8 1386.2 1093.8 1386.8 1096.9 1387.5 1094.9 1388.1 1096.9 1388.7 1099.3 1389.4 1099.2 1390.0 1096.3 1390.6 1102.4 1391.3 1093.8 1391.9 1093.9 1392.5 1093.6 1393.1 1099.5 1393.8 1097.5 1394.4 1094.0 1395.0 1095.2 1395.7 1092.7 1396.3 1097.1 1396.9 1096.2 1397.6 1090.3 1398.2 1097.7 1398.8 1100.6 1399.4 1093.3 1400.1 1097.2 1400.7 1095.8 1401.3 1095.9 1402.0 1091.6 1402.6 1099.6 1403.2 1097.3 1403.9 1099.4 1404.5 1100.9 1405.1 1096.0 1405.7 1092.6 1406.4 1090.9 1407.0 1098.8 1407.6 1096.5 1408.3 1097.1 1408.9 1097.2 1409.5 1097.6 1410.2 1097.2 1410.8 1098.2 1411.4 1095.7 1412.0 1095.7 1412.7 1097.6 1413.3 1100.7 1413.9 1091.2 1414.6 1099.0 1415.2 1098.5 1415.8 1095.7 1416.5 1099.9 1417.1 1105.7 1417.7 1096.3 1418.3 1098.7 1419.0 1095.7 1419.6 1102.5 1420.2 1099.3 1420.9 1097.6 1421.5 1095.5 1422.1 1099.4 1422.8 1098.1 1423.4 1094.2 1424.0 1093.3 1424.6 1099.7 1425.3 1101.3 1425.9 1100.8 1426.5 1105.1 1427.2 1099.5 1427.8 1097.6 1428.4 1100.3 1429.1 1094.2 1429.7 1095.7 1430.3 1099.2 1430.9 1098.6 1431.6 1105.5 1432.2 1105.2 1432.8 1103.2 1433.5 1101.6 1434.1 1104.9 1434.7 1104.7 1435.4 1101.3 1436.0 1098.5 1436.6 1101.5 1437.2 1100.2 1437.9 1096.2 1438.5 1100.3 1439.1 1102.9 1439.8 1101.9 1440.4 1101.3 1441.0 1099.0 1441.7 1097.6 1442.3 1096.5 1442.9 1100.5 1443.5 1099.6 1444.2 1100.3 1444.8 1100.9 1445.4 1103.1 1446.1 1103.9 1446.7 1102.2 1447.3 1099.3 1448.0 1100.2 1448.6 1098.1 1449.2 1096.8 1449.8 1104.1 1450.5 1101.9 1451.1 1104.8 1451.7 1095.8 1452.4 1097.0 1453.0 1104.0 1453.6 1103.6 1454.3 1101.7 1454.9 1105.2 1455.5 1103.1 1456.1 1098.5 1456.8 1099.0 1457.4 1098.0 1458.0 1099.7 1458.7 1103.5 1459.3 1100.1 1459.9 1105.2 1460.6 1102.5 1461.2 1101.8 1461.8 1096.8 1462.4 1099.9 1463.1 1103.0 1463.7 1098.3 1464.3 1103.6 1465.0 1107.4 1465.6 1105.8 1466.2 1101.3 1466.9 1104.7 1467.5 1099.8 1468.1 1103.9 1468.7 1098.9 1469.4 1097.8 1470.0 1100.3 1470.6 1099.3 1471.3 1104.5 1471.9 1105.0 1472.5 1105.8 1473.2 1098.8 1473.8 1102.8 1474.4 1104.4 1475.0 1103.5 1475.7 1101.8 1476.3 1101.4 1476.9 1107.1 1477.6 1103.0 1478.2 1099.8 1478.8 1101.0 1479.5 1103.8 1480.1 1102.4 1480.7 1101.1 1481.3 1104.5 1482.0 1102.8 1482.6 1104.6 1483.2 1101.0 1483.9 1101.5 1484.5 1104.9 1485.1 1104.1 1485.8 1102.4 1486.4 1103.5 1487.0 1096.6 1487.6 1104.7 1488.3 1106.7 1488.9 1104.8 1489.5 1104.3 1490.2 1099.9 1490.8 1104.5 1491.4 1101.3 1492.1 1101.8 1492.7 1103.7 1493.3 1104.2 1493.9 1101.6 1494.6 1100.2 1495.2 1102.8 1495.8 1106.4 1496.5 1101.4 1497.1 1102.8 1497.7 1103.9 1498.4 1105.9 1499.0 1102.4 1499.6 1102.3 1500.2 1105.9 1500.9 1105.0 1501.5 1101.9 1502.1 1102.7 1502.8 1102.7 1503.4 1105.7 1504.0 1102.3 1504.7 1101.7 1505.3 1102.2 1505.9 1101.3 1506.5 1098.8 1507.2 1101.2 1507.8 1111.1 1508.4 1101.3 1509.1 1102.8 1509.7 1101.7 1510.3 1106.2 1511.0 1099.6 1511.6 1098.8 1512.2 1099.2 1512.8 1108.5 1513.5 1106.6 1514.1 1101.3 1514.7 1106.6 1515.4 1104.0 1516.0 1104.3 1516.6 1101.2 1517.3 1100.5 1517.9 1105.8 1518.5 1100.7 1519.1 1103.6 1519.8 1104.4 1520.4 1105.1 1521.0 1102.9 1521.7 1106.7 1522.3 1106.4 1522.9 1105.5 1523.6 1104.1 1524.2 1106.5 1524.8 1107.5 1525.4 1107.4 1526.1 1103.9 1526.7 1106.6 1527.3 1102.8 1528.0 1105.9 1528.6 1101.8 1529.2 1102.3 1529.9 1105.4 1530.5 1104.1 1531.1 1107.4 1531.7 1108.0 1532.4 1105.7 1533.0 1106.5 1533.6 1106.0 1534.3 1102.7 1534.9 1100.3 1535.5 1103.6 1536.2 1104.6 1536.8 1100.8 1537.4 1102.2 1538.0 1102.1 1538.7 1107.1 1539.3 1099.4 1539.9 1101.1 1540.6 1104.1 1541.2 1097.3 1541.8 1100.6 1542.5 1104.2 1543.1 1105.4 1543.7 1102.9 1544.3 1106.6 1545.0 1105.5 1545.6 1105.8 1546.2 1109.4 1546.9 1107.8 1547.5 1105.2 1548.1 1110.6 1548.8 1110.7 1549.4 1105.8 1550.0 1103.1 1550.6 1107.4 1551.3 1107.9 1551.9 1109.6 1552.5 1106.3 1553.2 1110.8 1553.8 1112.0 1554.4 1106.9 1555.1 1108.8 1555.7 1104.4 1556.3 1104.3 1556.9 1104.6 1557.6 1106.2 1558.2 1108.1 1558.8 1107.0 1559.5 1101.4 1560.1 1109.3 1560.7 1107.1 1561.4 1106.3 1562.0 1101.4 1562.6 1107.0 1563.2 1102.5 1563.9 1102.0 1564.5 1106.4 1565.1 1105.2 1565.8 1106.6 1566.4 1102.1 1567.0 1106.9 1567.7 1099.5 1568.3 1104.0 1568.9 1104.7 1569.5 1101.9 1570.2 1104.9 1570.8 1108.5 1571.4 1109.3 1572.1 1102.7 1572.7 1101.2 1573.3 1102.8 1574.0 1108.6 1574.6 1108.2 1575.2 1107.7 1575.8 1110.6 1576.5 1108.3 1577.1 1105.3 1577.7 1109.3 1578.4 1102.6 1579.0 1100.9 1579.6 1102.0 1580.3 1106.4 1580.9 1099.5 1581.5 1108.0 1582.1 1109.2 1582.8 1111.8 1583.4 1102.3 1584.0 1107.7 1584.7 1106.2 1585.3 1108.9 1585.9 1103.0 1586.6 1106.1 1587.2 1102.0 1587.8 1108.9 1588.4 1111.4 1589.1 1108.6 1589.7 1101.8 1590.3 1106.5 1591.0 1104.8 1591.6 1108.6 1592.2 1106.4 1592.9 1110.0 1593.5 1108.1 1594.1 1106.9 1594.7 1108.2 1595.4 1102.1 1596.0 1106.7 1596.6 1104.4 1597.3 1102.8 1597.9 1107.0 1598.5 1105.9 1599.2 1108.2 1599.8 1108.7 1600.4 1106.1 1601.0 1109.5 1601.7 1103.5 1602.3 1106.3 1602.9 1104.4 1603.6 1103.3 1604.2 1101.0 1604.8 1107.1 1605.5 1101.2 1606.1 1103.8 1606.7 1109.7 1607.3 1109.3 1608.0 1106.8 1608.6 1104.6 1609.2 1110.2 1609.9 1104.5 1610.5 1107.3 1611.1 1108.9 1611.8 1104.5 1612.4 1103.8 1613.0 1102.1 1613.6 1104.1 1614.3 1102.3 1614.9 1104.3 1615.5 1108.0 1616.2 1105.6 1616.8 1102.7 1617.4 1107.4 1618.1 1102.8 1618.7 1107.5 1619.3 1106.2 1619.9 1107.2 1620.6 1107.1 1621.2 1106.8 1621.8 1107.6 1622.5 1107.4 1623.1 1109.7 1623.7 1105.3 1624.4 1107.4 1625.0 1102.7 1625.6 1107.0 1626.2 1101.9 1626.9 1109.7 1627.5 1103.3 1628.1 1105.5 1628.8 1111.8 1629.4 1109.5 1630.0 1105.7 1630.7 1110.7 1631.3 1107.7 1631.9 1103.4 1632.5 1112.5 1633.2 1108.4 1633.8 1112.0 1634.4 1105.1 1635.1 1105.6 1635.7 1108.7 1636.3 1103.7 1637.0 1104.9 1637.6 1101.2 1638.2 1108.4 1638.8 1110.3 1639.5 1109.8 1640.1 1108.6 1640.7 1104.0 1641.4 1113.4 1642.0 1106.0 1642.6 1106.0 1643.3 1109.5 1643.9 1107.6 1644.5 1105.9 1645.1 1110.2 1645.8 1103.9 1646.4 1107.7 1647.0 1102.1 1647.7 1102.9 1648.3 1103.0 1648.9 1105.0 1649.6 1105.1 1650.2 1100.0 1650.8 1103.2 1651.4 1107.6 1652.1 1101.3 1652.7 1102.9 1653.3 1106.4 1654.0 1099.7 1654.6 1101.0 1655.2 1109.5 1655.9 1107.8 1656.5 1105.0 1657.1 1104.2 1657.7 1103.9 1658.4 1106.1 1659.0 1100.9 1659.6 1107.2 1660.3 1102.2 1660.9 1103.2 1661.5 1106.6 1662.2 1110.0 1662.8 1108.2 1663.4 1108.8 1664.0 1112.0 1664.7 1108.1 1665.3 1109.3 1665.9 1112.1 1666.6 1111.1 1667.2 1109.1 1667.8 1106.5 1668.5 1107.5 1669.1 1108.4 1669.7 1109.0 1670.3 1105.4 1671.0 1103.9 1671.6 1105.4 1672.2 1112.6 1672.9 1106.1 1673.5 1105.5 1674.1 1105.6 1674.8 1102.7 1675.4 1102.9 1676.0 1106.8 1676.6 1106.8 1677.3 1101.6 1677.9 1103.2 1678.5 1103.9 1679.2 1104.5 1679.8 1103.9 1680.4 1103.7 1681.1 1101.9 1681.7 1101.7 1682.3 1101.3 1682.9 1105.6 1683.6 1106.5 1684.2 1102.9 1684.8 1108.8 1685.5 1105.5 1686.1 1107.1 1686.7 1105.5 1687.4 1096.9 1688.0 1098.0 1688.6 1101.5 1689.2 1103.8 1689.9 1102.1 1690.5 1104.4 1691.1 1108.6 1691.8 1102.8 1692.4 1111.3 1693.0 1108.3 1693.7 1105.0 1694.3 1107.0 1694.9 1099.7 1695.5 1103.8 1696.2 1105.0 1696.8 1104.7 1697.4 1108.7 1698.1 1107.3 1698.7 1114.1 1699.3 1102.0 1700.0 1105.7 1700.6 1105.5 1701.2 1108.0 1701.8 1109.9 1702.5 1106.0 1703.1 1104.2 1703.7 1105.1 1704.4 1102.9 1705.0 1104.5 1705.6 1103.7 1706.3 1102.1 1706.9 1111.1 1707.5 1106.9 1708.1 1111.3 1708.8 1111.2 1709.4 1107.4 1710.0 1110.7" stroke="#0000ff"/>
<path d="M136.3 1382.4L136.9 1384.1 137.6 1387.6 138.2 1384.4 138.8 1388.0 139.4 1387.7 140.1 1382.5 140.7 1387.8 141.3 1383.8 142.0 1390.2 142.6 1386.5 143.2 1383.7 143.9 1386.3 144.5 1384.8 145.1 1385.7 145.7 1389.5 146.4 1385.4 147.0 1388.5 147.6 1386.0 148.3 1382.6 148.9 1379.6 149.5 1380.7 150.2 1386.3 150.8 1390.4 151.4 1395.4 152.0 1389.7 152.7 1391.0 153.3 1387.2 153.9 1387.5 154.6 1381.5 155.2 1388.8 155.8 1384.2 156.5 1385.9 157.1 1385.8 157.7 1385.0 158.3 1380.8 159.0 1389.2 159.6 1389.2 160.2 1389.3 160.9 1386.9 161.5 1385.0 162.1 1385.5 162.8 1389.1 163.4 1388.4 164.0 1385.3 164.6 1391.8 165.3 1388.7 165.9 1389.7 166.5 1391.2 167.2 1386.4 167.8 1391.8 168.4 1389.8 169.1 1384.2 169.7 1388.6 170.3 1391.3 170.9 1390.8 171.6 1389.6 172.2 1384.4 172.8 1387.1 173.5 1382.8 174.1 1387.6 174.7 1387.9 175.4 1390.6 176.0 1389.6 176.6 1383.6 177.2 1385.8 177.9 1387.9 178.5 1384.8 179.1 1381.3 179.8 1383.4 180.4 1386.2 181.0 1381.4 181.7 1382.2 182.3 1377.8 182.9 1384.0 183.5 1384.1 184.2 1383.4 184.8 1381.6 185.4 1385.3 186.1 1384.7 186.7 1384.3 187.3 1389.3 188.0 1384.8 188.6 1383.0 189.2 1388.6 189.8 1391.8 190.5 1390.4 191.1 1388.2 191.7 1393.0 192.4 1386.1 193.0 1390.0 193.6 1390.6 194.3 1385.8 194.9 1386.6 195.5 1383.1 196.1 1385.5 196.8 1389.4 197.4 1383.3 198.0 1386.7 198.7 1386.0 199.3 1385.3 199.9 1387.5 200.6 1390.7 201.2 1387.4 201.8 1388.4 202.4 1389.2 203.1 1383.3 203.7 1382.5 204.3 1377.7 205.0 1386.2 205.6 1388.4 206.2 1388.3 206.9 1391.6 207.5 1390.7 208.1 1388.4 208.7 1385.8 209.4 1382.7 210.0 1387.1 210.6 1386.5 211.3 1384.7 211.9 1383.2 212.5 1382.7 213.2 1385.2 213.8 1380.0 214.4 1384.0 215.0 1386.4 215.7 1388.1 216.3 1387.2 216.9 1385.1 217.6 1383.3 218.2 1381.5 218.8 1388.4 219.5 1387.6 220.1 1387.7 220.7 1386.1 221.3 1383.2 222.0 1389.5 222.6 1386.4 223.2 1386.6 223.9 1390.5 224.5 1382.9 225.1 1384.2 225.8 1385.9 226.4 1386.8 227.0 1381.9 227.6 1385.2 228.3 1384.0 228.9 1385.6 229.5 1387.4 230.2 1388.5 230.8 1390.7 231.4 1388.4 232.1 1390.6 232.7 1383.8 233.3 1384.9 233.9 1378.6 234.6 1378.5 235.2 1378.3 235.8 1385.5 236.5 1384.8 237.1 1382.2 237.7 1389.3 238.4 1388.5 239.0 1384.7 239.6 1384.5 240.2 1384.6 240.9 1380.8 241.5 1389.2 242.1 1383.2 242.8 1384.3 243.4 1383.0 244.0 1382.8 244.7 1382.9 245.3 1384.6 245.9 1379.5 246.5 1380.8 247.2 1378.5 247.8 1386.3 248.4 1381.3 249.1 1382.0 249.7 1386.0 250.3 1383.6 251.0 1385.5 251.6 1389.4 252.2 1388.8 252.8 1386.7 253.5 1390.8 254.1 1384.6 254.7 1381.6 255.4 1378.1 256.0 1382.6 256.6 1381.6 257.3 1378.0 257.9 1386.5 258.5 1383.6 259.1 1383.3 259.8 1377.4 260.4 1383.3 261.0 1382.6 261.7 1376.8 262.3 1382.0 262.9 1382.0 263.6 1377.1 264.2 1382.8 264.8 1388.1 265.4 1385.1 266.1 1380.4 266.7 1382.4 267.3 1387.6 268.0 1380.4 268.6 1382.2 269.2 1382.0 269.9 1381.6 270.5 1384.7 271.1 1376.5 271.7 1385.5 272.4 1383.8 273.0 1381.7 273.6 1377.5 274.3 1382.9 274.9 1379.7 275.5 1372.0 276.2 1378.8 276.8 1379.6 277.4 1380.3 278.0 1381.3 278.7 1380.0 279.3 1387.1 279.9 1384.4 280.6 1383.1 281.2 1391.3 281.8 1390.5 282.5 1384.5 283.1 1380.3 283.7 1383.3 284.3 1386.6 285.0 1380.1 285.6 1383.4 286.2 1384.5 286.9 1386.3 287.5 1384.4 288.1 1383.4 288.8 1379.4 289.4 1379.3 290.0 1382.7 290.6 1381.8 291.3 1379.0 291.9 1380.6 292.5 1385.8 293.2 1385.1 293.8 1380.6 294.4 1378.2 295.1 1382.7 295.7 1383.6 296.3 1383.0 296.9 1384.1 297.6 1379.3 298.2 1383.2 298.8 1384.2 299.5 1384.0 300.1 1391.4 300.7 1384.1 301.4 1383.5 302.0 1381.6 302.6 1383.8 303.2 1386.1 303.9 1381.6 304.5 1381.6 305.1 1380.7 305.8 1380.0 306.4 1381.3 307.0 1382.5 307.7 1382.7 308.3 1380.0 308.9 1376.3 309.5 1382.6 310.2 1384.2 310.8 1389.7 311.4 1386.2 312.1 1381.8 312.7 1379.6 313.3 1381.8 314.0 1381.0 314.6 1382.4 315.2 1380.2 315.8 1383.5 316.5 1386.4 317.1 1385.5 317.7 1383.9 318.4 1382.2 319.0 1375.0 319.6 1379.7 320.3 1381.3 320.9 1387.3 321.5 1387.6 322.1 1384.7 322.8 1386.3 323.4 1384.5 324.0 1383.3 324.7 1378.7 325.3 1379.0 325.9 1382.8 326.6 1379.5 327.2 1383.3 327.8 1383.9 328.4 1385.2 329.1 1384.7 329.7 1382.6 330.3 1383.8 331.0 1385.4 331.6 1383.3 332.2 1389.7 332.9 1384.0 333.5 1385.2 334.1 1387.6 334.7 1386.2 335.4 1383.0 336.0 1382.8 336.6 1389.2 337.3 1384.5 337.9 1381.3 338.5 1390.4 339.2 1386.8 339.8 1385.9 340.4 1381.4 341.0 1384.2 341.7 1380.8 342.3 1382.7 342.9 1380.8 343.6 1380.6 344.2 1381.3 344.8 1378.2 345.5 1379.3 346.1 1379.0 346.7 1382.2 347.3 1383.4 348.0 1383.1 348.6 1376.6 349.2 1386.0 349.9 1380.7 350.5 1381.2 351.1 1381.0 351.8 1379.1 352.4 1383.3 353.0 1380.3 353.6 1381.8 354.3 1384.7 354.9 1386.8 355.5 1380.8 356.2 1380.4 356.8 1376.8 357.4 1378.2 358.1 1384.4 358.7 1383.1 359.3 1381.9 359.9 1383.3 360.6 1381.9 361.2 1383.7 361.8 1385.5 362.5 1380.2 363.1 1386.8 363.7 1387.2 364.4 1381.1 365.0 1382.6 365.6 1379.9 366.2 1375.9 366.9 1379.1 367.5 1377.9 368.1 1382.4 368.8 1379.9 369.4 1381.3 370.0 1383.6 370.7 1379.2 371.3 1377.4 371.9 1380.5 372.5 1381.0 373.2 1381.2 373.8 1378.7 374.4 1381.9 375.1 1378.3 375.7 1378.7 376.3 1384.0 377.0 1381.6 377.6 1383.6 378.2 1381.6 378.8 1375.9 379.5 1381.5 380.1 1382.2 380.7 1379.0 381.4 1381.7 382.0 1376.6 382.6 1379.0 383.3 1376.4 383.9 1372.1 384.5 1373.3 385.1 1376.1 385.8 1376.5 386.4 1378.2 387.0 1374.8 387.7 1373.0 388.3 1379.2 388.9 1373.7 389.6 1374.3 390.2 1377.9 390.8 1374.6 391.4 1370.6 392.1 1378.7 392.7 1375.1 393.3 1379.2 394.0 1370.5 394.6 1372.7 395.2 1373.1 395.9 1375.0 396.5 1372.5 397.1 1372.6 397.7 1368.8 398.4 1367.8 399.0 1365.9 399.6 1372.1 400.3 1375.5 400.9 1374.7 401.5 1372.2 402.2 1370.0 402.8 1370.8 403.4 1373.8 404.0 1370.6 404.7 1366.1 405.3 1366.9 405.9 1372.1 406.6 1367.9 407.2 1366.7 407.8 1367.2 408.5 1365.7 409.1 1372.8 409.7 1364.4 410.3 1366.5 411.0 1369.4 411.6 1365.5 412.2 1362.5 412.9 1365.7 413.5 1365.4 414.1 1363.8 414.8 1363.5 415.4 1362.8 416.0 1361.4 416.6 1366.4 417.3 1360.8 417.9 1362.7 418.5 1358.9 419.2 1356.9 419.8 1355.4 420.4 1359.2 421.1 1355.8 421.7 1362.5 422.3 1359.7 422.9 1364.4 423.6 1357.1 424.2 1361.6 424.8 1361.2 425.5 1360.7 426.1 1357.3 426.7 1359.0 427.4 1356.9 428.0 1353.8 428.6 1354.5 429.2 1352.7 429.9 1352.6 430.5 1353.0 431.1 1352.1 431.8 1351.2 432.4 1350.7 433.0 1349.2 433.7 1346.5 434.3 1350.9 434.9 1350.0 435.5 1347.7 436.2 1343.1 436.8 1349.3 437.4 1340.2 438.1 1350.6 438.7 1351.6 439.3 1356.0 440.0 1352.9 440.6 1354.5 441.2 1355.4 441.8 1349.5 442.5 1353.3 443.1 1354.6 443.7 1344.7 444.4 1346.4 445.0 1348.6 445.6 1351.2 446.3 1343.2 446.9 1340.5 447.5 1337.8 448.1 1343.2 448.8 1342.3 449.4 1340.3 450.0 1343.0 450.7 1341.7 451.3 1345.0 451.9 1338.0 452.6 1340.8 453.2 1343.3 453.8 1338.1 454.4 1336.5 455.1 1336.4 455.7 1341.1 456.3 1336.5 457.0 1338.1 457.6 1331.9 458.2 1334.4 458.9 1336.2 459.5 1335.0 460.1 1333.0 460.7 1329.3 461.4 1336.7 462.0 1335.8 462.6 1335.7 463.3 1331.7 463.9 1330.8 464.5 1332.7 465.2 1332.3 465.8 1338.5 466.4 1332.1 467.0 1332.6 467.7 1331.7 468.3 1330.9 468.9 1336.3 469.6 1333.2 470.2 1330.0 470.8 1330.8 471.5 1321.4 472.1 1331.8 472.7 1322.8 473.3 1321.4 474.0 1322.8 474.6 1327.8 475.2 1326.0 475.9 1328.2 476.5 1327.5 477.1 1323.3 477.8 1324.5 478.4 1317.1 479.0 1321.9 479.6 1321.9 480.3 1323.3 480.9 1320.8 481.5 1319.2 482.2 1322.4 482.8 1318.2 483.4 1320.9 484.1 1325.0 484.7 1325.2 485.3 1315.2 485.9 1316.0 486.6 1313.3 487.2 1313.9 487.8 1313.7 488.5 1315.6 489.1 1314.8 489.7 1306.0 490.4 1308.4 491.0 1309.8 491.6 1310.5 492.2 1311.3 492.9 1313.7 493.5 1306.7 494.1 1311.2 494.8 1309.5 495.4 1309.1 496.0 1309.7 496.7 1308.9 497.3 1303.9 497.9 1299.6 498.5 1303.7 499.2 1303.2 499.8 1296.9 500.4 1303.9 501.1 1300.7 501.7 1301.5 502.3 1302.7 503.0 1307.9 503.6 1295.8 504.2 1300.9 504.8 1293.7 505.5 1297.3 506.1 1300.0 506.7 1293.4 507.4 1299.4 508.0 1297.8 508.6 1297.7 509.3 1297.3 509.9 1294.5 510.5 1299.3 511.1 1298.8 511.8 1298.7 512.4 1295.1 513.0 1290.2 513.7 1294.4 514.3 1296.0 514.9 1296.0 515.6 1294.4 516.2 1288.9 516.8 1292.1 517.4 1293.0 518.1 1293.0 518.7 1286.9 519.3 1289.6 520.0 1289.4 520.6 1282.0 521.2 1282.6 521.9 1281.7 522.5 1286.1 523.1 1289.0 523.7 1278.1 524.4 1287.0 525.0 1285.3 525.6 1278.8 526.3 1287.7 526.9 1286.8 527.5 1285.1 528.2 1282.6 528.8 1278.1 529.4 1279.7 530.0 1274.8 530.7 1277.5 531.3 1282.3 531.9 1278.3 532.6 1276.8 533.2 1281.0 533.8 1280.4 534.5 1280.2 535.1 1274.8 535.7 1278.7 536.3 1277.1 537.0 1272.1 537.6 1271.3 538.2 1263.7 538.9 1270.3 539.5 1263.2 540.1 1265.1 540.8 1263.1 541.4 1258.3 542.0 1267.1 542.6 1262.7 543.3 1272.1 543.9 1265.8 544.5 1261.2 545.2 1259.3 545.8 1258.7 546.4 1254.5 547.1 1260.6 547.7 1263.0 548.3 1261.3 548.9 1255.3 549.6 1260.2 550.2 1254.8 550.8 1249.8 551.5 1251.9 552.1 1246.8 552.7 1249.5 553.4 1250.0 554.0 1254.5 554.6 1257.4 555.2 1246.1 555.9 1247.7 556.5 1245.8 557.1 1247.9 557.8 1245.4 558.4 1241.6 559.0 1244.2 559.7 1243.0 560.3 1241.6 560.9 1246.9 561.5 1245.0 562.2 1243.5 562.8 1246.4 563.4 1242.4 564.1 1239.8 564.7 1240.2 565.3 1238.9 566.0 1234.7 566.6 1240.0 567.2 1235.4 567.8 1236.5 568.5 1237.4 569.1 1235.0 569.7 1232.3 570.4 1231.8 571.0 1235.1 571.6 1238.5 572.3 1233.7 572.9 1230.5 573.5 1226.8 574.1 1228.5 574.8 1227.2 575.4 1229.2 576.0 1228.2 576.7 1226.1 577.3 1228.1 577.9 1224.0 578.6 1226.4 579.2 1224.7 579.8 1229.7 580.4 1227.5 581.1 1225.7 581.7 1227.7 582.3 1225.9 583.0 1218.7 583.6 1222.4 584.2 1217.9 584.9 1218.3 585.5 1217.3 586.1 1212.9 586.7 1213.1 587.4 1215.7 588.0 1215.0 588.6 1215.9 589.3 1213.4 589.9 1212.5 590.5 1211.4 591.2 1210.1 591.8 1207.5 592.4 1210.0 593.0 1205.8 593.7 1205.1 594.3 1202.8 594.9 1205.2 595.6 1200.2 596.2 1200.9 596.8 1201.1 597.5 1199.2 598.1 1204.3 598.7 1203.5 599.3 1202.7 600.0 1197.1 600.6 1204.2 601.2 1201.1 601.9 1200.5 602.5 1204.8 603.1 1195.6 603.8 1204.0 604.4 1195.4 605.0 1198.6 605.6 1196.9 606.3 1190.4 606.9 1193.2 607.5 1191.2 608.2 1195.4 608.8 1188.3 609.4 1195.5 610.1 1191.1 610.7 1187.5 611.3 1183.4 611.9 1189.1 612.6 1183.0 613.2 1185.1 613.8 1179.1 614.5 1183.0 615.1 1176.4 615.7 1182.9 616.4 1178.6 617.0 1179.1 617.6 1184.6 618.2 1181.4 618.9 1176.8 619.5 1176.7 620.1 1180.0 620.8 1171.7 621.4 1176.8 622.0 1173.4 622.7 1175.5 623.3 1174.5 623.9 1172.8 624.5 1167.6 625.2 1172.5 625.8 1170.3 626.4 1168.1 627.1 1173.1 627.7 1165.9 628.3 1166.5 629.0 1170.8 629.6 1162.0 630.2 1165.2 630.8 1160.2 631.5 1164.4 632.1 1163.6 632.7 1165.6 633.4 1157.8 634.0 1165.6 634.6 1161.5 635.3 1161.7 635.9 1158.8 636.5 1155.5 637.1 1162.1 637.8 1162.6 638.4 1160.9 639.0 1164.6 639.7 1159.5 640.3 1156.1 640.9 1155.6 641.6 1155.9 642.2 1156.8 642.8 1156.5 643.4 1155.3 644.1 1153.4 644.7 1150.6 645.3 1153.3 646.0 1155.1 646.6 1155.0 647.2 1148.1 647.9 1145.4 648.5 1146.2 649.1 1152.7 649.7 1147.8 650.4 1148.0 651.0 1146.3 651.6 1152.6 652.3 1148.2 652.9 1148.0 653.5 1143.3 654.2 1150.1 654.8 1144.0 655.4 1143.3 656.0 1151.0 656.7 1146.2 657.3 1145.1 657.9 1135.7 658.6 1137.3 659.2 1132.7 659.8 1135.9 660.5 1133.9 661.1 1135.3 661.7 1133.7 662.3 1140.8 663.0 1130.6 663.6 1135.0 664.2 1132.7 664.9 1134.8 665.5 1127.8 666.1 1136.6 666.8 1131.6 667.4 1132.7 668.0 1130.4 668.6 1138.9 669.3 1123.1 669.9 1123.7 670.5 1121.9 671.2 1123.8 671.8 1124.5 672.4 1124.0 673.1 1122.9 673.7 1121.2 674.3 1122.3 674.9 1125.5 675.6 1133.4 676.2 1130.2 676.8 1129.2 677.5 1128.7 678.1 1128.3 678.7 1128.9 679.4 1122.9 680.0 1127.1 680.6 1124.7 681.2 1117.6 681.9 1126.0 682.5 1120.8 683.1 1110.9 683.8 1106.4 684.4 1114.7 685.0 1113.6 685.7 1117.5 686.3 1116.6 686.9 1123.9 687.5 1116.8 688.2 1118.7 688.8 1118.0 689.4 1113.1 690.1 1115.6 690.7 1110.0 691.3 1111.2 692.0 1109.5 692.6 1103.8 693.2 1107.2 693.8 1117.0 694.5 1109.2 695.1 1107.5 695.7 1110.0 696.4 1109.6 697.0 1117.7 697.6 1106.0 698.3 1106.5 698.9 1109.0 699.5 1102.1 700.1 1103.2 700.8 1105.3 701.4 1108.5 702.0 1114.6 702.7 1116.7 703.3 1110.4 703.9 1112.8 704.6 1100.0 705.2 1106.7 705.8 1098.6 706.4 1102.2 707.1 1101.3 707.7 1098.1 708.3 1107.6 709.0 1110.4 709.6 1108.0 710.2 1102.9 710.9 1111.2 711.5 1097.6 712.1 1105.4 712.7 1102.8 713.4 1104.3 714.0 1108.4 714.6 1102.6 715.3 1106.0 715.9 1102.5 716.5 1106.9 717.2 1105.0 717.8 1103.8 718.4 1102.7 719.0 1102.5 719.7 1097.9 720.3 1103.1 720.9 1102.2 721.6 1095.9 722.2 1098.6 722.8 1095.2 723.5 1095.9 724.1 1096.9 724.7 1099.5 725.3 1103.4 726.0 1100.0 726.6 1095.1 727.2 1100.3 727.9 1097.5 728.5 1103.9 729.1 1101.0 729.8 1102.2 730.4 1099.0 731.0 1099.4 731.6 1094.5 732.3 1095.2 732.9 1095.6 733.5 1094.5 734.2 1094.5 734.8 1099.7 735.4 1094.5 736.1 1096.9 736.7 1099.5 737.3 1096.8 737.9 1096.0 738.6 1099.1 739.2 1101.3 739.8 1095.5 740.5 1097.7 741.1 1096.8 741.7 1094.5 742.4 1094.5 743.0 1096.2 743.6 1094.6 744.2 1098.8 744.9 1094.5 745.5 1094.5 746.1 1095.2 746.8 1094.5 747.4 1094.5 748.0 1097.8 748.7 1100.9 749.3 1103.9 749.9 1106.8 750.5 1102.7 751.2 1099.5 751.8 1104.8 752.4 1102.9 753.1 1097.0 753.7 1095.4 754.3 1097.4 755.0 1101.9 755.6 1097.9 756.2 1100.2 756.8 1096.0 757.5 1094.5 758.1 1094.5 758.7 1096.5 759.4 1097.6 760.0 1098.3 760.6 1096.8 761.3 1094.5 761.9 1094.5 762.5 1097.7 763.1 1096.7 763.8 1095.7 764.4 1094.5 765.0 1094.5 765.7 1094.5 766.3 1095.6 766.9 1099.8 767.6 1104.8 768.2 1100.0 768.8 1099.5 769.4 1094.5 770.1 1097.8 770.7 1094.5 771.3 1095.2 772.0 1094.5 772.6 1096.9 773.2 1094.5 773.9 1098.9 774.5 1100.6 775.1 1095.5 775.7 1101.9 776.4 1094.5 777.0 1099.2 777.6 1099.3 778.3 1104.1 778.9 1094.8 779.5 1105.1 780.2 1107.1 780.8 1098.5 781.4 1104.2 782.0 1097.8 782.7 1101.0 783.3 1100.9 783.9 1094.5 784.6 1101.7 785.2 1096.9 785.8 1098.9 786.5 1095.5 787.1 1104.9 787.7 1100.5 788.3 1100.9 789.0 1103.5 789.6 1098.6 790.2 1105.4 790.9 1106.7 791.5 1110.3 792.1 1110.3 792.8 1106.0 793.4 1100.7 794.0 1107.4 794.6 1105.3 795.3 1105.8 795.9 1104.1 796.5 1114.0 797.2 1108.4 797.8 1103.8 798.4 1107.7 799.1 1110.8 799.7 1104.5 800.3 1110.7 800.9 1104.1 801.6 1111.4 802.2 1114.3 802.8 1117.2 803.5 1114.5 804.1 1116.0 804.7 1109.5 805.4 1114.4 806.0 1116.2 806.6 1110.7 807.2 1118.4 807.9 1119.2 808.5 1119.1 809.1 1118.0 809.8 1118.7 810.4 1119.4 811.0 1115.3 811.7 1117.1 812.3 1118.8 812.9 1118.9 813.5 1126.7 814.2 1130.0 814.8 1127.5 815.4 1124.4 816.1 1124.6 816.7 1120.0 817.3 1121.7 818.0 1126.8 818.6 1117.0 819.2 1119.0 819.8 1122.3 820.5 1131.3 821.1 1123.8 821.7 1126.6 822.4 1129.7 823.0 1125.0 823.6 1119.7 824.3 1120.9 824.9 1124.2 825.5 1133.8 826.1 1128.0 826.8 1128.6 827.4 1131.0 828.0 1127.8 828.7 1127.8 829.3 1125.3 829.9 1128.6 830.6 1126.6 831.2 1122.6 831.8 1129.6 832.4 1133.6 833.1 1130.7 833.7 1132.3 834.3 1131.8 835.0 1142.6 835.6 1138.7 836.2 1138.0 836.9 1133.0 837.5 1137.5 838.1 1136.1 838.7 1133.7 839.4 1132.6 840.0 1142.4 840.6 1133.9 841.3 1140.2 841.9 1142.3 842.5 1136.9 843.2 1138.1 843.8 1142.0 844.4 1139.9 845.0 1136.1 845.7 1142.7 846.3 1149.8 846.9 1143.4 847.6 1141.9 848.2 1138.9 848.8 1138.1 849.5 1140.7 850.1 1136.5 850.7 1138.2 851.3 1139.2 852.0 1141.8 852.6 1143.3 853.2 1144.6 853.9 1151.0 854.5 1148.6 855.1 1148.6 855.8 1146.3 856.4 1146.2 857.0 1149.8 857.6 1158.1 858.3 1153.8 858.9 1145.3 859.5 1153.6 860.2 1147.2 860.8 1142.7 861.4 1147.4 862.1 1146.5 862.7 1148.9 863.3 1150.0 863.9 1155.0 864.6 1150.2 865.2 1157.5 865.8 1160.5 866.5 1154.1 867.1 1153.4 867.7 1155.7 868.4 1154.6 869.0 1156.1 869.6 1161.9 870.2 1163.7 870.9 1160.3 871.5 1165.0 872.1 1162.7 872.8 1160.1 873.4 1162.0 874.0 1157.0 874.7 1162.8 875.3 1169.0 875.9 1168.7 876.5 1173.0 877.2 1175.3 877.8 1164.1 878.4 1167.6 879.1 1162.5 879.7 1167.5 880.3 1166.4 881.0 1172.4 881.6 1172.5 882.2 1174.3 882.8 1171.7 883.5 1172.8 884.1 1176.8 884.7 1176.0 885.4 1173.9 886.0 1171.2 886.6 1172.1 887.3 1179.6 887.9 1182.3 888.5 1183.6 889.1 1182.5 889.8 1180.4 890.4 1176.8 891.0 1183.0 891.7 1183.4 892.3 1184.1 892.9 1176.1 893.6 1184.7 894.2 1187.9 894.8 1181.2 895.4 1183.9 896.1 1186.2 896.7 1187.1 897.3 1189.1 898.0 1190.3 898.6 1195.8 899.2 1192.8 899.9 1186.8 900.5 1190.2 901.1 1188.6 901.7 1184.8 902.4 1192.1 903.0 1191.4 903.6 1197.3 904.3 1195.1 904.9 1198.5 905.5 1197.0 906.2 1193.0 906.8 1202.9 907.4 1196.8 908.0 1199.6 908.7 1198.5 909.3 1199.8 909.9 1208.1 910.6 1198.7 911.2 1189.7 911.8 1204.8 912.5 1200.2 913.1 1197.7 913.7 1203.1 914.3 1202.1 915.0 1199.6 915.6 1207.2 916.2 1207.0 916.9 1210.3 917.5 1207.6 918.1 1207.7 918.8 1208.6 919.4 1204.2 920.0 1203.6 920.6 1208.2 921.3 1210.5 921.9 1208.4 922.5 1206.9 923.2 1207.0 923.8 1213.0 924.4 1207.3 925.1 1206.4 925.7 1208.9 926.3 1211.7 926.9 1211.4 927.6 1205.7 928.2 1207.5 928.8 1209.7 929.5 1210.5 930.1 1213.1 930.7 1217.3 931.4 1212.9 932.0 1208.9 932.6 1208.7 933.2 1212.3 933.9 1215.9 934.5 1220.7 935.1 1215.5 935.8 1221.1 936.4 1221.7 937.0 1226.9 937.7 1214.4 938.3 1217.6 938.9 1221.2 939.5 1219.7 940.2 1220.6 940.8 1220.4 941.4 1222.3 942.1 1219.6 942.7 1219.9 943.3 1217.5 944.0 1228.1 944.6 1219.0 945.2 1223.0 945.8 1225.3 946.5 1222.6 947.1 1220.9 947.7 1227.4 948.4 1220.7 949.0 1228.6 949.6 1233.3 950.3 1231.7 950.9 1221.2 951.5 1233.7 952.1 1231.5 952.8 1231.6 953.4 1235.6 954.0 1230.7 954.7 1231.7 955.3 1230.9 955.9 1229.1 956.6 1232.2 957.2 1234.0 957.8 1231.6 958.4 1237.1 959.1 1233.1 959.7 1232.5 960.3 1233.4 961.0 1234.3 961.6 1238.6 962.2 1239.3 962.9 1239.9 963.5 1243.1 964.1 1236.0 964.7 1239.8 965.4 1239.1 966.0 1231.5 966.6 1240.9 967.3 1237.1 967.9 1243.1 968.5 1238.8 969.2 1244.6 969.8 1243.2 970.4 1239.5 971.0 1249.2 971.7 1247.7 972.3 1246.3 972.9 1244.0 973.6 1250.9 974.2 1245.4 974.8 1252.3 975.5 1251.8 976.1 1252.0 976.7 1250.9 977.3 1253.6 978.0 1250.4 978.6 1248.6 979.2 1254.6 979.9 1257.5 980.5 1256.0 981.1 1250.5 981.8 1256.2 982.4 1253.5 983.0 1255.6 983.6 1255.2 984.3 1256.7 984.9 1261.1 985.5 1262.0 986.2 1268.6 986.8 1258.7 987.4 1258.6 988.1 1261.4 988.7 1261.7 989.3 1257.4 989.9 1258.5 990.6 1260.4 991.2 1262.2 991.8 1263.4 992.5 1266.8 993.1 1264.4 993.7 1264.6 994.4 1265.7 995.0 1266.2 995.6 1268.7 996.2 1259.9 996.9 1268.3 997.5 1270.1 998.1 1271.7 998.8 1264.8 999.4 1265.9 1000.0 1259.7 1000.7 1270.1 1001.3 1273.0 1001.9 1268.7 1002.5 1272.1 1003.2 1272.8 1003.8 1279.5 1004.4 1275.5 1005.1 1278.5 1005.7 1278.9 1006.3 1275.7 1007.0 1272.1 1007.6 1277.6 1008.2 1272.4 1008.8 1270.2 1009.5 1276.6 1010.1 1280.1 1010.7 1275.4 1011.4 1273.7 1012.0 1274.9 1012.6 1277.0 1013.3 1278.5 1013.9 1285.3 1014.5 1284.5 1015.1 1273.1 1015.8 1278.7 1016.4 1282.4 1017.0 1282.2 1017.7 1281.4 1018.3 1283.0 1018.9 1286.9 1019.6 1285.6 1020.2 1283.8 1020.8 1280.7 1021.4 1277.9 1022.1 1289.2 1022.7 1281.0 1023.3 1282.4 1024.0 1277.8 1024.6 1284.0 1025.2 1279.6 1025.9 1283.9 1026.5 1292.5 1027.1 1288.3 1027.7 1288.2 1028.4 1281.6 1029.0 1289.5 1029.6 1290.6 1030.3 1292.7 1030.9 1289.7 1031.5 1287.7 1032.2 1289.9 1032.8 1294.2 1033.4 1292.5 1034.0 1292.7 1034.7 1297.3 1035.3 1295.1 1035.9 1292.7 1036.6 1294.1 1037.2 1289.6 1037.8 1290.8 1038.5 1294.9 1039.1 1286.7 1039.7 1295.6 1040.3 1296.6 1041.0 1296.0 1041.6 1299.1 1042.2 1295.7 1042.9 1302.8 1043.5 1298.9 1044.1 1290.9 1044.8 1297.2 1045.4 1295.5 1046.0 1299.7 1046.6 1297.2 1047.3 1297.8 1047.9 1305.2 1048.5 1300.5 1049.2 1301.2 1049.8 1307.5 1050.4 1308.4 1051.1 1304.1 1051.7 1308.4 1052.3 1308.8 1052.9 1302.1 1053.6 1297.1 1054.2 1310.0 1054.8 1305.0 1055.5 1309.5 1056.1 1306.3 1056.7 1303.2 1057.4 1301.8 1058.0 1301.0 1058.6 1301.7 1059.2 1302.9 1059.9 1308.4 1060.5 1309.5 1061.1 1307.5 1061.8 1314.5 1062.4 1310.1 1063.0 1309.0 1063.7 1312.7 1064.3 1311.0 1064.9 1309.5 1065.5 1315.0 1066.2 1319.9 1066.8 1312.0 1067.4 1315.0 1068.1 1309.0 1068.7 1314.5 1069.3 1319.7 1070.0 1313.9 1070.6 1314.1 1071.2 1317.0 1071.8 1314.4 1072.5 1320.4 1073.1 1318.9 1073.7 1318.0 1074.4 1321.3 1075.0 1318.8 1075.6 1320.4 1076.3 1319.2 1076.9 1321.0 1077.5 1323.5 1078.1 1321.7 1078.8 1325.1 1079.4 1320.9 1080.0 1321.2 1080.7 1318.8 1081.3 1319.4 1081.9 1313.7 1082.6 1314.1 1083.2 1319.7 1083.8 1320.8 1084.4 1322.3 1085.1 1330.4 1085.7 1325.3 1086.3 1327.0 1087.0 1321.9 1087.6 1322.2 1088.2 1325.1 1088.9 1329.8 1089.5 1323.4 1090.1 1324.3 1090.7 1320.4 1091.4 1320.8 1092.0 1321.0 1092.6 1323.5 1093.3 1323.7 1093.9 1318.0 1094.5 1327.6 1095.2 1328.1 1095.8 1330.3 1096.4 1327.5 1097.0 1335.8 1097.7 1327.0 1098.3 1331.7 1098.9 1331.7 1099.6 1325.1 1100.2 1328.8 1100.8 1325.8 1101.5 1331.9 1102.1 1321.4 1102.7 1328.2 1103.3 1328.0 1104.0 1331.3 1104.6 1330.0 1105.2 1327.0 1105.9 1335.6 1106.5 1329.4 1107.1 1333.8 1107.8 1335.4 1108.4 1327.2 1109.0 1332.2 1109.6 1328.8 1110.3 1331.2 1110.9 1337.0 1111.5 1332.2 1112.2 1330.3 1112.8 1332.7 1113.4 1334.9 1114.1 1336.0 1114.7 1340.8 1115.3 1335.6 1115.9 1334.7 1116.6 1337.9 1117.2 1336.3 1117.8 1334.0 1118.5 1331.2 1119.1 1339.6 1119.7 1337.8 1120.4 1335.8 1121.0 1340.1 1121.6 1337.8 1122.2 1336.8 1122.9 1341.6 1123.5 1340.8 1124.1 1341.0 1124.8 1343.9 1125.4 1341.3 1126.0 1340.9 1126.7 1339.6 1127.3 1340.3 1127.9 1343.3 1128.5 1343.1 1129.2 1341.1 1129.8 1344.0 1130.4 1344.7 1131.1 1340.9 1131.7 1343.0 1132.3 1343.5 1133.0 1342.0 1133.6 1345.0 1134.2 1339.3 1134.8 1347.2 1135.5 1340.1 1136.1 1347.5 1136.7 1341.8 1137.4 1346.9 1138.0 1343.6 1138.6 1342.2 1139.3 1339.8 1139.9 1342.3 1140.5 1347.5 1141.1 1346.6 1141.8 1350.4 1142.4 1350.1 1143.0 1351.7 1143.7 1351.6 1144.3 1351.7 1144.9 1348.7 1145.6 1352.6 1146.2 1348.8 1146.8 1347.5 1147.4 1346.6 1148.1 1345.2 1148.7 1346.7 1149.3 1346.4 1150.0 1355.1 1150.6 1346.9 1151.2 1348.8 1151.9 1344.0 1152.5 1344.3 1153.1 1350.7 1153.7 1350.0 1154.4 1354.9 1155.0 1352.4 1155.6 1353.4 1156.3 1356.2 1156.9 1356.6 1157.5 1361.8 1158.2 1357.5 1158.8 1352.1 1159.4 1351.4 1160.0 1358.5 1160.7 1358.4 1161.3 1356.2 1161.9 1361.5 1162.6 1357.4 1163.2 1357.6 1163.8 1364.7 1164.5 1359.4 1165.1 1356.8 1165.7 1351.5 1166.3 1360.6 1167.0 1362.4 1167.6 1358.4 1168.2 1364.5 1168.9 1357.7 1169.5 1357.9 1170.1 1361.1 1170.8 1364.5 1171.4 1362.2 1172.0 1360.6 1172.6 1364.9 1173.3 1361.4 1173.9 1362.7 1174.5 1358.0 1175.2 1364.2 1175.8 1361.0 1176.4 1362.3 1177.1 1369.2 1177.7 1367.2 1178.3 1371.4 1178.9 1361.7 1179.6 1364.8 1180.2 1367.9 1180.8 1366.4 1181.5 1368.2 1182.1 1367.2 1182.7 1368.8 1183.4 1365.2 1184.0 1370.8 1184.6 1370.1 1185.2 1368.4 1185.9 1371.1 1186.5 1367.9 1187.1 1368.8 1187.8 1365.5 1188.4 1367.9 1189.0 1370.0 1189.7 1364.0 1190.3 1368.1 1190.9 1368.0 1191.5 1368.4 1192.2 1365.1 1192.8 1367.2 1193.4 1363.8 1194.1 1364.8 1194.7 1369.9 1195.3 1372.2 1196.0 1371.1 1196.6 1370.0 1197.2 1366.3 1197.8 1369.7 1198.5 1366.8 1199.1 1370.2 1199.7 1369.0 1200.4 1368.4 1201.0 1360.1 1201.6 1362.8 1202.3 1364.2 1202.9 1365.3 1203.5 1368.2 1204.1 1368.7 1204.8 1371.8 1205.4 1374.3 1206.0 1372.1 1206.7 1368.5 1207.3 1371.4 1207.9 1371.6 1208.6 1370.4 1209.2 1365.9 1209.8 1369.0 1210.4 1367.0 1211.1 1367.9 1211.7 1365.1 1212.3 1371.2 1213.0 1372.6 1213.6 1375.7 1214.2 1374.5 1214.9 1369.5 1215.5 1371.3 1216.1 1371.4 1216.7 1369.6 1217.4 1370.9 1218.0 1367.7 1218.6 1367.6 1219.3 1370.8 1219.9 1362.9 1220.5 1372.3 1221.2 1368.1 1221.8 1373.7 1222.4 1370.1 1223.0 1373.2 1223.7 1370.1 1224.3 1369.2 1224.9 1374.7 1225.6 1373.3 1226.2 1367.8 1226.8 1373.4 1227.5 1370.2 1228.1 1370.3 1228.7 1372.7 1229.3 1375.2 1230.0 1371.5 1230.6 1369.3 1231.2 1369.0 1231.9 1367.0 1232.5 1370.5 1233.1 1366.0 1233.8 1367.8 1234.4 1363.5 1235.0 1367.0 1235.6 1362.9 1236.3 1372.3 1236.9 1367.0 1237.5 1370.3 1238.2 1370.5 1238.8 1371.8 1239.4 1371.7 1240.1 1375.7 1240.7 1376.0 1241.3 1376.0 1241.9 1372.7 1242.6 1370.8 1243.2 1372.5 1243.8 1373.0 1244.5 1375.7 1245.1 1372.1 1245.7 1370.2 1246.4 1369.2 1247.0 1373.7 1247.6 1372.9 1248.2 1376.1 1248.9 1371.3 1249.5 1372.6 1250.1 1365.6 1250.8 1364.4 1251.4 1376.0 1252.0 1374.9 1252.7 1369.7 1253.3 1371.2 1253.9 1368.4 1254.5 1373.1 1255.2 1378.0 1255.8 1371.2 1256.4 1373.4 1257.1 1375.0 1257.7 1372.2 1258.3 1372.3 1259.0 1372.5 1259.6 1369.7 1260.2 1372.2 1260.8 1367.4 1261.5 1371.5 1262.1 1370.4 1262.7 1371.3 1263.4 1368.2 1264.0 1366.1 1264.6 1368.2 1265.3 1369.3 1265.9 1373.3 1266.5 1370.3 1267.1 1373.5 1267.8 1370.1 1268.4 1371.6 1269.0 1368.8 1269.7 1365.2 1270.3 1365.4 1270.9 1366.3 1271.6 1370.0 1272.2 1376.3 1272.8 1367.6 1273.4 1372.9 1274.1 1374.8 1274.7 1370.6 1275.3 1371.9 1276.0 1369.3 1276.6 1366.7 1277.2 1365.5 1277.9 1365.7 1278.5 1369.4 1279.1 1369.3 1279.7 1366.0 1280.4 1376.3 1281.0 1373.3 1281.6 1369.9 1282.3 1373.6 1282.9 1373.7 1283.5 1371.6 1284.2 1365.6 1284.8 1369.2 1285.4 1365.8 1286.0 1369.1 1286.7 1370.9 1287.3 1360.1 1287.9 1367.5 1288.6 1367.2 1289.2 1370.8 1289.8 1374.8 1290.5 1372.9 1291.1 1365.1 1291.7 1369.8 1292.3 1366.9 1293.0 1368.5 1293.6 1364.7 1294.2 1368.8 1294.9 1367.0 1295.5 1370.6 1296.1 1368.5 1296.8 1374.5 1297.4 1369.7 1298.0 1376.3 1298.6 1376.2 1299.3 1371.5 1299.9 1373.5 1300.5 1377.8 1301.2 1375.4 1301.8 1368.6 1302.4 1370.5 1303.1 1374.3 1303.7 1377.4 1304.3 1373.7 1304.9 1369.4 1305.6 1370.8 1306.2 1369.0 1306.8 1367.8 1307.5 1362.5 1308.1 1357.9 1308.7 1363.3 1309.4 1361.5 1310.0 1364.2 1310.6 1359.8 1311.2 1365.3 1311.9 1371.0 1312.5 1368.5 1313.1 1366.3 1313.8 1373.3 1314.4 1369.2 1315.0 1369.9 1315.7 1370.3 1316.3 1369.3 1316.9 1368.8 1317.5 1372.8 1318.2 1370.5 1318.8 1372.8 1319.4 1375.1 1320.1 1368.4 1320.7 1368.4 1321.3 1368.2 1322.0 1364.5 1322.6 1368.5 1323.2 1365.1 1323.8 1366.9 1324.5 1364.5 1325.1 1372.1 1325.7 1372.8 1326.4 1369.9 1327.0 1372.1 1327.6 1371.0 1328.3 1370.7 1328.9 1373.2 1329.5 1380.0 1330.1 1369.1 1330.8 1371.3 1331.4 1367.3 1332.0 1372.2 1332.7 1372.3 1333.3 1367.4 1333.9 1371.6 1334.6 1369.3 1335.2 1372.2 1335.8 1369.8 1336.4 1367.1 1337.1 1365.1 1337.7 1368.8 1338.3 1364.2 1339.0 1372.6 1339.6 1369.9 1340.2 1368.9 1340.9 1371.0 1341.5 1372.1 1342.1 1368.9 1342.7 1372.3 1343.4 1371.2 1344.0 1372.9 1344.6 1376.3 1345.3 1371.4 1345.9 1371.4 1346.5 1367.5 1347.2 1372.4 1347.8 1369.1 1348.4 1367.9 1349.0 1370.4 1349.7 1370.3 1350.3 1370.4 1350.9 1371.3 1351.6 1371.3 1352.2 1367.2 1352.8 1376.1 1353.5 1368.6 1354.1 1370.3 1354.7 1365.9 1355.3 1368.1 1356.0 1372.8 1356.6 1372.8 1357.2 1370.2 1357.9 1372.6 1358.5 1373.7 1359.1 1370.0 1359.8 1365.7 1360.4 1371.4 1361.0 1365.9 1361.6 1371.5 1362.3 1368.5 1362.9 1365.2 1363.5 1366.4 1364.2 1369.3 1364.8 1373.6 1365.4 1367.4 1366.1 1377.0 1366.7 1371.0 1367.3 1374.0 1367.9 1375.4 1368.6 1372.7 1369.2 1371.9 1369.8 1375.1 1370.5 1375.6 1371.1 1374.6 1371.7 1369.5 1372.4 1371.0 1373.0 1368.6 1373.6 1371.1 1374.2 1366.9 1374.9 1377.8 1375.5 1374.0 1376.1 1374.0 1376.8 1374.7 1377.4 1373.8 1378.0 1371.5 1378.7 1369.4 1379.3 1366.8 1379.9 1377.0 1380.5 1371.9 1381.2 1377.5 1381.8 1372.4 1382.4 1370.9 1383.1 1375.8 1383.7 1369.9 1384.3 1367.6 1385.0 1377.5 1385.6 1376.0 1386.2 1379.4 1386.8 1377.7 1387.5 1374.6 1388.1 1372.7 1388.7 1375.9 1389.4 1376.2 1390.0 1374.4 1390.6 1375.0 1391.3 1379.6 1391.9 1377.7 1392.5 1378.6 1393.1 1375.0 1393.8 1374.6 1394.4 1373.6 1395.0 1376.2 1395.7 1373.4 1396.3 1375.5 1396.9 1372.0 1397.6 1374.4 1398.2 1376.8 1398.8 1375.0 1399.4 1375.6 1400.1 1372.7 1400.7 1374.4 1401.3 1374.5 1402.0 1378.3 1402.6 1377.3 1403.2 1378.4 1403.9 1377.2 1404.5 1378.6 1405.1 1376.3 1405.7 1373.1 1406.4 1376.1 1407.0 1373.9 1407.6 1376.4 1408.3 1374.4 1408.9 1376.5 1409.5 1372.1 1410.2 1377.3 1410.8 1379.2 1411.4 1378.9 1412.0 1377.7 1412.7 1377.9 1413.3 1380.4 1413.9 1379.8 1414.6 1373.0 1415.2 1381.2 1415.8 1378.0 1416.5 1379.3 1417.1 1376.4 1417.7 1380.7 1418.3 1383.1 1419.0 1377.0 1419.6 1378.5 1420.2 1377.8 1420.9 1377.7 1421.5 1378.0 1422.1 1381.2 1422.8 1374.5 1423.4 1378.0 1424.0 1377.3 1424.6 1373.0 1425.3 1378.1 1425.9 1372.7 1426.5 1377.7 1427.2 1378.1 1427.8 1376.7 1428.4 1379.8 1429.1 1374.7 1429.7 1377.9 1430.3 1379.2 1430.9 1384.2 1431.6 1379.8 1432.2 1378.2 1432.8 1375.9 1433.5 1380.0 1434.1 1376.6 1434.7 1382.5 1435.4 1380.9 1436.0 1379.1 1436.6 1374.8 1437.2 1372.1 1437.9 1379.4 1438.5 1378.6 1439.1 1378.3 1439.8 1378.5 1440.4 1379.0 1441.0 1382.3 1441.7 1378.0 1442.3 1381.1 1442.9 1380.3 1443.5 1379.5 1444.2 1377.7 1444.8 1373.3 1445.4 1383.2 1446.1 1378.4 1446.7 1375.9 1447.3 1378.0 1448.0 1378.5 1448.6 1372.8 1449.2 1382.8 1449.8 1379.2 1450.5 1379.3 1451.1 1374.8 1451.7 1376.7 1452.4 1375.4 1453.0 1387.0 1453.6 1377.2 1454.3 1377.7 1454.9 1382.5 1455.5 1381.9 1456.1 1383.3 1456.8 1385.5 1457.4 1383.6 1458.0 1381.8 1458.7 1377.7 1459.3 1379.7 1459.9 1375.6 1460.6 1382.4 1461.2 1378.9 1461.8 1382.7 1462.4 1378.8 1463.1 1383.1 1463.7 1378.6 1464.3 1379.3 1465.0 1383.1 1465.6 1382.7 1466.2 1383.9 1466.9 1378.0 1467.5 1378.0 1468.1 1379.2 1468.7 1380.7 1469.4 1380.2 1470.0 1378.6 1470.6 1377.4 1471.3 1382.5 1471.9 1382.7 1472.5 1379.3 1473.2 1377.2 1473.8 1379.9 1474.4 1385.2 1475.0 1381.2 1475.7 1386.1 1476.3 1380.9 1476.9 1381.7 1477.6 1386.6 1478.2 1380.5 1478.8 1382.6 1479.5 1382.1 1480.1 1382.9 1480.7 1382.1 1481.3 1384.9 1482.0 1383.5 1482.6 1383.2 1483.2 1383.9 1483.9 1385.3 1484.5 1379.5 1485.1 1383.9 1485.8 1380.8 1486.4 1382.7 1487.0 1385.6 1487.6 1386.6 1488.3 1382.0 1488.9 1382.8 1489.5 1382.6 1490.2 1385.5 1490.8 1381.4 1491.4 1382.0 1492.1 1384.9 1492.7 1377.5 1493.3 1382.0 1493.9 1381.5 1494.6 1380.3 1495.2 1385.3 1495.8 1378.6 1496.5 1379.3 1497.1 1382.0 1497.7 1376.7 1498.4 1378.5 1499.0 1386.5 1499.6 1384.9 1500.2 1384.7 1500.9 1389.4 1501.5 1381.7 1502.1 1384.7 1502.8 1383.9 1503.4 1386.2 1504.0 1381.1 1504.7 1378.4 1505.3 1382.2 1505.9 1377.9 1506.5 1378.9 1507.2 1376.8 1507.8 1383.0 1508.4 1380.3 1509.1 1386.1 1509.7 1387.9 1510.3 1383.6 1511.0 1384.1 1511.6 1386.6 1512.2 1387.6 1512.8 1389.1 1513.5 1386.0 1514.1 1385.9 1514.7 1388.5 1515.4 1388.1 1516.0 1383.0 1516.6 1387.0 1517.3 1386.8 1517.9 1381.5 1518.5 1382.5 1519.1 1385.1 1519.8 1382.7 1520.4 1385.3 1521.0 1386.9 1521.7 1387.6 1522.3 1385.2 1522.9 1381.9 1523.6 1379.9 1524.2 1381.9 1524.8 1375.0 1525.4 1379.3 1526.1 1376.4 1526.7 1386.3 1527.3 1379.9 1528.0 1387.9 1528.6 1388.4 1529.2 1384.6 1529.9 1379.6 1530.5 1383.8 1531.1 1386.1 1531.7 1386.4 1532.4 1382.0 1533.0 1387.7 1533.6 1384.8 1534.3 1386.9 1534.9 1385.5 1535.5 1386.1 1536.2 1385.9 1536.8 1386.2 1537.4 1390.1 1538.0 1385.8 1538.7 1385.8 1539.3 1386.8 1539.9 1385.6 1540.6 1382.5 1541.2 1386.8 1541.8 1383.5 1542.5 1381.0 1543.1 1389.4 1543.7 1378.9 1544.3 1387.6 1545.0 1387.7 1545.6 1387.1 1546.2 1392.1 1546.9 1385.8 1547.5 1376.2 1548.1 1385.0 1548.8 1386.0 1549.4 1388.6 1550.0 1384.3 1550.6 1382.8 1551.3 1383.2 1551.9 1383.1 1552.5 1382.3 1553.2 1388.9 1553.8 1387.6 1554.4 1387.9 1555.1 1389.3 1555.7 1387.9 1556.3 1385.0 1556.9 1392.4 1557.6 1387.4 1558.2 1382.7 1558.8 1385.8 1559.5 1382.4 1560.1 1384.1 1560.7 1387.1 1561.4 1383.0 1562.0 1383.5 1562.6 1384.3 1563.2 1384.4 1563.9 1383.5 1564.5 1381.8 1565.1 1381.4 1565.8 1384.7 1566.4 1382.4 1567.0 1383.4 1567.7 1383.0 1568.3 1379.5 1568.9 1385.6 1569.5 1382.3 1570.2 1388.8 1570.8 1389.8 1571.4 1388.7 1572.1 1385.9 1572.7 1388.6 1573.3 1387.7 1574.0 1379.1 1574.6 1384.8 1575.2 1390.2 1575.8 1384.0 1576.5 1381.3 1577.1 1387.4 1577.7 1384.0 1578.4 1388.2 1579.0 1388.0 1579.6 1386.4 1580.3 1385.3 1580.9 1390.7 1581.5 1386.4 1582.1 1386.9 1582.8 1384.4 1583.4 1388.9 1584.0 1387.7 1584.7 1385.3 1585.3 1384.9 1585.9 1390.0 1586.6 1386.3 1587.2 1385.3 1587.8 1386.1 1588.4 1380.1 1589.1 1389.6 1589.7 1386.7 1590.3 1384.0 1591.0 1377.5 1591.6 1385.1 1592.2 1377.6 1592.9 1387.9 1593.5 1377.1 1594.1 1386.8 1594.7 1383.4 1595.4 1388.0 1596.0 1377.8 1596.6 1382.3 1597.3 1379.1 1597.9 1383.1 1598.5 1384.4 1599.2 1383.7 1599.8 1385.9 1600.4 1383.1 1601.0 1381.0 1601.7 1381.4 1602.3 1380.8 1602.9 1384.7 1603.6 1382.8 1604.2 1386.2 1604.8 1383.6 1605.5 1384.2 1606.1 1381.9 1606.7 1377.9 1607.3 1384.4 1608.0 1382.5 1608.6 1382.1 1609.2 1385.3 1609.9 1387.3 1610.5 1384.4 1611.1 1386.9 1611.8 1382.0 1612.4 1379.4 1613.0 1382.3 1613.6 1385.1 1614.3 1385.0 1614.9 1388.0 1615.5 1382.9 1616.2 1387.5 1616.8 1390.8 1617.4 1387.2 1618.1 1385.8 1618.7 1387.1 1619.3 1380.6 1619.9 1385.2 1620.6 1390.2 1621.2 1385.3 1621.8 1388.9 1622.5 1385.8 1623.1 1387.0 1623.7 1388.3 1624.4 1386.7 1625.0 1378.6 1625.6 1376.8 1626.2 1383.0 1626.9 1380.5 1627.5 1383.5 1628.1 1385.3 1628.8 1386.6 1629.4 1387.2 1630.0 1389.7 1630.7 1385.2 1631.3 1387.2 1631.9 1384.3 1632.5 1383.3 1633.2 1381.7 1633.8 1387.1 1634.4 1385.9 1635.1 1383.9 1635.7 1383.5 1636.3 1383.0 1637.0 1384.9 1637.6 1387.0 1638.2 1387.3 1638.8 1384.7 1639.5 1383.8 1640.1 1382.2 1640.7 1385.6 1641.4 1385.9 1642.0 1387.9 1642.6 1388.3 1643.3 1389.1 1643.9 1386.0 1644.5 1383.5 1645.1 1388.6 1645.8 1386.5 1646.4 1387.7 1647.0 1379.8 1647.7 1385.0 1648.3 1382.3 1648.9 1386.1 1649.6 1379.3 1650.2 1385.3 1650.8 1385.3 1651.4 1384.4 1652.1 1381.2 1652.7 1387.6 1653.3 1385.6 1654.0 1383.4 1654.6 1385.4 1655.2 1386.7 1655.9 1385.6 1656.5 1385.6 1657.1 1378.4 1657.7 1375.3 1658.4 1380.8 1659.0 1377.3 1659.6 1383.8 1660.3 1380.7 1660.9 1387.8 1661.5 1380.1 1662.2 1378.5 1662.8 1384.0 1663.4 1385.1 1664.0 1384.0 1664.7 1384.3 1665.3 1381.5 1665.9 1382.2 1666.6 1383.0 1667.2 1389.5 1667.8 1383.8 1668.5 1382.9 1669.1 1379.9 1669.7 1384.7 1670.3 1385.9 1671.0 1385.9 1671.6 1379.6 1672.2 1380.3 1672.9 1384.9 1673.5 1383.0 1674.1 1389.3 1674.8 1383.7 1675.4 1385.4 1676.0 1385.4 1676.6 1386.2 1677.3 1390.4 1677.9 1381.0 1678.5 1382.0 1679.2 1386.4 1679.8 1389.0 1680.4 1387.0 1681.1 1394.5 1681.7 1390.7 1682.3 1384.8 1682.9 1388.1 1683.6 1391.4 1684.2 1385.1 1684.8 1383.5 1685.5 1387.5 1686.1 1391.2 1686.7 1383.7 1687.4 1381.3 1688.0 1386.7 1688.6 1385.0 1689.2 1385.2 1689.9 1386.5 1690.5 1391.2 1691.1 1388.5 1691.8 1392.9 1692.4 1389.3 1693.0 1384.7 1693.7 1388.3 1694.3 1383.5 1694.9 1375.6 1695.5 1378.4 1696.2 1379.9 1696.8 1382.8 1697.4 1384.2 1698.1 1382.6 1698.7 1387.6 1699.3 1387.0 1700.0 1384.9 1700.6 1387.3 1701.2 1381.5 1701.8 1383.0 1702.5 1389.0 1703.1 1384.6 1703.7 1388.6 1704.4 1384.6 1705.0 1386.4 1705.6 1380.0 1706.3 1384.5 1706.9 1381.9 1707.5 1381.8 1708.1 1394.7 1708.8 1379.6 1709.4 1386.0 1710.0 1386.3" stroke="#000000"/>
</g>
<rect x="136.3" y="75.2" width="1573.9" height="1330.8" fill="none" stroke="#000" stroke-width="3.8"/>
<g stroke="#000" stroke-width="3.4" stroke-linecap="round"><line x1="136.3" y1="1406" x2="136.3" y2="1426"/><line x1="215.0" y1="1406" x2="215.0" y2="1417"/><line x1="293.7" y1="1406" x2="293.7" y2="1426"/><line x1="372.4" y1="1406" x2="372.4" y2="1417"/><line x1="451.1" y1="1406" x2="451.1" y2="1426"/><line x1="529.8" y1="1406" x2="529.8" y2="1417"/><line x1="608.5" y1="1406" x2="608.5" y2="1426"/><line x1="687.2" y1="1406" x2="687.2" y2="1417"/><line x1="765.9" y1="1406" x2="765.9" y2="1426"/><line x1="844.6" y1="1406" x2="844.6" y2="1417"/><line x1="923.2" y1="1406" x2="923.2" y2="1426"/><line x1="1001.9" y1="1406" x2="1001.9" y2="1417"/><line x1="1080.6" y1="1406" x2="1080.6" y2="1426"/><line x1="1159.3" y1="1406" x2="1159.3" y2="1417"/><line x1="1238.0" y1="1406" x2="1238.0" y2="1426"/><line x1="1316.7" y1="1406" x2="1316.7" y2="1417"/><line x1="1395.4" y1="1406" x2="1395.4" y2="1426"/><line x1="1474.1" y1="1406" x2="1474.1" y2="1417"/><line x1="1552.8" y1="1406" x2="1552.8" y2="1426"/><line x1="1631.5" y1="1406" x2="1631.5" y2="1417"/><line x1="1710.2" y1="1406" x2="1710.2" y2="1426"/></g>
<g class="tl"><text x="136.3" y="1474" transform="translate(136.3,0) scale(1,1) translate(-136.3,0)">5</text><text x="293.7" y="1474" transform="translate(293.7,0) scale(0.975,1) translate(-293.7,0)">10</text><text x="451.1" y="1474" transform="translate(451.1,0) scale(0.975,1) translate(-451.1,0)">15</text><text x="608.5" y="1474" transform="translate(608.5,0) scale(0.975,1) translate(-608.5,0)">20</text><text x="765.9" y="1474" transform="translate(765.9,0) scale(0.975,1) translate(-765.9,0)">25</text><text x="923.2" y="1474" transform="translate(923.2,0) scale(0.975,1) translate(-923.2,0)">30</text><text x="1080.6" y="1474" transform="translate(1080.6,0) scale(0.975,1) translate(-1080.6,0)">35</text><text x="1238.0" y="1474" transform="translate(1238.0,0) scale(0.975,1) translate(-1238.0,0)">40</text><text x="1395.4" y="1474" transform="translate(1395.4,0) scale(0.975,1) translate(-1395.4,0)">45</text><text x="1552.8" y="1474" transform="translate(1552.8,0) scale(0.975,1) translate(-1552.8,0)">50</text><text x="1710.2" y="1474" transform="translate(1710.2,0) scale(0.975,1) translate(-1710.2,0)">55</text></g>
<text class="pk" x="634" y="56.8">22.4</text>
<text class="pk" x="810" y="60.2">28.2</text>
<line x1="1259.0" y1="207.2" x2="1354.8" y2="207.2" stroke="#00ffff" stroke-width="5" stroke-linecap="round"/><text class="lg" x="1368.1" y="222.1">PVP:Nb<tspan class="sub" dy="15.8">2</tspan><tspan dy="-15.8">O</tspan><tspan class="sub" dy="15.8">5</tspan><tspan dy="-15.8">(35%)</tspan></text><line x1="1259.0" y1="462.2" x2="1354.8" y2="462.2" stroke="#ff0000" stroke-width="5" stroke-linecap="round"/><text class="lg" x="1368.1" y="477.5">PVP:Nb<tspan class="sub" dy="15.8">2</tspan><tspan dy="-15.8">O</tspan><tspan class="sub" dy="15.8">5</tspan><tspan dy="-15.8">(25%)</tspan></text><line x1="1258.0" y1="715.3" x2="1353.8" y2="715.3" stroke="#00ff00" stroke-width="5" stroke-linecap="round"/><text class="lg" x="1367.0" y="730.4">PVP:Nb<tspan class="sub" dy="15.8">2</tspan><tspan dy="-15.8">O</tspan><tspan class="sub" dy="15.8">5</tspan><tspan dy="-15.8">(15%)</tspan></text><line x1="1258.5" y1="966.1" x2="1354.5" y2="966.1" stroke="#0000ff" stroke-width="5" stroke-linecap="round"/><text class="lg" x="1368.1" y="981.2">PVP:Nb<tspan class="sub" dy="15.8">2</tspan><tspan dy="-15.8">O</tspan><tspan class="sub" dy="15.8">5</tspan><tspan dy="-15.8">(5 %)</tspan></text><line x1="1509" y1="1253.3" x2="1606" y2="1253.3" stroke="#000" stroke-width="5" stroke-linecap="round"/><text class="lg" x="1618.5" y="1267.8">PVP</text>
<text class="ax" x="765.3" y="1549">2</text><text class="ax serif" x="800.8" y="1549" transform="translate(800.8,0) scale(1.2,1) translate(-800.8,0)" style="font-size:62px">θ</text><text class="ax serif" x="835" y="1551.8" style="font-size:66px">[</text><text class="ax" x="858" y="1549" style="font-size:63px">deg]</text>
<text class="ax" style="font-size:63.4px" transform="translate(78.5,948.2) rotate(-90)">Intensity [a.u]</text>
</svg>
</body></html>
